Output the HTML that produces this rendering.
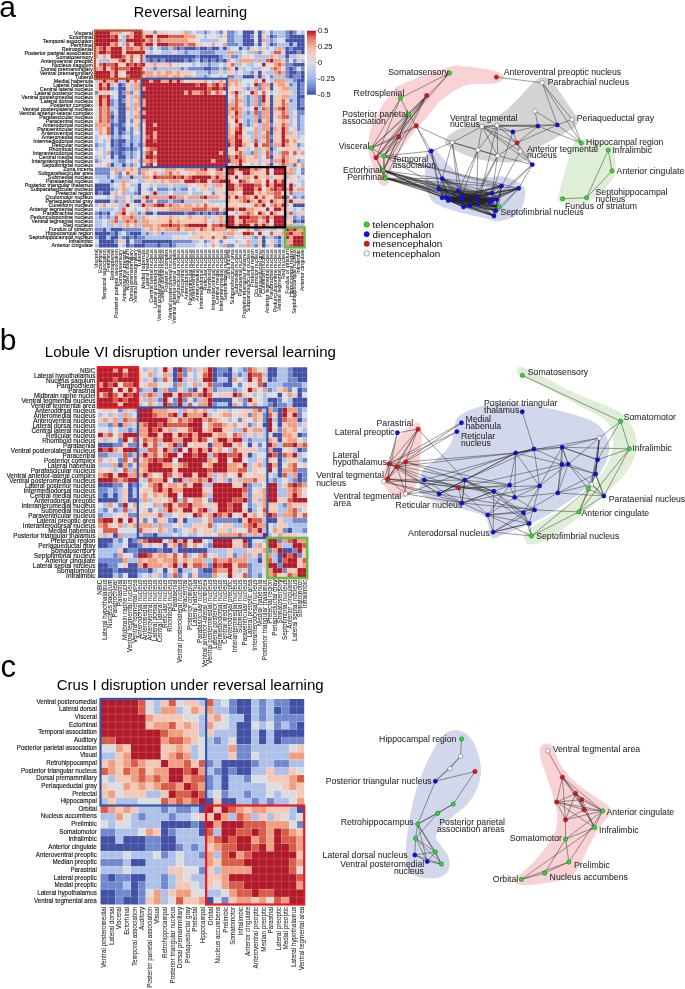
<!DOCTYPE html>
<html><head><meta charset="utf-8"><style>
html,body{margin:0;padding:0;background:#fff;}
body{width:685px;height:989px;overflow:hidden;}
svg{display:block;filter:blur(0.35px);font-family:"Liberation Sans",sans-serif;fill:#000;}
.lb{fill:#111;stroke:#111;stroke-width:0.14px;}
.cl{fill:#1a1a1a;stroke:#1a1a1a;stroke-width:0.05px;}
.nl{fill:#2a2a2a;stroke:#2a2a2a;stroke-width:0.06px;}
</style></head><body>
<svg width="685" height="989" viewBox="0 0 685 989">
<text x="-0.7" y="16.6" font-size="30">a</text>
<text x="-0.3" y="350" font-size="30">b</text>
<text x="0.6" y="677" font-size="31">c</text>
<text x="190.4" y="16.7" font-size="14.55" text-anchor="middle">Reversal learning</text>
<text x="190.35" y="357.1" font-size="15.05" text-anchor="middle">Lobule VI disruption under reversal learning</text>
<text x="190.2" y="689.6" font-size="15.0" text-anchor="middle">Crus I disruption under reversal learning</text>
<g transform="translate(94.8 30.5) scale(3.8852 4.0185)">
<path fill="#4250a5" d="M38 0h3v1h-3zM42 0h1v1h-1zM50 0h1v1h-1zM38 1h2v1h-2zM42 1h1v1h-1zM45 1h1v1h-1zM50 1h4v1h-4zM38 2h3v1h-3zM42 2h1v1h-1zM49 2h5v1h-5zM38 3h3v1h-3zM42 3h1v1h-1zM45 3h1v1h-1zM50 3h1v1h-1zM52 3h2v1h-2zM21 4h1v1h-1zM23 4h3v1h-3zM27 4h2v1h-2zM30 4h2v1h-2zM33 4h1v1h-1zM37 4h1v1h-1zM49 4h1v1h-1zM51 4h3v1h-3zM49 5h3v1h-3zM53 5h1v1h-1zM13 6h13v1h-13zM27 6h5v1h-5zM49 6h1v1h-1zM14 7h1v1h-1zM16 7h1v1h-1zM18 7h5v1h-5zM24 7h1v1h-1zM27 7h1v1h-1zM29 7h1v1h-1zM31 7h1v1h-1zM33 7h1v1h-1zM51 8h3v1h-3zM28 9h2v1h-2zM36 9h1v1h-1zM50 9h1v1h-1zM42 10h1v1h-1zM50 10h2v1h-2zM53 10h1v1h-1zM38 11h3v1h-3zM42 11h1v1h-1zM50 11h1v1h-1zM53 11h1v1h-1zM52 12h2v1h-2zM6 13h1v1h-1zM45 13h1v1h-1zM52 13h1v1h-1zM6 14h2v1h-2zM45 14h1v1h-1zM52 14h1v1h-1zM6 15h1v1h-1zM52 15h1v1h-1zM6 16h2v1h-2zM45 16h1v1h-1zM52 16h2v1h-2zM6 17h1v1h-1zM45 17h1v1h-1zM52 17h1v1h-1zM6 18h2v1h-2zM45 18h1v1h-1zM52 18h1v1h-1zM6 19h2v1h-2zM45 19h1v1h-1zM52 19h2v1h-2zM6 20h2v1h-2zM45 20h1v1h-1zM4 21h1v1h-1zM6 21h2v1h-2zM45 21h1v1h-1zM6 22h2v1h-2zM42 22h1v1h-1zM45 22h1v1h-1zM4 23h1v1h-1zM6 23h1v1h-1zM4 24h1v1h-1zM6 24h2v1h-2zM45 24h1v1h-1zM4 25h1v1h-1zM6 25h1v1h-1zM45 25h1v1h-1zM4 27h1v1h-1zM6 27h2v1h-2zM45 27h1v1h-1zM4 28h1v1h-1zM6 28h1v1h-1zM9 28h1v1h-1zM6 29h2v1h-2zM9 29h1v1h-1zM45 29h1v1h-1zM4 30h1v1h-1zM6 30h1v1h-1zM4 31h1v1h-1zM6 31h2v1h-2zM45 31h1v1h-1zM4 33h1v1h-1zM7 33h1v1h-1zM45 33h1v1h-1zM9 36h1v1h-1zM4 37h1v1h-1zM0 38h4v1h-4zM11 38h1v1h-1zM0 39h4v1h-4zM11 39h1v1h-1zM0 40h1v1h-1zM2 40h2v1h-2zM11 40h1v1h-1zM0 42h4v1h-4zM10 42h2v1h-2zM22 42h1v1h-1zM51 43h3v1h-3zM1 45h1v1h-1zM3 45h1v1h-1zM13 45h2v1h-2zM16 45h7v1h-7zM24 45h2v1h-2zM27 45h1v1h-1zM29 45h1v1h-1zM31 45h1v1h-1zM33 45h1v1h-1zM51 47h1v1h-1zM53 47h1v1h-1zM2 49h1v1h-1zM4 49h3v1h-3zM0 50h4v1h-4zM5 50h1v1h-1zM9 50h3v1h-3zM1 51h2v1h-2zM4 51h2v1h-2zM8 51h1v1h-1zM10 51h1v1h-1zM43 51h1v1h-1zM47 51h1v1h-1zM1 52h4v1h-4zM8 52h1v1h-1zM12 52h8v1h-8zM43 52h1v1h-1zM1 53h5v1h-5zM8 53h1v1h-1zM10 53h3v1h-3zM16 53h1v1h-1zM19 53h1v1h-1zM43 53h1v1h-1zM47 53h1v1h-1z"/>
<path fill="#b21a2b" d="M0 0h4v1h-4zM10 0h2v1h-2zM0 1h4v1h-4zM5 1h1v1h-1zM10 1h2v1h-2zM13 1h2v1h-2zM16 1h3v1h-3zM0 2h6v1h-6zM8 2h5v1h-5zM0 3h4v1h-4zM10 3h2v1h-2zM13 3h2v1h-2zM16 3h3v1h-3zM2 4h1v1h-1zM4 4h3v1h-3zM1 5h2v1h-2zM4 5h3v1h-3zM8 5h5v1h-5zM4 6h3v1h-3zM7 7h1v1h-1zM45 7h1v1h-1zM2 8h1v1h-1zM5 8h1v1h-1zM8 8h1v1h-1zM10 8h1v1h-1zM12 8h1v1h-1zM43 8h1v1h-1zM2 9h1v1h-1zM5 9h1v1h-1zM9 9h3v1h-3zM0 10h4v1h-4zM5 10h1v1h-1zM8 10h4v1h-4zM0 11h4v1h-4zM5 11h1v1h-1zM9 11h3v1h-3zM2 12h1v1h-1zM5 12h1v1h-1zM8 12h1v1h-1zM12 12h2v1h-2zM15 12h2v1h-2zM19 12h1v1h-1zM21 12h1v1h-1zM43 12h1v1h-1zM1 13h1v1h-1zM3 13h1v1h-1zM12 13h14v1h-14zM27 13h2v1h-2zM31 13h1v1h-1zM41 13h1v1h-1zM1 14h1v1h-1zM3 14h1v1h-1zM13 14h16v1h-16zM30 14h2v1h-2zM33 14h1v1h-1zM12 15h11v1h-11zM24 15h1v1h-1zM28 15h1v1h-1zM36 15h1v1h-1zM40 15h1v1h-1zM1 16h1v1h-1zM3 16h1v1h-1zM12 16h22v1h-22zM43 16h1v1h-1zM1 17h1v1h-1zM3 17h1v1h-1zM13 17h21v1h-21zM43 17h1v1h-1zM1 18h1v1h-1zM3 18h1v1h-1zM13 18h21v1h-21zM12 19h22v1h-22zM41 19h1v1h-1zM48 19h1v1h-1zM13 20h21v1h-21zM36 20h1v1h-1zM12 21h22v1h-22zM13 22h21v1h-21zM36 22h1v1h-1zM13 23h2v1h-2zM16 23h18v1h-18zM37 23h1v1h-1zM13 24h21v1h-21zM37 24h1v1h-1zM48 24h1v1h-1zM13 25h2v1h-2zM16 25h18v1h-18zM36 25h2v1h-2zM48 25h1v1h-1zM14 26h1v1h-1zM16 26h18v1h-18zM36 26h1v1h-1zM48 26h1v1h-1zM13 27h2v1h-2zM16 27h18v1h-18zM36 27h2v1h-2zM48 27h1v1h-1zM13 28h22v1h-22zM36 28h2v1h-2zM41 28h1v1h-1zM48 28h1v1h-1zM16 29h18v1h-18zM36 29h1v1h-1zM14 30h1v1h-1zM16 30h16v1h-16zM33 30h1v1h-1zM13 31h2v1h-2zM16 31h18v1h-18zM36 31h1v1h-1zM16 32h14v1h-14zM31 32h4v1h-4zM37 32h1v1h-1zM48 32h1v1h-1zM14 33h1v1h-1zM16 33h18v1h-18zM37 33h1v1h-1zM28 34h1v1h-1zM32 34h1v1h-1zM34 34h2v1h-2zM37 34h3v1h-3zM44 34h1v1h-1zM46 34h3v1h-3zM34 35h2v1h-2zM38 35h2v1h-2zM44 35h1v1h-1zM46 35h3v1h-3zM15 36h1v1h-1zM20 36h1v1h-1zM22 36h1v1h-1zM25 36h5v1h-5zM31 36h1v1h-1zM36 36h1v1h-1zM41 36h1v1h-1zM23 37h3v1h-3zM27 37h2v1h-2zM32 37h3v1h-3zM37 37h1v1h-1zM44 37h1v1h-1zM46 37h1v1h-1zM48 37h1v1h-1zM34 38h2v1h-2zM38 38h3v1h-3zM44 38h1v1h-1zM46 38h3v1h-3zM50 38h1v1h-1zM34 39h2v1h-2zM38 39h3v1h-3zM42 39h1v1h-1zM46 39h1v1h-1zM48 39h1v1h-1zM50 39h1v1h-1zM15 40h1v1h-1zM38 40h3v1h-3zM13 41h1v1h-1zM19 41h1v1h-1zM28 41h1v1h-1zM36 41h1v1h-1zM41 41h1v1h-1zM48 41h1v1h-1zM39 42h1v1h-1zM42 42h1v1h-1zM45 42h1v1h-1zM50 42h1v1h-1zM8 43h1v1h-1zM12 43h1v1h-1zM16 43h2v1h-2zM43 43h1v1h-1zM48 43h1v1h-1zM34 44h2v1h-2zM37 44h2v1h-2zM44 44h1v1h-1zM46 44h2v1h-2zM7 45h1v1h-1zM42 45h1v1h-1zM45 45h1v1h-1zM34 46h2v1h-2zM37 46h3v1h-3zM44 46h1v1h-1zM46 46h3v1h-3zM34 47h2v1h-2zM38 47h1v1h-1zM44 47h1v1h-1zM46 47h3v1h-3zM19 48h1v1h-1zM24 48h5v1h-5zM32 48h1v1h-1zM34 48h2v1h-2zM37 48h3v1h-3zM41 48h1v1h-1zM43 48h1v1h-1zM46 48h3v1h-3zM49 49h1v1h-1zM51 49h1v1h-1zM38 50h2v1h-2zM42 50h1v1h-1zM50 50h1v1h-1zM49 51h1v1h-1zM51 51h3v1h-3zM51 52h3v1h-3zM51 53h3v1h-3z"/>
<path fill="#7088cd" d="M15 0h1v1h-1zM28 0h1v1h-1zM32 0h1v1h-1zM34 0h2v1h-2zM45 0h1v1h-1zM49 0h1v1h-1zM51 0h1v1h-1zM34 1h2v1h-2zM40 1h1v1h-1zM46 1h1v1h-1zM49 1h1v1h-1zM34 2h2v1h-2zM45 2h1v1h-1zM34 3h3v1h-3zM46 3h1v1h-1zM14 4h1v1h-1zM17 4h2v1h-2zM20 4h1v1h-1zM22 4h1v1h-1zM26 4h1v1h-1zM29 4h1v1h-1zM39 4h1v1h-1zM50 4h1v1h-1zM23 5h1v1h-1zM27 5h4v1h-4zM42 5h1v1h-1zM52 5h1v1h-1zM26 6h1v1h-1zM32 6h1v1h-1zM35 6h2v1h-2zM13 7h1v1h-1zM15 7h1v1h-1zM17 7h1v1h-1zM23 7h1v1h-1zM25 7h1v1h-1zM28 7h1v1h-1zM30 7h1v1h-1zM32 7h1v1h-1zM49 7h1v1h-1zM51 7h1v1h-1zM29 8h1v1h-1zM49 8h2v1h-2zM15 9h1v1h-1zM22 9h1v1h-1zM24 9h4v1h-4zM30 9h2v1h-2zM33 9h1v1h-1zM49 9h1v1h-1zM51 9h1v1h-1zM53 9h1v1h-1zM29 10h1v1h-1zM40 10h1v1h-1zM49 10h1v1h-1zM52 10h1v1h-1zM28 11h1v1h-1zM34 11h2v1h-2zM45 11h1v1h-1zM49 11h1v1h-1zM51 11h2v1h-2zM51 12h1v1h-1zM7 13h1v1h-1zM42 13h1v1h-1zM50 13h1v1h-1zM53 13h1v1h-1zM4 14h1v1h-1zM39 14h1v1h-1zM42 14h1v1h-1zM53 14h1v1h-1zM0 15h1v1h-1zM7 15h1v1h-1zM9 15h1v1h-1zM53 15h1v1h-1zM39 16h1v1h-1zM42 16h1v1h-1zM4 17h1v1h-1zM7 17h1v1h-1zM39 17h1v1h-1zM42 17h1v1h-1zM50 17h1v1h-1zM53 17h1v1h-1zM4 18h1v1h-1zM39 18h1v1h-1zM42 18h1v1h-1zM53 18h1v1h-1zM4 20h1v1h-1zM39 20h1v1h-1zM42 20h1v1h-1zM52 20h2v1h-2zM42 21h1v1h-1zM52 21h1v1h-1zM4 22h1v1h-1zM9 22h1v1h-1zM39 22h1v1h-1zM52 22h1v1h-1zM5 23h1v1h-1zM7 23h1v1h-1zM39 23h1v1h-1zM45 23h1v1h-1zM52 23h1v1h-1zM9 24h1v1h-1zM52 24h1v1h-1zM7 25h1v1h-1zM9 25h1v1h-1zM4 26h1v1h-1zM6 26h1v1h-1zM9 26h1v1h-1zM45 26h1v1h-1zM5 27h1v1h-1zM9 27h1v1h-1zM0 28h1v1h-1zM5 28h1v1h-1zM7 28h1v1h-1zM11 28h1v1h-1zM45 28h1v1h-1zM52 28h1v1h-1zM4 29h2v1h-2zM8 29h1v1h-1zM10 29h1v1h-1zM5 30h1v1h-1zM7 30h1v1h-1zM9 30h1v1h-1zM40 30h1v1h-1zM45 30h1v1h-1zM9 31h1v1h-1zM0 32h1v1h-1zM6 32h2v1h-2zM45 32h1v1h-1zM52 32h1v1h-1zM9 33h1v1h-1zM0 34h4v1h-4zM11 34h1v1h-1zM53 34h1v1h-1zM0 35h4v1h-4zM6 35h1v1h-1zM11 35h1v1h-1zM53 35h1v1h-1zM3 36h1v1h-1zM6 36h1v1h-1zM4 39h1v1h-1zM14 39h1v1h-1zM16 39h3v1h-3zM20 39h1v1h-1zM22 39h2v1h-2zM1 40h1v1h-1zM10 40h1v1h-1zM30 40h1v1h-1zM49 41h1v1h-1zM51 41h1v1h-1zM53 41h1v1h-1zM5 42h1v1h-1zM13 42h2v1h-2zM16 42h3v1h-3zM20 42h2v1h-2zM0 45h1v1h-1zM2 45h1v1h-1zM11 45h1v1h-1zM23 45h1v1h-1zM26 45h1v1h-1zM28 45h1v1h-1zM30 45h1v1h-1zM32 45h1v1h-1zM1 46h1v1h-1zM3 46h1v1h-1zM51 46h1v1h-1zM53 46h1v1h-1zM52 47h1v1h-1zM0 49h2v1h-2zM7 49h5v1h-5zM41 49h1v1h-1zM4 50h1v1h-1zM8 50h1v1h-1zM13 50h1v1h-1zM17 50h1v1h-1zM0 51h1v1h-1zM7 51h1v1h-1zM9 51h1v1h-1zM11 51h2v1h-2zM41 51h1v1h-1zM46 51h1v1h-1zM5 52h1v1h-1zM10 52h2v1h-2zM20 52h5v1h-5zM28 52h1v1h-1zM32 52h1v1h-1zM47 52h1v1h-1zM9 53h1v1h-1zM13 53h3v1h-3zM17 53h2v1h-2zM20 53h1v1h-1zM34 53h2v1h-2zM41 53h1v1h-1zM46 53h1v1h-1z"/>
<path fill="#d85c48" d="M4 1h1v1h-1zM8 1h1v1h-1zM19 1h4v1h-4zM14 2h1v1h-1zM16 2h1v1h-1zM5 3h1v1h-1zM8 3h1v1h-1zM19 3h4v1h-4zM24 3h2v1h-2zM1 4h1v1h-1zM8 4h2v1h-2zM3 5h1v1h-1zM46 5h2v1h-2zM7 6h1v1h-1zM9 6h1v1h-1zM6 7h1v1h-1zM9 7h1v1h-1zM44 7h1v1h-1zM1 8h1v1h-1zM3 8h2v1h-2zM9 8h1v1h-1zM11 8h1v1h-1zM35 8h1v1h-1zM47 8h1v1h-1zM4 9h1v1h-1zM6 9h3v1h-3zM46 9h1v1h-1zM12 10h1v1h-1zM47 10h1v1h-1zM8 11h1v1h-1zM10 12h1v1h-1zM26 13h1v1h-1zM30 13h1v1h-1zM33 13h1v1h-1zM2 14h1v1h-1zM29 14h1v1h-1zM32 14h1v1h-1zM27 15h1v1h-1zM29 15h1v1h-1zM31 15h1v1h-1zM43 15h1v1h-1zM2 16h1v1h-1zM36 16h1v1h-1zM36 17h1v1h-1zM48 17h1v1h-1zM36 18h1v1h-1zM48 18h1v1h-1zM1 19h1v1h-1zM3 19h1v1h-1zM35 19h2v1h-2zM43 19h1v1h-1zM47 19h1v1h-1zM1 20h1v1h-1zM3 20h1v1h-1zM41 20h1v1h-1zM48 20h1v1h-1zM1 21h1v1h-1zM3 21h1v1h-1zM36 21h1v1h-1zM48 21h2v1h-2zM1 22h1v1h-1zM3 22h1v1h-1zM48 23h1v1h-1zM3 24h1v1h-1zM36 24h1v1h-1zM3 25h1v1h-1zM44 25h1v1h-1zM13 26h1v1h-1zM37 26h1v1h-1zM44 26h1v1h-1zM15 27h1v1h-1zM34 27h1v1h-1zM41 27h1v1h-1zM44 27h1v1h-1zM49 27h1v1h-1zM43 28h2v1h-2zM14 29h2v1h-2zM13 30h1v1h-1zM37 30h1v1h-1zM44 30h1v1h-1zM48 30h2v1h-2zM51 30h1v1h-1zM15 31h1v1h-1zM34 31h1v1h-1zM37 31h1v1h-1zM44 31h1v1h-1zM48 31h1v1h-1zM14 32h1v1h-1zM13 33h1v1h-1zM48 33h1v1h-1zM51 33h1v1h-1zM27 34h1v1h-1zM31 34h1v1h-1zM41 34h1v1h-1zM8 35h1v1h-1zM19 35h1v1h-1zM16 36h4v1h-4zM21 36h1v1h-1zM24 36h1v1h-1zM26 37h1v1h-1zM30 37h2v1h-2zM38 37h1v1h-1zM37 38h1v1h-1zM41 38h2v1h-2zM45 39h1v1h-1zM47 39h1v1h-1zM46 40h2v1h-2zM50 40h1v1h-1zM20 41h1v1h-1zM27 41h1v1h-1zM34 41h1v1h-1zM38 41h1v1h-1zM43 41h1v1h-1zM46 41h2v1h-2zM38 42h1v1h-1zM15 43h1v1h-1zM19 43h1v1h-1zM28 43h1v1h-1zM41 43h1v1h-1zM46 43h1v1h-1zM7 44h1v1h-1zM25 44h4v1h-4zM30 44h2v1h-2zM39 45h1v1h-1zM50 45h1v1h-1zM5 46h1v1h-1zM9 46h1v1h-1zM40 46h2v1h-2zM43 46h1v1h-1zM5 47h1v1h-1zM8 47h1v1h-1zM10 47h1v1h-1zM19 47h1v1h-1zM39 47h3v1h-3zM17 48h2v1h-2zM20 48h2v1h-2zM23 48h1v1h-1zM30 48h2v1h-2zM33 48h1v1h-1zM21 49h1v1h-1zM27 49h1v1h-1zM30 49h1v1h-1zM50 49h1v1h-1zM40 50h1v1h-1zM45 50h1v1h-1zM49 50h1v1h-1zM53 50h1v1h-1zM30 51h1v1h-1zM33 51h1v1h-1zM50 53h1v1h-1z"/>
<path fill="#aec1e9" d="M12 0h1v1h-1zM24 0h1v1h-1zM26 0h2v1h-2zM29 0h1v1h-1zM31 0h1v1h-1zM36 0h1v1h-1zM43 0h1v1h-1zM46 0h3v1h-3zM53 0h1v1h-1zM7 1h1v1h-1zM28 1h1v1h-1zM32 1h1v1h-1zM36 1h2v1h-2zM44 1h1v1h-1zM47 1h2v1h-2zM7 2h1v1h-1zM27 2h5v1h-5zM36 2h2v1h-2zM44 2h1v1h-1zM46 2h1v1h-1zM7 3h1v1h-1zM37 3h1v1h-1zM41 3h1v1h-1zM44 3h1v1h-1zM47 3h3v1h-3zM51 3h1v1h-1zM13 4h1v1h-1zM16 4h1v1h-1zM19 4h1v1h-1zM32 4h1v1h-1zM34 4h1v1h-1zM38 4h1v1h-1zM42 4h1v1h-1zM44 4h1v1h-1zM46 4h1v1h-1zM48 4h1v1h-1zM14 5h1v1h-1zM17 5h3v1h-3zM21 5h2v1h-2zM24 5h3v1h-3zM31 5h3v1h-3zM36 5h2v1h-2zM39 5h2v1h-2zM45 5h1v1h-1zM12 6h1v1h-1zM33 6h2v1h-2zM37 6h1v1h-1zM41 6h4v1h-4zM47 6h2v1h-2zM50 6h2v1h-2zM1 7h3v1h-3zM12 7h1v1h-1zM26 7h1v1h-1zM36 7h1v1h-1zM41 7h1v1h-1zM43 7h1v1h-1zM53 7h1v1h-1zM25 8h1v1h-1zM27 8h2v1h-2zM30 8h2v1h-2zM33 8h1v1h-1zM36 8h2v1h-2zM39 8h2v1h-2zM13 9h2v1h-2zM16 9h6v1h-6zM23 9h1v1h-1zM32 9h1v1h-1zM38 9h1v1h-1zM40 9h3v1h-3zM26 10h3v1h-3zM30 10h2v1h-2zM33 10h1v1h-1zM36 10h1v1h-1zM38 10h2v1h-2zM44 10h2v1h-2zM15 11h1v1h-1zM24 11h1v1h-1zM26 11h2v1h-2zM29 11h1v1h-1zM32 11h1v1h-1zM36 11h2v1h-2zM41 11h1v1h-1zM43 11h1v1h-1zM46 11h3v1h-3zM0 12h1v1h-1zM6 12h2v1h-2zM30 12h1v1h-1zM37 12h1v1h-1zM45 12h1v1h-1zM49 12h2v1h-2zM4 13h1v1h-1zM9 13h1v1h-1zM39 13h1v1h-1zM51 13h1v1h-1zM5 14h1v1h-1zM9 14h1v1h-1zM38 14h1v1h-1zM40 14h1v1h-1zM50 14h2v1h-2zM11 15h1v1h-1zM37 15h1v1h-1zM45 15h1v1h-1zM51 15h1v1h-1zM4 16h1v1h-1zM9 16h1v1h-1zM38 16h1v1h-1zM40 16h1v1h-1zM50 16h2v1h-2zM5 17h1v1h-1zM9 17h1v1h-1zM35 17h1v1h-1zM38 17h1v1h-1zM40 17h1v1h-1zM51 17h1v1h-1zM5 18h1v1h-1zM9 18h1v1h-1zM38 18h1v1h-1zM40 18h1v1h-1zM50 18h2v1h-2zM4 19h2v1h-2zM9 19h1v1h-1zM39 19h1v1h-1zM42 19h1v1h-1zM50 19h2v1h-2zM9 20h1v1h-1zM38 20h1v1h-1zM40 20h1v1h-1zM50 20h1v1h-1zM5 21h1v1h-1zM9 21h1v1h-1zM38 21h3v1h-3zM50 21h1v1h-1zM53 21h1v1h-1zM5 22h1v1h-1zM38 22h1v1h-1zM40 22h1v1h-1zM50 22h1v1h-1zM53 22h1v1h-1zM9 23h1v1h-1zM38 23h1v1h-1zM40 23h1v1h-1zM42 23h1v1h-1zM50 23h1v1h-1zM53 23h1v1h-1zM0 24h1v1h-1zM5 24h1v1h-1zM11 24h1v1h-1zM42 24h1v1h-1zM53 24h1v1h-1zM5 25h1v1h-1zM8 25h1v1h-1zM39 25h2v1h-2zM42 25h1v1h-1zM50 25h1v1h-1zM52 25h2v1h-2zM0 26h1v1h-1zM5 26h1v1h-1zM7 26h1v1h-1zM10 26h2v1h-2zM40 26h1v1h-1zM42 26h1v1h-1zM52 26h1v1h-1zM0 27h1v1h-1zM2 27h1v1h-1zM8 27h1v1h-1zM10 27h2v1h-2zM40 27h1v1h-1zM42 27h1v1h-1zM1 28h2v1h-2zM8 28h1v1h-1zM10 28h1v1h-1zM53 28h1v1h-1zM0 29h1v1h-1zM2 29h1v1h-1zM11 29h1v1h-1zM39 29h1v1h-1zM42 29h1v1h-1zM46 29h1v1h-1zM52 29h1v1h-1zM2 30h1v1h-1zM8 30h1v1h-1zM10 30h1v1h-1zM12 30h1v1h-1zM38 30h2v1h-2zM42 30h1v1h-1zM47 30h1v1h-1zM0 31h1v1h-1zM2 31h1v1h-1zM5 31h1v1h-1zM8 31h1v1h-1zM10 31h1v1h-1zM42 31h1v1h-1zM1 32h1v1h-1zM4 32h2v1h-2zM9 32h1v1h-1zM11 32h1v1h-1zM42 32h1v1h-1zM53 32h1v1h-1zM5 33h2v1h-2zM8 33h1v1h-1zM10 33h1v1h-1zM35 33h1v1h-1zM40 33h1v1h-1zM42 33h1v1h-1zM47 33h1v1h-1zM50 33h1v1h-1zM4 34h1v1h-1zM6 34h1v1h-1zM51 34h1v1h-1zM17 35h1v1h-1zM33 35h1v1h-1zM51 35h1v1h-1zM0 36h3v1h-3zM5 36h1v1h-1zM7 36h2v1h-2zM10 36h2v1h-2zM45 36h1v1h-1zM49 36h1v1h-1zM52 36h1v1h-1zM1 37h3v1h-3zM5 37h2v1h-2zM8 37h1v1h-1zM11 37h2v1h-2zM15 37h1v1h-1zM53 37h1v1h-1zM4 38h1v1h-1zM9 38h2v1h-2zM14 38h1v1h-1zM16 38h3v1h-3zM20 38h4v1h-4zM30 38h1v1h-1zM51 38h1v1h-1zM53 38h1v1h-1zM5 39h1v1h-1zM8 39h1v1h-1zM10 39h1v1h-1zM13 39h1v1h-1zM19 39h1v1h-1zM21 39h1v1h-1zM25 39h1v1h-1zM29 39h2v1h-2zM5 40h1v1h-1zM8 40h2v1h-2zM14 40h1v1h-1zM16 40h3v1h-3zM20 40h4v1h-4zM25 40h3v1h-3zM33 40h1v1h-1zM51 40h3v1h-3zM3 41h1v1h-1zM6 41h2v1h-2zM9 41h1v1h-1zM11 41h1v1h-1zM52 41h1v1h-1zM4 42h1v1h-1zM6 42h1v1h-1zM9 42h1v1h-1zM19 42h1v1h-1zM23 42h5v1h-5zM29 42h5v1h-5zM0 43h1v1h-1zM6 43h2v1h-2zM11 43h1v1h-1zM49 43h1v1h-1zM1 44h4v1h-4zM6 44h1v1h-1zM10 44h1v1h-1zM51 44h1v1h-1zM53 44h1v1h-1zM5 45h1v1h-1zM10 45h1v1h-1zM12 45h1v1h-1zM15 45h1v1h-1zM36 45h1v1h-1zM49 45h1v1h-1zM51 45h1v1h-1zM0 46h1v1h-1zM2 46h1v1h-1zM4 46h1v1h-1zM11 46h1v1h-1zM29 46h1v1h-1zM49 46h1v1h-1zM52 46h1v1h-1zM0 47h2v1h-2zM3 47h1v1h-1zM6 47h1v1h-1zM11 47h1v1h-1zM30 47h1v1h-1zM33 47h1v1h-1zM0 48h2v1h-2zM3 48h2v1h-2zM6 48h1v1h-1zM11 48h1v1h-1zM49 48h1v1h-1zM51 48h3v1h-3zM3 49h1v1h-1zM12 49h1v1h-1zM36 49h1v1h-1zM43 49h1v1h-1zM45 49h2v1h-2zM48 49h1v1h-1zM6 50h1v1h-1zM12 50h1v1h-1zM14 50h1v1h-1zM16 50h1v1h-1zM18 50h6v1h-6zM25 50h1v1h-1zM33 50h1v1h-1zM3 51h1v1h-1zM6 51h1v1h-1zM13 51h7v1h-7zM34 51h2v1h-2zM38 51h1v1h-1zM40 51h1v1h-1zM44 51h2v1h-2zM48 51h1v1h-1zM25 52h2v1h-2zM29 52h1v1h-1zM36 52h1v1h-1zM40 52h2v1h-2zM46 52h1v1h-1zM48 52h1v1h-1zM0 53h1v1h-1zM7 53h1v1h-1zM21 53h5v1h-5zM28 53h1v1h-1zM32 53h1v1h-1zM37 53h2v1h-2zM40 53h1v1h-1zM44 53h1v1h-1zM48 53h1v1h-1z"/>
<path fill="#f3c8b6" d="M13 0h2v1h-2zM16 0h3v1h-3zM22 0h1v1h-1zM15 1h1v1h-1zM31 1h1v1h-1zM33 1h1v1h-1zM43 1h1v1h-1zM15 2h1v1h-1zM24 2h2v1h-2zM9 3h1v1h-1zM15 3h1v1h-1zM26 3h2v1h-2zM7 4h1v1h-1zM40 4h1v1h-1zM43 4h1v1h-1zM7 5h1v1h-1zM13 5h1v1h-1zM20 5h1v1h-1zM43 5h1v1h-1zM48 5h1v1h-1zM8 6h1v1h-1zM10 6h2v1h-2zM38 6h2v1h-2zM46 6h1v1h-1zM52 6h1v1h-1zM4 7h2v1h-2zM8 7h1v1h-1zM48 7h1v1h-1zM52 7h1v1h-1zM6 8h2v1h-2zM13 8h2v1h-2zM16 8h3v1h-3zM21 8h1v1h-1zM34 8h1v1h-1zM3 9h1v1h-1zM12 9h1v1h-1zM35 9h1v1h-1zM37 9h1v1h-1zM6 10h1v1h-1zM15 10h1v1h-1zM17 10h1v1h-1zM20 10h1v1h-1zM22 10h3v1h-3zM32 10h1v1h-1zM34 10h2v1h-2zM41 10h1v1h-1zM43 10h1v1h-1zM6 11h1v1h-1zM12 11h1v1h-1zM19 11h1v1h-1zM22 11h1v1h-1zM25 11h1v1h-1zM9 12h1v1h-1zM11 12h1v1h-1zM24 12h4v1h-4zM31 12h1v1h-1zM42 12h1v1h-1zM0 13h1v1h-1zM5 13h1v1h-1zM8 13h1v1h-1zM35 13h1v1h-1zM37 13h1v1h-1zM46 13h1v1h-1zM49 13h1v1h-1zM0 14h1v1h-1zM8 14h1v1h-1zM34 14h1v1h-1zM36 14h2v1h-2zM44 14h1v1h-1zM47 14h1v1h-1zM1 15h3v1h-3zM10 15h1v1h-1zM30 15h1v1h-1zM34 15h1v1h-1zM38 15h1v1h-1zM47 15h4v1h-4zM0 16h1v1h-1zM8 16h1v1h-1zM35 16h1v1h-1zM37 16h1v1h-1zM44 16h1v1h-1zM46 16h2v1h-2zM0 17h1v1h-1zM8 17h1v1h-1zM10 17h1v1h-1zM34 17h1v1h-1zM44 17h1v1h-1zM46 17h2v1h-2zM49 17h1v1h-1zM0 18h1v1h-1zM8 18h1v1h-1zM37 18h1v1h-1zM44 18h1v1h-1zM46 18h2v1h-2zM11 19h1v1h-1zM38 19h1v1h-1zM5 20h1v1h-1zM10 20h1v1h-1zM35 20h1v1h-1zM46 20h2v1h-2zM8 21h1v1h-1zM34 21h1v1h-1zM46 21h1v1h-1zM51 21h1v1h-1zM0 22h1v1h-1zM10 22h2v1h-2zM34 22h1v1h-1zM37 22h1v1h-1zM43 22h1v1h-1zM47 22h1v1h-1zM49 22h1v1h-1zM10 23h1v1h-1zM41 23h1v1h-1zM46 23h2v1h-2zM2 24h1v1h-1zM10 24h1v1h-1zM12 24h1v1h-1zM35 24h1v1h-1zM38 24h1v1h-1zM47 24h1v1h-1zM51 24h1v1h-1zM2 25h1v1h-1zM11 25h2v1h-2zM35 25h1v1h-1zM43 25h1v1h-1zM46 25h2v1h-2zM51 25h1v1h-1zM3 26h1v1h-1zM12 26h1v1h-1zM38 26h1v1h-1zM46 26h2v1h-2zM49 26h3v1h-3zM3 27h1v1h-1zM12 27h1v1h-1zM38 27h2v1h-2zM43 27h1v1h-1zM46 27h2v1h-2zM50 27h1v1h-1zM39 28h1v1h-1zM42 28h1v1h-1zM50 28h2v1h-2zM34 29h2v1h-2zM37 29h2v1h-2zM43 29h1v1h-1zM48 29h4v1h-4zM15 30h1v1h-1zM34 30h1v1h-1zM43 30h1v1h-1zM46 30h1v1h-1zM52 30h1v1h-1zM1 31h1v1h-1zM12 31h1v1h-1zM39 31h2v1h-2zM46 31h2v1h-2zM50 31h2v1h-2zM10 32h1v1h-1zM39 32h3v1h-3zM43 32h2v1h-2zM50 32h2v1h-2zM1 33h1v1h-1zM34 33h1v1h-1zM41 33h1v1h-1zM46 33h1v1h-1zM8 34h1v1h-1zM10 34h1v1h-1zM14 34h2v1h-2zM17 34h1v1h-1zM21 34h2v1h-2zM29 34h2v1h-2zM33 34h1v1h-1zM43 34h1v1h-1zM49 34h1v1h-1zM9 35h2v1h-2zM13 35h1v1h-1zM16 35h1v1h-1zM20 35h1v1h-1zM24 35h2v1h-2zM29 35h1v1h-1zM36 35h2v1h-2zM41 35h3v1h-3zM14 36h1v1h-1zM35 36h1v1h-1zM40 36h1v1h-1zM42 36h2v1h-2zM46 36h2v1h-2zM50 36h1v1h-1zM9 37h1v1h-1zM13 37h2v1h-2zM16 37h1v1h-1zM18 37h1v1h-1zM22 37h1v1h-1zM29 37h1v1h-1zM35 37h1v1h-1zM45 37h1v1h-1zM50 37h1v1h-1zM52 37h1v1h-1zM6 38h1v1h-1zM15 38h1v1h-1zM19 38h1v1h-1zM24 38h1v1h-1zM26 38h2v1h-2zM29 38h1v1h-1zM43 38h1v1h-1zM6 39h1v1h-1zM27 39h2v1h-2zM31 39h2v1h-2zM51 39h1v1h-1zM4 40h1v1h-1zM31 40h2v1h-2zM36 40h1v1h-1zM41 40h1v1h-1zM43 40h1v1h-1zM48 40h1v1h-1zM10 41h1v1h-1zM23 41h1v1h-1zM32 41h2v1h-2zM35 41h1v1h-1zM40 41h1v1h-1zM42 41h1v1h-1zM44 41h1v1h-1zM12 42h1v1h-1zM28 42h1v1h-1zM35 42h2v1h-2zM41 42h1v1h-1zM44 42h1v1h-1zM47 42h1v1h-1zM51 42h3v1h-3zM1 43h1v1h-1zM4 43h2v1h-2zM10 43h1v1h-1zM22 43h1v1h-1zM25 43h1v1h-1zM27 43h1v1h-1zM29 43h2v1h-2zM32 43h1v1h-1zM34 43h3v1h-3zM38 43h1v1h-1zM40 43h1v1h-1zM14 44h1v1h-1zM16 44h3v1h-3zM32 44h1v1h-1zM41 44h2v1h-2zM49 44h1v1h-1zM37 45h1v1h-1zM48 45h1v1h-1zM52 45h2v1h-2zM6 46h1v1h-1zM13 46h1v1h-1zM16 46h3v1h-3zM20 46h2v1h-2zM23 46h1v1h-1zM25 46h3v1h-3zM30 46h2v1h-2zM33 46h1v1h-1zM36 46h1v1h-1zM50 46h1v1h-1zM14 47h5v1h-5zM20 47h1v1h-1zM22 47h6v1h-6zM31 47h1v1h-1zM36 47h1v1h-1zM42 47h1v1h-1zM50 47h1v1h-1zM5 48h1v1h-1zM7 48h1v1h-1zM15 48h1v1h-1zM29 48h1v1h-1zM40 48h1v1h-1zM45 48h1v1h-1zM13 49h1v1h-1zM15 49h1v1h-1zM17 49h1v1h-1zM22 49h1v1h-1zM26 49h1v1h-1zM29 49h1v1h-1zM34 49h1v1h-1zM44 49h1v1h-1zM15 50h1v1h-1zM26 50h4v1h-4zM31 50h2v1h-2zM36 50h2v1h-2zM46 50h2v1h-2zM21 51h1v1h-1zM24 51h3v1h-3zM28 51h2v1h-2zM31 51h2v1h-2zM39 51h1v1h-1zM42 51h1v1h-1zM6 52h2v1h-2zM30 52h1v1h-1zM37 52h1v1h-1zM42 52h1v1h-1zM45 52h1v1h-1zM42 53h1v1h-1zM45 53h1v1h-1z"/>
<path fill="#f09e82" d="M4 0h3v1h-3zM9 0h1v1h-1zM23 0h1v1h-1zM9 1h1v1h-1zM12 1h1v1h-1zM23 1h3v1h-3zM6 2h1v1h-1zM13 2h1v1h-1zM17 2h7v1h-7zM43 2h1v1h-1zM4 3h1v1h-1zM12 3h1v1h-1zM23 3h1v1h-1zM30 3h1v1h-1zM33 3h1v1h-1zM0 4h1v1h-1zM3 4h1v1h-1zM10 4h3v1h-3zM47 4h1v1h-1zM0 5h1v1h-1zM34 5h2v1h-2zM41 5h1v1h-1zM0 6h1v1h-1zM2 6h1v1h-1zM45 6h1v1h-1zM34 7h1v1h-1zM37 7h4v1h-4zM42 7h1v1h-1zM46 7h2v1h-2zM15 8h1v1h-1zM19 8h1v1h-1zM46 8h1v1h-1zM48 8h1v1h-1zM0 9h2v1h-2zM34 9h1v1h-1zM45 9h1v1h-1zM47 9h1v1h-1zM4 10h1v1h-1zM13 10h2v1h-2zM16 10h1v1h-1zM18 10h2v1h-2zM21 10h1v1h-1zM46 10h1v1h-1zM48 10h1v1h-1zM4 11h1v1h-1zM13 11h2v1h-2zM16 11h3v1h-3zM20 11h2v1h-2zM23 11h1v1h-1zM1 12h1v1h-1zM3 12h2v1h-2zM14 12h1v1h-1zM17 12h2v1h-2zM20 12h1v1h-1zM22 12h1v1h-1zM28 12h1v1h-1zM32 12h1v1h-1zM34 12h3v1h-3zM41 12h1v1h-1zM46 12h3v1h-3zM2 13h1v1h-1zM10 13h2v1h-2zM29 13h1v1h-1zM32 13h1v1h-1zM34 13h1v1h-1zM36 13h1v1h-1zM43 13h2v1h-2zM47 13h2v1h-2zM10 14h3v1h-3zM41 14h1v1h-1zM43 14h1v1h-1zM48 14h2v1h-2zM8 15h1v1h-1zM23 15h1v1h-1zM25 15h2v1h-2zM32 15h1v1h-1zM35 15h1v1h-1zM41 15h1v1h-1zM10 16h2v1h-2zM41 16h1v1h-1zM48 16h2v1h-2zM2 17h1v1h-1zM11 17h2v1h-2zM37 17h1v1h-1zM41 17h1v1h-1zM2 18h1v1h-1zM10 18h3v1h-3zM34 18h2v1h-2zM41 18h1v1h-1zM43 18h1v1h-1zM49 18h1v1h-1zM2 19h1v1h-1zM8 19h1v1h-1zM10 19h1v1h-1zM34 19h1v1h-1zM37 19h1v1h-1zM44 19h1v1h-1zM46 19h1v1h-1zM49 19h1v1h-1zM2 20h1v1h-1zM11 20h2v1h-2zM34 20h1v1h-1zM37 20h1v1h-1zM43 20h2v1h-2zM49 20h1v1h-1zM2 21h1v1h-1zM10 21h2v1h-2zM35 21h1v1h-1zM37 21h1v1h-1zM41 21h1v1h-1zM43 21h2v1h-2zM47 21h1v1h-1zM2 22h1v1h-1zM12 22h1v1h-1zM41 22h1v1h-1zM44 22h1v1h-1zM48 22h1v1h-1zM0 23h4v1h-4zM11 23h1v1h-1zM15 23h1v1h-1zM34 23h1v1h-1zM36 23h1v1h-1zM43 23h2v1h-2zM49 23h1v1h-1zM1 24h1v1h-1zM34 24h1v1h-1zM41 24h1v1h-1zM43 24h2v1h-2zM46 24h1v1h-1zM49 24h1v1h-1zM1 25h1v1h-1zM15 25h1v1h-1zM34 25h1v1h-1zM41 25h1v1h-1zM49 25h1v1h-1zM15 26h1v1h-1zM34 26h2v1h-2zM41 26h1v1h-1zM43 26h1v1h-1zM35 27h1v1h-1zM51 27h1v1h-1zM12 28h1v1h-1zM35 28h1v1h-1zM38 28h1v1h-1zM46 28h2v1h-2zM49 28h1v1h-1zM13 29h1v1h-1zM41 29h1v1h-1zM44 29h1v1h-1zM3 30h1v1h-1zM32 30h1v1h-1zM36 30h1v1h-1zM41 30h1v1h-1zM53 30h1v1h-1zM35 31h1v1h-1zM38 31h1v1h-1zM41 31h1v1h-1zM49 31h1v1h-1zM12 32h2v1h-2zM15 32h1v1h-1zM30 32h1v1h-1zM35 32h2v1h-2zM38 32h1v1h-1zM46 32h2v1h-2zM49 32h1v1h-1zM3 33h1v1h-1zM36 33h1v1h-1zM44 33h1v1h-1zM49 33h1v1h-1zM53 33h1v1h-1zM5 34h1v1h-1zM7 34h1v1h-1zM9 34h1v1h-1zM12 34h2v1h-2zM18 34h3v1h-3zM23 34h4v1h-4zM36 34h1v1h-1zM40 34h1v1h-1zM42 34h1v1h-1zM50 34h1v1h-1zM5 35h1v1h-1zM12 35h1v1h-1zM15 35h1v1h-1zM18 35h1v1h-1zM21 35h1v1h-1zM26 35h3v1h-3zM31 35h2v1h-2zM40 35h1v1h-1zM49 35h2v1h-2zM12 36h2v1h-2zM23 36h1v1h-1zM30 36h1v1h-1zM32 36h3v1h-3zM38 36h2v1h-2zM44 36h1v1h-1zM48 36h1v1h-1zM7 37h1v1h-1zM17 37h1v1h-1zM19 37h3v1h-3zM39 37h1v1h-1zM41 37h2v1h-2zM47 37h1v1h-1zM7 38h1v1h-1zM28 38h1v1h-1zM31 38h2v1h-2zM36 38h1v1h-1zM45 38h1v1h-1zM7 39h1v1h-1zM36 39h2v1h-2zM41 39h1v1h-1zM44 39h1v1h-1zM49 39h1v1h-1zM52 39h2v1h-2zM7 40h1v1h-1zM34 40h2v1h-2zM42 40h1v1h-1zM44 40h2v1h-2zM5 41h1v1h-1zM12 41h1v1h-1zM14 41h5v1h-5zM21 41h2v1h-2zM24 41h3v1h-3zM29 41h3v1h-3zM37 41h1v1h-1zM39 41h1v1h-1zM7 42h1v1h-1zM34 42h1v1h-1zM37 42h1v1h-1zM40 42h1v1h-1zM43 42h1v1h-1zM46 42h1v1h-1zM48 42h2v1h-2zM2 43h1v1h-1zM13 43h2v1h-2zM18 43h1v1h-1zM20 43h2v1h-2zM23 43h2v1h-2zM26 43h1v1h-1zM42 43h1v1h-1zM45 43h1v1h-1zM47 43h1v1h-1zM13 44h1v1h-1zM19 44h6v1h-6zM29 44h1v1h-1zM33 44h1v1h-1zM36 44h1v1h-1zM39 44h2v1h-2zM48 44h1v1h-1zM6 45h1v1h-1zM9 45h1v1h-1zM38 45h1v1h-1zM40 45h1v1h-1zM43 45h1v1h-1zM46 45h1v1h-1zM7 46h2v1h-2zM10 46h1v1h-1zM12 46h1v1h-1zM19 46h1v1h-1zM24 46h1v1h-1zM28 46h1v1h-1zM32 46h1v1h-1zM42 46h1v1h-1zM45 46h1v1h-1zM4 47h1v1h-1zM7 47h1v1h-1zM9 47h1v1h-1zM12 47h2v1h-2zM21 47h1v1h-1zM28 47h1v1h-1zM32 47h1v1h-1zM37 47h1v1h-1zM43 47h1v1h-1zM8 48h1v1h-1zM10 48h1v1h-1zM12 48h3v1h-3zM16 48h1v1h-1zM22 48h1v1h-1zM36 48h1v1h-1zM42 48h1v1h-1zM44 48h1v1h-1zM50 48h1v1h-1zM14 49h1v1h-1zM16 49h1v1h-1zM18 49h3v1h-3zM23 49h3v1h-3zM28 49h1v1h-1zM31 49h3v1h-3zM35 49h1v1h-1zM39 49h1v1h-1zM42 49h1v1h-1zM52 49h2v1h-2zM34 50h2v1h-2zM48 50h1v1h-1zM51 50h2v1h-2zM27 51h1v1h-1zM50 51h1v1h-1zM39 52h1v1h-1zM49 52h2v1h-2zM30 53h1v1h-1zM33 53h1v1h-1zM39 53h1v1h-1zM49 53h1v1h-1z"/>
<path fill="#dcdde1" d="M7 0h2v1h-2zM19 0h3v1h-3zM25 0h1v1h-1zM30 0h1v1h-1zM33 0h1v1h-1zM37 0h1v1h-1zM41 0h1v1h-1zM44 0h1v1h-1zM52 0h1v1h-1zM6 1h1v1h-1zM26 1h2v1h-2zM29 1h2v1h-2zM41 1h1v1h-1zM26 2h1v1h-1zM32 2h2v1h-2zM41 2h1v1h-1zM47 2h2v1h-2zM6 3h1v1h-1zM28 3h2v1h-2zM31 3h2v1h-2zM43 3h1v1h-1zM15 4h1v1h-1zM35 4h2v1h-2zM41 4h1v1h-1zM45 4h1v1h-1zM15 5h2v1h-2zM38 5h1v1h-1zM44 5h1v1h-1zM1 6h1v1h-1zM3 6h1v1h-1zM40 6h1v1h-1zM53 6h1v1h-1zM0 7h1v1h-1zM10 7h2v1h-2zM35 7h1v1h-1zM50 7h1v1h-1zM0 8h1v1h-1zM20 8h1v1h-1zM22 8h3v1h-3zM26 8h1v1h-1zM32 8h1v1h-1zM38 8h1v1h-1zM41 8h2v1h-2zM44 8h2v1h-2zM39 9h1v1h-1zM43 9h2v1h-2zM48 9h1v1h-1zM52 9h1v1h-1zM7 10h1v1h-1zM25 10h1v1h-1zM37 10h1v1h-1zM7 11h1v1h-1zM30 11h2v1h-2zM33 11h1v1h-1zM44 11h1v1h-1zM23 12h1v1h-1zM29 12h1v1h-1zM33 12h1v1h-1zM38 12h3v1h-3zM44 12h1v1h-1zM38 13h1v1h-1zM40 13h1v1h-1zM35 14h1v1h-1zM46 14h1v1h-1zM4 15h2v1h-2zM33 15h1v1h-1zM39 15h1v1h-1zM42 15h1v1h-1zM44 15h1v1h-1zM46 15h1v1h-1zM5 16h1v1h-1zM34 16h1v1h-1zM0 19h1v1h-1zM40 19h1v1h-1zM0 20h1v1h-1zM8 20h1v1h-1zM51 20h1v1h-1zM0 21h1v1h-1zM8 22h1v1h-1zM35 22h1v1h-1zM46 22h1v1h-1zM51 22h1v1h-1zM8 23h1v1h-1zM12 23h1v1h-1zM35 23h1v1h-1zM51 23h1v1h-1zM8 24h1v1h-1zM39 24h2v1h-2zM50 24h1v1h-1zM0 25h1v1h-1zM10 25h1v1h-1zM38 25h1v1h-1zM1 26h2v1h-2zM8 26h1v1h-1zM39 26h1v1h-1zM53 26h1v1h-1zM1 27h1v1h-1zM52 27h2v1h-2zM3 28h1v1h-1zM40 28h1v1h-1zM1 29h1v1h-1zM3 29h1v1h-1zM12 29h1v1h-1zM40 29h1v1h-1zM47 29h1v1h-1zM53 29h1v1h-1zM0 30h2v1h-2zM11 30h1v1h-1zM35 30h1v1h-1zM50 30h1v1h-1zM3 31h1v1h-1zM11 31h1v1h-1zM43 31h1v1h-1zM52 31h2v1h-2zM2 32h2v1h-2zM8 32h1v1h-1zM0 33h1v1h-1zM2 33h1v1h-1zM11 33h2v1h-2zM15 33h1v1h-1zM38 33h2v1h-2zM43 33h1v1h-1zM52 33h1v1h-1zM16 34h1v1h-1zM45 34h1v1h-1zM52 34h1v1h-1zM4 35h1v1h-1zM7 35h1v1h-1zM14 35h1v1h-1zM22 35h2v1h-2zM30 35h1v1h-1zM45 35h1v1h-1zM52 35h1v1h-1zM4 36h1v1h-1zM37 36h1v1h-1zM51 36h1v1h-1zM53 36h1v1h-1zM0 37h1v1h-1zM10 37h1v1h-1zM36 37h1v1h-1zM40 37h1v1h-1zM43 37h1v1h-1zM49 37h1v1h-1zM51 37h1v1h-1zM5 38h1v1h-1zM8 38h1v1h-1zM12 38h2v1h-2zM25 38h1v1h-1zM33 38h1v1h-1zM49 38h1v1h-1zM52 38h1v1h-1zM9 39h1v1h-1zM12 39h1v1h-1zM15 39h1v1h-1zM24 39h1v1h-1zM26 39h1v1h-1zM33 39h1v1h-1zM43 39h1v1h-1zM6 40h1v1h-1zM12 40h2v1h-2zM19 40h1v1h-1zM24 40h1v1h-1zM28 40h2v1h-2zM37 40h1v1h-1zM49 40h1v1h-1zM0 41h3v1h-3zM4 41h1v1h-1zM8 41h1v1h-1zM45 41h1v1h-1zM50 41h1v1h-1zM8 42h1v1h-1zM15 42h1v1h-1zM3 43h1v1h-1zM9 43h1v1h-1zM31 43h1v1h-1zM33 43h1v1h-1zM37 43h1v1h-1zM39 43h1v1h-1zM44 43h1v1h-1zM50 43h1v1h-1zM0 44h1v1h-1zM5 44h1v1h-1zM8 44h2v1h-2zM11 44h2v1h-2zM15 44h1v1h-1zM43 44h1v1h-1zM45 44h1v1h-1zM50 44h1v1h-1zM52 44h1v1h-1zM4 45h1v1h-1zM8 45h1v1h-1zM34 45h2v1h-2zM41 45h1v1h-1zM44 45h1v1h-1zM47 45h1v1h-1zM14 46h2v1h-2zM22 46h1v1h-1zM2 47h1v1h-1zM29 47h1v1h-1zM45 47h1v1h-1zM49 47h1v1h-1zM2 48h1v1h-1zM9 48h1v1h-1zM37 49h2v1h-2zM40 49h1v1h-1zM47 49h1v1h-1zM7 50h1v1h-1zM24 50h1v1h-1zM30 50h1v1h-1zM41 50h1v1h-1zM43 50h2v1h-2zM20 51h1v1h-1zM22 51h2v1h-2zM36 51h2v1h-2zM0 52h1v1h-1zM9 52h1v1h-1zM27 52h1v1h-1zM31 52h1v1h-1zM33 52h3v1h-3zM38 52h1v1h-1zM44 52h1v1h-1zM6 53h1v1h-1zM26 53h2v1h-2zM29 53h1v1h-1zM31 53h1v1h-1zM36 53h1v1h-1z"/>
<path d="M1 0V54M0 1H54M2 0V54M0 2H54M3 0V54M0 3H54M4 0V54M0 4H54M5 0V54M0 5H54M6 0V54M0 6H54M7 0V54M0 7H54M8 0V54M0 8H54M9 0V54M0 9H54M10 0V54M0 10H54M11 0V54M0 11H54M12 0V54M0 12H54M13 0V54M0 13H54M14 0V54M0 14H54M15 0V54M0 15H54M16 0V54M0 16H54M17 0V54M0 17H54M18 0V54M0 18H54M19 0V54M0 19H54M20 0V54M0 20H54M21 0V54M0 21H54M22 0V54M0 22H54M23 0V54M0 23H54M24 0V54M0 24H54M25 0V54M0 25H54M26 0V54M0 26H54M27 0V54M0 27H54M28 0V54M0 28H54M29 0V54M0 29H54M30 0V54M0 30H54M31 0V54M0 31H54M32 0V54M0 32H54M33 0V54M0 33H54M34 0V54M0 34H54M35 0V54M0 35H54M36 0V54M0 36H54M37 0V54M0 37H54M38 0V54M0 38H54M39 0V54M0 39H54M40 0V54M0 40H54M41 0V54M0 41H54M42 0V54M0 42H54M43 0V54M0 43H54M44 0V54M0 44H54M45 0V54M0 45H54M46 0V54M0 46H54M47 0V54M0 47H54M48 0V54M0 48H54M49 0V54M0 49H54M50 0V54M0 50H54M51 0V54M0 51H54M52 0V54M0 52H54M53 0V54M0 53H54" stroke="#fff" stroke-opacity="0.22" stroke-width="0.7" vector-effect="non-scaling-stroke" fill="none"/>
</g>
<text class="lb" transform="translate(93 34.51) scale(1.000 1)" text-anchor="end" font-size="5.35">Visceral</text>
<text class="lb" transform="translate(93 38.53) scale(1.000 1)" text-anchor="end" font-size="5.35">Ectorhinal</text>
<text class="lb" transform="translate(93 42.55) scale(1.000 1)" text-anchor="end" font-size="5.35">Temporal association</text>
<text class="lb" transform="translate(93 46.56) scale(1.000 1)" text-anchor="end" font-size="5.35">Perirhinal</text>
<text class="lb" transform="translate(93 50.58) scale(1.000 1)" text-anchor="end" font-size="5.35">Retrosplenial</text>
<text class="lb" transform="translate(93 54.6) scale(1.000 1)" text-anchor="end" font-size="5.35">Posterior parietal association</text>
<text class="lb" transform="translate(93 58.62) scale(1.000 1)" text-anchor="end" font-size="5.35">Somatosensory</text>
<text class="lb" transform="translate(93 62.64) scale(1.000 1)" text-anchor="end" font-size="5.35">Anteroventral preoptic</text>
<text class="lb" transform="translate(93 66.66) scale(1.000 1)" text-anchor="end" font-size="5.35">Nucleus sagulum</text>
<text class="lb" transform="translate(93 70.68) scale(1.000 1)" text-anchor="end" font-size="5.35">Dorsal premammillary</text>
<text class="lb" transform="translate(93 74.69) scale(1.000 1)" text-anchor="end" font-size="5.35">Ventral premammillary</text>
<text class="lb" transform="translate(93 78.71) scale(1.000 1)" text-anchor="end" font-size="5.35">Tuberal</text>
<text class="lb" transform="translate(93 82.73) scale(1.000 1)" text-anchor="end" font-size="5.35">Medial habenula</text>
<text class="lb" transform="translate(93 86.75) scale(1.000 1)" text-anchor="end" font-size="5.35">Lateral habenula</text>
<text class="lb" transform="translate(93 90.77) scale(1.000 1)" text-anchor="end" font-size="5.35">Central lateral nucleus</text>
<text class="lb" transform="translate(93 94.79) scale(1.000 1)" text-anchor="end" font-size="5.35">Lateral posterior nucleus</text>
<text class="lb" transform="translate(93 98.81) scale(1.000 1)" text-anchor="end" font-size="5.35">Ventral posteromedial nucleus</text>
<text class="lb" transform="translate(93 102.82) scale(1.000 1)" text-anchor="end" font-size="5.35">Lateral dorsal nucleus</text>
<text class="lb" transform="translate(93 106.84) scale(1.000 1)" text-anchor="end" font-size="5.35">Posterior complex</text>
<text class="lb" transform="translate(93 110.86) scale(1.000 1)" text-anchor="end" font-size="5.35">Ventral posterolateral nucleus</text>
<text class="lb" transform="translate(93 114.88) scale(1.000 1)" text-anchor="end" font-size="5.35">Ventral anterior-lateral complex</text>
<text class="lb" transform="translate(93 118.9) scale(1.000 1)" text-anchor="end" font-size="5.35">Parafascicular nucleus</text>
<text class="lb" transform="translate(93 122.92) scale(1.000 1)" text-anchor="end" font-size="5.35">Paracentral nucleus</text>
<text class="lb" transform="translate(93 126.94) scale(1.000 1)" text-anchor="end" font-size="5.35">Anterodorsal nucleus</text>
<text class="lb" transform="translate(93 130.95) scale(1.000 1)" text-anchor="end" font-size="5.35">Paraventricular nucleus</text>
<text class="lb" transform="translate(93 134.97) scale(1.000 1)" text-anchor="end" font-size="5.35">Anteroventral nucleus</text>
<text class="lb" transform="translate(93 138.99) scale(1.000 1)" text-anchor="end" font-size="5.35">Anteromedial nucleus</text>
<text class="lb" transform="translate(93 143.01) scale(1.000 1)" text-anchor="end" font-size="5.35">Intermediodorsal nucleus</text>
<text class="lb" transform="translate(93 147.03) scale(1.000 1)" text-anchor="end" font-size="5.35">Reticular nucleus</text>
<text class="lb" transform="translate(93 151.05) scale(1.000 1)" text-anchor="end" font-size="5.35">Rhomboid nucleus</text>
<text class="lb" transform="translate(93 155.06) scale(1.000 1)" text-anchor="end" font-size="5.35">Interanterodorsal nucleus</text>
<text class="lb" transform="translate(93 159.08) scale(1.000 1)" text-anchor="end" font-size="5.35">Central medial nucleus</text>
<text class="lb" transform="translate(93 163.1) scale(1.000 1)" text-anchor="end" font-size="5.35">Interanteromedial nucleus</text>
<text class="lb" transform="translate(93 167.12) scale(1.000 1)" text-anchor="end" font-size="5.35">Septofimbrial nucleus</text>
<text class="lb" transform="translate(93 171.14) scale(1.000 1)" text-anchor="end" font-size="5.35">Zona incerta</text>
<text class="lb" transform="translate(93 175.16) scale(1.000 1)" text-anchor="end" font-size="5.35">Subparafascicular area</text>
<text class="lb" transform="translate(93 179.18) scale(1.000 1)" text-anchor="end" font-size="5.35">Submedial nucleus</text>
<text class="lb" transform="translate(93 183.19) scale(1.000 1)" text-anchor="end" font-size="5.35">Parataenial nucleus</text>
<text class="lb" transform="translate(93 187.21) scale(1.000 1)" text-anchor="end" font-size="5.35">Posterior triangular thalamus</text>
<text class="lb" transform="translate(93 191.23) scale(1.000 1)" text-anchor="end" font-size="5.35">Subparafascicular nucleus</text>
<text class="lb" transform="translate(93 195.25) scale(1.000 1)" text-anchor="end" font-size="5.35">Pretectal region</text>
<text class="lb" transform="translate(93 199.27) scale(1.000 1)" text-anchor="end" font-size="5.35">Oculomotor nucleus</text>
<text class="lb" transform="translate(93 203.29) scale(1.000 1)" text-anchor="end" font-size="5.35">Periaqueductal gray</text>
<text class="lb" transform="translate(93 207.31) scale(1.000 1)" text-anchor="end" font-size="5.35">Cuneiform nucleus</text>
<text class="lb" transform="translate(93 211.32) scale(1.000 1)" text-anchor="end" font-size="5.35">Anterior tegmental nucleus</text>
<text class="lb" transform="translate(93 215.34) scale(1.000 1)" text-anchor="end" font-size="5.35">Parabrachial nucleus</text>
<text class="lb" transform="translate(93 219.36) scale(1.000 1)" text-anchor="end" font-size="5.35">Pedunculopontine nucleus</text>
<text class="lb" transform="translate(93 223.38) scale(1.000 1)" text-anchor="end" font-size="5.35">Ventral tegmental nucleus</text>
<text class="lb" transform="translate(93 227.4) scale(1.000 1)" text-anchor="end" font-size="5.35">Red nucleus</text>
<text class="lb" transform="translate(93 231.42) scale(1.000 1)" text-anchor="end" font-size="5.35">Fundus of striatum</text>
<text class="lb" transform="translate(93 235.44) scale(1.000 1)" text-anchor="end" font-size="5.35">Hippocampal region</text>
<text class="lb" transform="translate(93 239.45) scale(1.000 1)" text-anchor="end" font-size="5.35">Septohippocampal nucleus</text>
<text class="lb" transform="translate(93 243.47) scale(1.000 1)" text-anchor="end" font-size="5.35">Infralimbic</text>
<text class="lb" transform="translate(93 247.49) scale(1.000 1)" text-anchor="end" font-size="5.35">Anterior cingulate</text>
<text class="cl" transform="translate(98.34 249.2) rotate(-90) scale(0.918 1)" text-anchor="end" font-size="5.88">Visceral</text>
<text class="cl" transform="translate(102.23 249.2) rotate(-90) scale(0.918 1)" text-anchor="end" font-size="5.88">Ectorhinal</text>
<text class="cl" transform="translate(106.11 249.2) rotate(-90) scale(0.918 1)" text-anchor="end" font-size="5.88">Temporal association</text>
<text class="cl" transform="translate(110 249.2) rotate(-90) scale(0.918 1)" text-anchor="end" font-size="5.88">Perirhinal</text>
<text class="cl" transform="translate(113.88 249.2) rotate(-90) scale(0.918 1)" text-anchor="end" font-size="5.88">Retrosplenial</text>
<text class="cl" transform="translate(117.77 249.2) rotate(-90) scale(0.918 1)" text-anchor="end" font-size="5.88">Posterior parietal association</text>
<text class="cl" transform="translate(121.65 249.2) rotate(-90) scale(0.918 1)" text-anchor="end" font-size="5.88">Somatosensory</text>
<text class="cl" transform="translate(125.54 249.2) rotate(-90) scale(0.918 1)" text-anchor="end" font-size="5.88">Anteroventral preoptic</text>
<text class="cl" transform="translate(129.42 249.2) rotate(-90) scale(0.918 1)" text-anchor="end" font-size="5.88">Nucleus sagulum</text>
<text class="cl" transform="translate(133.31 249.2) rotate(-90) scale(0.918 1)" text-anchor="end" font-size="5.88">Dorsal premammillary</text>
<text class="cl" transform="translate(137.19 249.2) rotate(-90) scale(0.918 1)" text-anchor="end" font-size="5.88">Ventral premammillary</text>
<text class="cl" transform="translate(141.08 249.2) rotate(-90) scale(0.918 1)" text-anchor="end" font-size="5.88">Tuberal</text>
<text class="cl" transform="translate(144.96 249.2) rotate(-90) scale(0.918 1)" text-anchor="end" font-size="5.88">Medial habenula</text>
<text class="cl" transform="translate(148.85 249.2) rotate(-90) scale(0.918 1)" text-anchor="end" font-size="5.88">Lateral habenula</text>
<text class="cl" transform="translate(152.74 249.2) rotate(-90) scale(0.918 1)" text-anchor="end" font-size="5.88">Central lateral nucleus</text>
<text class="cl" transform="translate(156.62 249.2) rotate(-90) scale(0.918 1)" text-anchor="end" font-size="5.88">Lateral posterior nucleus</text>
<text class="cl" transform="translate(160.51 249.2) rotate(-90) scale(0.918 1)" text-anchor="end" font-size="5.88">Ventral posteromedial nucleus</text>
<text class="cl" transform="translate(164.39 249.2) rotate(-90) scale(0.918 1)" text-anchor="end" font-size="5.88">Lateral dorsal nucleus</text>
<text class="cl" transform="translate(168.28 249.2) rotate(-90) scale(0.918 1)" text-anchor="end" font-size="5.88">Posterior complex</text>
<text class="cl" transform="translate(172.16 249.2) rotate(-90) scale(0.918 1)" text-anchor="end" font-size="5.88">Ventral posterolateral nucleus</text>
<text class="cl" transform="translate(176.05 249.2) rotate(-90) scale(0.918 1)" text-anchor="end" font-size="5.88">Ventral anterior-lateral complex</text>
<text class="cl" transform="translate(179.93 249.2) rotate(-90) scale(0.918 1)" text-anchor="end" font-size="5.88">Parafascicular nucleus</text>
<text class="cl" transform="translate(183.82 249.2) rotate(-90) scale(0.918 1)" text-anchor="end" font-size="5.88">Paracentral nucleus</text>
<text class="cl" transform="translate(187.7 249.2) rotate(-90) scale(0.918 1)" text-anchor="end" font-size="5.88">Anterodorsal nucleus</text>
<text class="cl" transform="translate(191.59 249.2) rotate(-90) scale(0.918 1)" text-anchor="end" font-size="5.88">Paraventricular nucleus</text>
<text class="cl" transform="translate(195.47 249.2) rotate(-90) scale(0.918 1)" text-anchor="end" font-size="5.88">Anteroventral nucleus</text>
<text class="cl" transform="translate(199.36 249.2) rotate(-90) scale(0.918 1)" text-anchor="end" font-size="5.88">Anteromedial nucleus</text>
<text class="cl" transform="translate(203.24 249.2) rotate(-90) scale(0.918 1)" text-anchor="end" font-size="5.88">Intermediodorsal nucleus</text>
<text class="cl" transform="translate(207.13 249.2) rotate(-90) scale(0.918 1)" text-anchor="end" font-size="5.88">Reticular nucleus</text>
<text class="cl" transform="translate(211.01 249.2) rotate(-90) scale(0.918 1)" text-anchor="end" font-size="5.88">Rhomboid nucleus</text>
<text class="cl" transform="translate(214.9 249.2) rotate(-90) scale(0.918 1)" text-anchor="end" font-size="5.88">Interanterodorsal nucleus</text>
<text class="cl" transform="translate(218.78 249.2) rotate(-90) scale(0.918 1)" text-anchor="end" font-size="5.88">Central medial nucleus</text>
<text class="cl" transform="translate(222.67 249.2) rotate(-90) scale(0.918 1)" text-anchor="end" font-size="5.88">Interanteromedial nucleus</text>
<text class="cl" transform="translate(226.55 249.2) rotate(-90) scale(0.918 1)" text-anchor="end" font-size="5.88">Septofimbrial nucleus</text>
<text class="cl" transform="translate(230.44 249.2) rotate(-90) scale(0.918 1)" text-anchor="end" font-size="5.88">Zona incerta</text>
<text class="cl" transform="translate(234.32 249.2) rotate(-90) scale(0.918 1)" text-anchor="end" font-size="5.88">Subparafascicular area</text>
<text class="cl" transform="translate(238.21 249.2) rotate(-90) scale(0.918 1)" text-anchor="end" font-size="5.88">Submedial nucleus</text>
<text class="cl" transform="translate(242.09 249.2) rotate(-90) scale(0.918 1)" text-anchor="end" font-size="5.88">Parataenial nucleus</text>
<text class="cl" transform="translate(245.98 249.2) rotate(-90) scale(0.918 1)" text-anchor="end" font-size="5.88">Posterior triangular thalamus</text>
<text class="cl" transform="translate(249.86 249.2) rotate(-90) scale(0.918 1)" text-anchor="end" font-size="5.88">Subparafascicular nucleus</text>
<text class="cl" transform="translate(253.75 249.2) rotate(-90) scale(0.918 1)" text-anchor="end" font-size="5.88">Pretectal region</text>
<text class="cl" transform="translate(257.64 249.2) rotate(-90) scale(0.918 1)" text-anchor="end" font-size="5.88">Oculomotor nucleus</text>
<text class="cl" transform="translate(261.52 249.2) rotate(-90) scale(0.918 1)" text-anchor="end" font-size="5.88">Periaqueductal gray</text>
<text class="cl" transform="translate(265.41 249.2) rotate(-90) scale(0.918 1)" text-anchor="end" font-size="5.88">Cuneiform nucleus</text>
<text class="cl" transform="translate(269.29 249.2) rotate(-90) scale(0.918 1)" text-anchor="end" font-size="5.88">Anterior tegmental nucleus</text>
<text class="cl" transform="translate(273.18 249.2) rotate(-90) scale(0.918 1)" text-anchor="end" font-size="5.88">Parabrachial nucleus</text>
<text class="cl" transform="translate(277.06 249.2) rotate(-90) scale(0.918 1)" text-anchor="end" font-size="5.88">Pedunculopontine nucleus</text>
<text class="cl" transform="translate(280.95 249.2) rotate(-90) scale(0.918 1)" text-anchor="end" font-size="5.88">Ventral tegmental nucleus</text>
<text class="cl" transform="translate(284.83 249.2) rotate(-90) scale(0.918 1)" text-anchor="end" font-size="5.88">Red nucleus</text>
<text class="cl" transform="translate(288.72 249.2) rotate(-90) scale(0.918 1)" text-anchor="end" font-size="5.88">Fundus of striatum</text>
<text class="cl" transform="translate(292.6 249.2) rotate(-90) scale(0.918 1)" text-anchor="end" font-size="5.88">Hippocampal region</text>
<text class="cl" transform="translate(296.49 249.2) rotate(-90) scale(0.918 1)" text-anchor="end" font-size="5.88">Septohippocampal nucleus</text>
<text class="cl" transform="translate(300.37 249.2) rotate(-90) scale(0.918 1)" text-anchor="end" font-size="5.88">Infralimbic</text>
<text class="cl" transform="translate(304.26 249.2) rotate(-90) scale(0.918 1)" text-anchor="end" font-size="5.88">Anterior cingulate</text>
<g transform="translate(98 367.3) scale(4.9810 5.0190)">
<path fill="#4250a5" d="M15 0h1v1h-1zM23 0h1v1h-1zM26 0h1v1h-1zM34 0h2v1h-2zM39 0h3v1h-3zM15 1h1v1h-1zM23 1h1v1h-1zM25 1h2v1h-2zM34 1h2v1h-2zM39 1h3v1h-3zM15 2h1v1h-1zM23 2h1v1h-1zM26 2h1v1h-1zM34 2h1v1h-1zM40 2h2v1h-2zM25 3h2v1h-2zM33 3h1v1h-1zM11 4h1v1h-1zM19 4h1v1h-1zM40 4h1v1h-1zM36 5h1v1h-1zM40 5h1v1h-1zM23 6h4v1h-4zM34 6h2v1h-2zM39 6h3v1h-3zM26 7h1v1h-1zM35 7h1v1h-1zM39 7h3v1h-3zM36 8h1v1h-1zM36 9h1v1h-1zM36 10h1v1h-1zM40 10h1v1h-1zM4 11h1v1h-1zM33 11h1v1h-1zM36 11h1v1h-1zM35 13h2v1h-2zM40 13h1v1h-1zM36 14h1v1h-1zM0 15h3v1h-3zM22 15h1v1h-1zM30 15h1v1h-1zM35 16h2v1h-2zM40 16h1v1h-1zM30 17h1v1h-1zM36 17h1v1h-1zM36 18h1v1h-1zM4 19h1v1h-1zM36 19h1v1h-1zM36 20h1v1h-1zM36 21h1v1h-1zM40 21h1v1h-1zM15 22h1v1h-1zM40 22h1v1h-1zM0 23h3v1h-3zM6 23h1v1h-1zM6 24h1v1h-1zM1 25h1v1h-1zM3 25h1v1h-1zM6 25h1v1h-1zM0 26h4v1h-4zM6 26h2v1h-2zM30 28h1v1h-1zM15 30h1v1h-1zM17 30h1v1h-1zM28 30h1v1h-1zM34 30h2v1h-2zM38 32h1v1h-1zM3 33h1v1h-1zM11 33h1v1h-1zM0 34h3v1h-3zM6 34h1v1h-1zM30 34h1v1h-1zM0 35h2v1h-2zM6 35h2v1h-2zM13 35h1v1h-1zM16 35h1v1h-1zM30 35h1v1h-1zM5 36h1v1h-1zM8 36h4v1h-4zM13 36h2v1h-2zM16 36h6v1h-6zM37 36h2v1h-2zM36 37h1v1h-1zM32 38h1v1h-1zM36 38h1v1h-1zM0 39h2v1h-2zM6 39h2v1h-2zM0 40h3v1h-3zM4 40h4v1h-4zM10 40h1v1h-1zM13 40h1v1h-1zM16 40h1v1h-1zM21 40h2v1h-2zM0 41h3v1h-3zM6 41h2v1h-2z"/>
<path fill="#b21a2b" d="M0 0h3v1h-3zM4 0h1v1h-1zM6 0h2v1h-2zM13 0h1v1h-1zM16 0h1v1h-1zM22 0h1v1h-1zM0 1h5v1h-5zM6 1h2v1h-2zM22 1h1v1h-1zM30 1h1v1h-1zM0 2h3v1h-3zM4 2h4v1h-4zM16 2h1v1h-1zM21 2h2v1h-2zM30 2h1v1h-1zM1 3h1v1h-1zM3 3h1v1h-1zM7 3h1v1h-1zM0 4h3v1h-3zM4 4h1v1h-1zM6 4h1v1h-1zM21 4h1v1h-1zM30 4h1v1h-1zM2 5h1v1h-1zM5 5h1v1h-1zM7 5h1v1h-1zM13 5h2v1h-2zM16 5h1v1h-1zM21 5h1v1h-1zM27 5h1v1h-1zM0 6h3v1h-3zM4 6h1v1h-1zM6 6h2v1h-2zM13 6h1v1h-1zM16 6h1v1h-1zM22 6h1v1h-1zM30 6h1v1h-1zM0 7h4v1h-4zM5 7h3v1h-3zM13 7h1v1h-1zM16 7h1v1h-1zM22 7h1v1h-1zM8 8h3v1h-3zM37 8h1v1h-1zM8 9h3v1h-3zM15 9h1v1h-1zM17 9h1v1h-1zM21 9h1v1h-1zM37 9h1v1h-1zM39 9h1v1h-1zM8 10h6v1h-6zM19 10h2v1h-2zM34 10h1v1h-1zM10 11h2v1h-2zM13 11h1v1h-1zM18 11h3v1h-3zM34 11h1v1h-1zM10 12h1v1h-1zM12 12h1v1h-1zM19 12h2v1h-2zM23 12h2v1h-2zM34 12h1v1h-1zM0 13h1v1h-1zM5 13h3v1h-3zM10 13h2v1h-2zM13 13h2v1h-2zM16 13h1v1h-1zM18 13h1v1h-1zM20 13h3v1h-3zM5 14h1v1h-1zM13 14h2v1h-2zM17 14h2v1h-2zM20 14h1v1h-1zM24 14h2v1h-2zM27 14h2v1h-2zM9 15h1v1h-1zM15 15h1v1h-1zM17 15h1v1h-1zM25 15h2v1h-2zM34 15h1v1h-1zM39 15h1v1h-1zM0 16h1v1h-1zM2 16h1v1h-1zM5 16h3v1h-3zM13 16h1v1h-1zM16 16h1v1h-1zM18 16h1v1h-1zM20 16h1v1h-1zM22 16h1v1h-1zM9 17h1v1h-1zM14 17h2v1h-2zM17 17h2v1h-2zM20 17h2v1h-2zM24 17h2v1h-2zM28 17h1v1h-1zM34 17h1v1h-1zM39 17h1v1h-1zM11 18h1v1h-1zM13 18h2v1h-2zM16 18h6v1h-6zM24 18h2v1h-2zM27 18h2v1h-2zM10 19h3v1h-3zM18 19h3v1h-3zM23 19h3v1h-3zM29 19h1v1h-1zM34 19h1v1h-1zM10 20h5v1h-5zM16 20h6v1h-6zM23 20h3v1h-3zM34 20h1v1h-1zM2 21h1v1h-1zM4 21h2v1h-2zM9 21h1v1h-1zM13 21h1v1h-1zM17 21h2v1h-2zM20 21h2v1h-2zM28 21h1v1h-1zM0 22h3v1h-3zM6 22h2v1h-2zM13 22h1v1h-1zM16 22h1v1h-1zM22 22h1v1h-1zM12 23h1v1h-1zM19 23h2v1h-2zM23 23h4v1h-4zM29 23h1v1h-1zM34 23h2v1h-2zM39 23h1v1h-1zM12 24h1v1h-1zM14 24h1v1h-1zM17 24h4v1h-4zM23 24h6v1h-6zM34 24h2v1h-2zM14 25h2v1h-2zM17 25h4v1h-4zM23 25h6v1h-6zM34 25h2v1h-2zM39 25h1v1h-1zM15 26h1v1h-1zM23 26h4v1h-4zM29 26h1v1h-1zM34 26h2v1h-2zM39 26h3v1h-3zM5 27h1v1h-1zM14 27h1v1h-1zM18 27h1v1h-1zM24 27h2v1h-2zM27 27h2v1h-2zM14 28h1v1h-1zM17 28h2v1h-2zM21 28h1v1h-1zM24 28h2v1h-2zM27 28h2v1h-2zM19 29h1v1h-1zM23 29h1v1h-1zM26 29h1v1h-1zM29 29h1v1h-1zM34 29h1v1h-1zM1 30h2v1h-2zM4 30h1v1h-1zM6 30h1v1h-1zM30 30h1v1h-1zM31 31h1v1h-1zM32 32h1v1h-1zM33 33h1v1h-1zM10 34h3v1h-3zM15 34h1v1h-1zM17 34h1v1h-1zM19 34h2v1h-2zM23 34h4v1h-4zM29 34h1v1h-1zM34 34h2v1h-2zM39 34h1v1h-1zM23 35h4v1h-4zM34 35h2v1h-2zM39 35h2v1h-2zM36 36h1v1h-1zM40 36h1v1h-1zM8 37h2v1h-2zM37 37h1v1h-1zM39 37h1v1h-1zM38 38h2v1h-2zM9 39h1v1h-1zM15 39h1v1h-1zM17 39h1v1h-1zM23 39h1v1h-1zM25 39h2v1h-2zM34 39h2v1h-2zM37 39h3v1h-3zM26 40h1v1h-1zM35 40h2v1h-2zM40 40h2v1h-2zM26 41h1v1h-1zM40 41h2v1h-2z"/>
<path fill="#7088cd" d="M17 0h1v1h-1zM24 0h2v1h-2zM29 0h1v1h-1zM38 0h1v1h-1zM17 1h1v1h-1zM24 1h1v1h-1zM28 1h1v1h-1zM38 1h1v1h-1zM11 2h1v1h-1zM35 2h1v1h-1zM38 2h2v1h-2zM15 3h1v1h-1zM23 3h2v1h-2zM28 3h1v1h-1zM37 3h4v1h-4zM8 4h1v1h-1zM14 4h2v1h-2zM18 4h1v1h-1zM23 4h1v1h-1zM27 4h1v1h-1zM34 4h1v1h-1zM38 4h1v1h-1zM41 4h1v1h-1zM12 6h1v1h-1zM15 6h1v1h-1zM17 6h1v1h-1zM19 6h1v1h-1zM29 6h1v1h-1zM36 6h1v1h-1zM15 7h1v1h-1zM23 7h1v1h-1zM29 7h1v1h-1zM34 7h1v1h-1zM36 7h2v1h-2zM4 8h1v1h-1zM35 8h1v1h-1zM40 8h1v1h-1zM30 9h1v1h-1zM33 9h1v1h-1zM40 9h1v1h-1zM28 10h1v1h-1zM33 10h1v1h-1zM2 11h1v1h-1zM30 11h1v1h-1zM6 12h1v1h-1zM36 12h1v1h-1zM41 13h1v1h-1zM4 14h1v1h-1zM30 14h1v1h-1zM3 15h2v1h-2zM6 15h2v1h-2zM16 15h1v1h-1zM32 15h1v1h-1zM15 16h1v1h-1zM41 16h1v1h-1zM0 17h2v1h-2zM6 17h1v1h-1zM4 18h1v1h-1zM41 18h1v1h-1zM6 19h1v1h-1zM40 20h2v1h-2zM41 21h1v1h-1zM26 22h1v1h-1zM35 22h1v1h-1zM39 22h1v1h-1zM41 22h1v1h-1zM3 23h2v1h-2zM7 23h1v1h-1zM30 23h1v1h-1zM0 24h2v1h-2zM3 24h1v1h-1zM30 24h1v1h-1zM0 25h1v1h-1zM30 25h1v1h-1zM22 26h1v1h-1zM30 26h1v1h-1zM4 27h1v1h-1zM30 27h1v1h-1zM37 27h1v1h-1zM1 28h1v1h-1zM3 28h1v1h-1zM10 28h1v1h-1zM0 29h1v1h-1zM6 29h2v1h-2zM9 30h1v1h-1zM11 30h1v1h-1zM14 30h1v1h-1zM23 30h5v1h-5zM39 30h3v1h-3zM15 32h1v1h-1zM37 32h1v1h-1zM41 32h1v1h-1zM9 33h2v1h-2zM4 34h1v1h-1zM7 34h1v1h-1zM36 34h1v1h-1zM2 35h1v1h-1zM8 35h1v1h-1zM22 35h1v1h-1zM6 36h2v1h-2zM12 36h1v1h-1zM34 36h1v1h-1zM39 36h1v1h-1zM3 37h1v1h-1zM7 37h1v1h-1zM27 37h1v1h-1zM32 37h1v1h-1zM40 37h1v1h-1zM0 38h5v1h-5zM2 39h2v1h-2zM22 39h1v1h-1zM30 39h1v1h-1zM36 39h1v1h-1zM3 40h1v1h-1zM8 40h2v1h-2zM20 40h1v1h-1zM30 40h1v1h-1zM37 40h1v1h-1zM4 41h1v1h-1zM13 41h1v1h-1zM16 41h1v1h-1zM18 41h1v1h-1zM20 41h3v1h-3zM30 41h1v1h-1zM32 41h1v1h-1z"/>
<path fill="#d85c48" d="M30 0h1v1h-1zM5 1h1v1h-1zM16 1h1v1h-1zM21 1h1v1h-1zM31 1h2v1h-2zM3 2h1v1h-1zM13 2h1v1h-1zM32 2h1v1h-1zM2 3h1v1h-1zM5 3h2v1h-2zM22 3h1v1h-1zM32 3h1v1h-1zM1 5h1v1h-1zM3 5h1v1h-1zM6 5h1v1h-1zM10 5h1v1h-1zM17 5h2v1h-2zM20 5h1v1h-1zM22 5h1v1h-1zM28 5h1v1h-1zM3 6h1v1h-1zM5 6h1v1h-1zM14 7h1v1h-1zM18 7h1v1h-1zM32 8h1v1h-1zM11 9h1v1h-1zM14 9h1v1h-1zM34 9h1v1h-1zM5 10h1v1h-1zM16 10h1v1h-1zM18 10h1v1h-1zM22 10h1v1h-1zM37 10h1v1h-1zM9 11h1v1h-1zM12 11h1v1h-1zM14 11h4v1h-4zM23 11h2v1h-2zM11 12h1v1h-1zM18 12h1v1h-1zM29 12h1v1h-1zM2 13h1v1h-1zM17 13h1v1h-1zM27 13h1v1h-1zM7 14h1v1h-1zM9 14h1v1h-1zM11 14h1v1h-1zM21 14h1v1h-1zM11 15h1v1h-1zM37 15h2v1h-2zM41 15h1v1h-1zM1 16h1v1h-1zM10 16h2v1h-2zM27 16h1v1h-1zM5 17h1v1h-1zM11 17h1v1h-1zM13 17h1v1h-1zM19 17h1v1h-1zM23 17h1v1h-1zM26 17h2v1h-2zM35 17h1v1h-1zM37 17h1v1h-1zM5 18h1v1h-1zM7 18h1v1h-1zM10 18h1v1h-1zM12 18h1v1h-1zM17 19h1v1h-1zM39 19h1v1h-1zM5 20h1v1h-1zM22 20h1v1h-1zM28 20h2v1h-2zM39 20h1v1h-1zM1 21h1v1h-1zM14 21h1v1h-1zM37 21h1v1h-1zM3 22h1v1h-1zM5 22h1v1h-1zM10 22h1v1h-1zM20 22h1v1h-1zM31 22h1v1h-1zM11 23h1v1h-1zM17 23h1v1h-1zM38 23h1v1h-1zM40 23h1v1h-1zM11 24h1v1h-1zM29 24h1v1h-1zM39 24h1v1h-1zM17 26h1v1h-1zM27 26h2v1h-2zM38 26h1v1h-1zM13 27h1v1h-1zM16 27h2v1h-2zM26 27h1v1h-1zM5 28h1v1h-1zM20 28h1v1h-1zM26 28h1v1h-1zM33 28h1v1h-1zM39 28h1v1h-1zM12 29h1v1h-1zM20 29h1v1h-1zM24 29h1v1h-1zM35 29h1v1h-1zM39 29h1v1h-1zM41 29h1v1h-1zM0 30h1v1h-1zM31 30h2v1h-2zM1 31h1v1h-1zM22 31h1v1h-1zM30 31h1v1h-1zM1 32h3v1h-3zM8 32h1v1h-1zM30 32h1v1h-1zM28 33h1v1h-1zM9 34h1v1h-1zM38 34h1v1h-1zM17 35h1v1h-1zM29 35h1v1h-1zM41 35h1v1h-1zM10 37h1v1h-1zM15 37h1v1h-1zM17 37h1v1h-1zM21 37h1v1h-1zM38 37h1v1h-1zM15 38h1v1h-1zM23 38h1v1h-1zM26 38h1v1h-1zM34 38h1v1h-1zM37 38h1v1h-1zM41 38h1v1h-1zM19 39h2v1h-2zM24 39h1v1h-1zM28 39h2v1h-2zM23 40h1v1h-1zM15 41h1v1h-1zM29 41h1v1h-1zM35 41h1v1h-1zM38 41h1v1h-1z"/>
<path fill="#aec1e9" d="M9 0h1v1h-1zM11 0h1v1h-1zM19 0h1v1h-1zM28 0h1v1h-1zM36 0h2v1h-2zM11 1h1v1h-1zM14 1h1v1h-1zM19 1h1v1h-1zM27 1h1v1h-1zM29 1h1v1h-1zM33 1h1v1h-1zM36 1h2v1h-2zM9 2h1v1h-1zM12 2h1v1h-1zM17 2h1v1h-1zM19 2h1v1h-1zM24 2h2v1h-2zM29 2h1v1h-1zM36 2h2v1h-2zM17 3h1v1h-1zM20 3h1v1h-1zM34 3h3v1h-3zM41 3h1v1h-1zM9 4h2v1h-2zM12 4h1v1h-1zM17 4h1v1h-1zM24 4h3v1h-3zM28 4h1v1h-1zM35 4h1v1h-1zM8 5h1v1h-1zM12 5h1v1h-1zM31 5h1v1h-1zM33 5h1v1h-1zM9 6h1v1h-1zM11 6h1v1h-1zM20 6h1v1h-1zM28 6h1v1h-1zM33 6h1v1h-1zM38 6h1v1h-1zM8 7h1v1h-1zM12 7h1v1h-1zM17 7h1v1h-1zM24 7h2v1h-2zM33 7h1v1h-1zM38 7h1v1h-1zM5 8h1v1h-1zM7 8h1v1h-1zM16 8h1v1h-1zM23 8h1v1h-1zM26 8h1v1h-1zM33 8h1v1h-1zM41 8h1v1h-1zM0 9h1v1h-1zM2 9h1v1h-1zM4 9h1v1h-1zM6 9h1v1h-1zM16 9h1v1h-1zM22 9h1v1h-1zM4 10h1v1h-1zM26 10h1v1h-1zM35 10h1v1h-1zM41 10h1v1h-1zM0 11h2v1h-2zM6 11h1v1h-1zM31 11h1v1h-1zM40 11h1v1h-1zM2 12h1v1h-1zM4 12h2v1h-2zM7 12h1v1h-1zM15 12h1v1h-1zM27 12h2v1h-2zM33 12h1v1h-1zM41 12h1v1h-1zM29 13h1v1h-1zM31 13h1v1h-1zM33 13h1v1h-1zM1 14h1v1h-1zM29 14h1v1h-1zM31 14h3v1h-3zM41 14h1v1h-1zM12 15h1v1h-1zM36 15h1v1h-1zM8 16h2v1h-2zM26 16h1v1h-1zM32 16h2v1h-2zM39 16h1v1h-1zM2 17h3v1h-3zM7 17h1v1h-1zM22 17h1v1h-1zM31 17h1v1h-1zM40 17h1v1h-1zM30 18h2v1h-2zM33 18h1v1h-1zM37 18h1v1h-1zM40 18h1v1h-1zM0 19h3v1h-3zM30 19h1v1h-1zM33 19h1v1h-1zM3 20h1v1h-1zM6 20h1v1h-1zM30 20h1v1h-1zM23 21h1v1h-1zM35 21h1v1h-1zM38 21h1v1h-1zM9 22h1v1h-1zM17 22h1v1h-1zM23 22h1v1h-1zM25 22h1v1h-1zM28 22h1v1h-1zM34 22h1v1h-1zM36 22h1v1h-1zM38 22h1v1h-1zM8 23h1v1h-1zM21 23h2v1h-2zM31 23h2v1h-2zM36 23h1v1h-1zM2 24h1v1h-1zM4 24h1v1h-1zM7 24h1v1h-1zM36 24h2v1h-2zM2 25h1v1h-1zM4 25h1v1h-1zM7 25h1v1h-1zM22 25h1v1h-1zM36 25h2v1h-2zM4 26h1v1h-1zM8 26h1v1h-1zM10 26h1v1h-1zM16 26h1v1h-1zM32 26h1v1h-1zM1 27h1v1h-1zM12 27h1v1h-1zM31 27h1v1h-1zM36 27h1v1h-1zM0 28h1v1h-1zM4 28h1v1h-1zM6 28h1v1h-1zM12 28h1v1h-1zM22 28h1v1h-1zM31 28h1v1h-1zM36 28h2v1h-2zM40 28h1v1h-1zM1 29h2v1h-2zM13 29h2v1h-2zM36 29h1v1h-1zM18 30h3v1h-3zM33 30h1v1h-1zM37 30h2v1h-2zM5 31h1v1h-1zM11 31h1v1h-1zM13 31h2v1h-2zM17 31h2v1h-2zM23 31h1v1h-1zM27 31h2v1h-2zM35 31h1v1h-1zM38 31h4v1h-4zM14 32h1v1h-1zM16 32h1v1h-1zM23 32h1v1h-1zM26 32h1v1h-1zM33 32h1v1h-1zM39 32h2v1h-2zM1 33h1v1h-1zM5 33h4v1h-4zM12 33h3v1h-3zM16 33h1v1h-1zM18 33h2v1h-2zM30 33h1v1h-1zM32 33h1v1h-1zM34 33h1v1h-1zM3 34h1v1h-1zM22 34h1v1h-1zM33 34h1v1h-1zM3 35h2v1h-2zM10 35h1v1h-1zM21 35h1v1h-1zM31 35h1v1h-1zM37 35h2v1h-2zM0 36h4v1h-4zM15 36h1v1h-1zM22 36h4v1h-4zM27 36h3v1h-3zM0 37h3v1h-3zM18 37h1v1h-1zM24 37h2v1h-2zM28 37h1v1h-1zM30 37h1v1h-1zM35 37h1v1h-1zM6 38h2v1h-2zM21 38h2v1h-2zM30 38h2v1h-2zM35 38h1v1h-1zM16 39h1v1h-1zM31 39h2v1h-2zM11 40h1v1h-1zM17 40h2v1h-2zM28 40h1v1h-1zM31 40h2v1h-2zM3 41h1v1h-1zM8 41h1v1h-1zM10 41h1v1h-1zM12 41h1v1h-1zM14 41h1v1h-1zM31 41h1v1h-1z"/>
<path fill="#f3c8b6" d="M5 0h1v1h-1zM10 0h1v1h-1zM14 0h1v1h-1zM20 0h1v1h-1zM33 0h1v1h-1zM8 1h1v1h-1zM8 2h1v1h-1zM10 2h1v1h-1zM14 2h1v1h-1zM18 2h1v1h-1zM20 2h1v1h-1zM31 2h1v1h-1zM33 2h1v1h-1zM9 3h1v1h-1zM21 3h1v1h-1zM30 3h1v1h-1zM5 4h1v1h-1zM7 4h1v1h-1zM16 4h1v1h-1zM36 4h1v1h-1zM0 5h1v1h-1zM4 5h1v1h-1zM15 5h1v1h-1zM24 5h3v1h-3zM29 5h1v1h-1zM39 5h1v1h-1zM8 6h1v1h-1zM31 6h1v1h-1zM4 7h1v1h-1zM11 7h1v1h-1zM28 7h1v1h-1zM30 7h1v1h-1zM1 8h2v1h-2zM6 8h1v1h-1zM14 8h2v1h-2zM18 8h1v1h-1zM20 8h1v1h-1zM22 8h1v1h-1zM25 8h1v1h-1zM29 8h2v1h-2zM3 9h1v1h-1zM24 9h1v1h-1zM28 9h2v1h-2zM32 9h1v1h-1zM35 9h1v1h-1zM38 9h1v1h-1zM0 10h1v1h-1zM2 10h1v1h-1zM15 10h1v1h-1zM24 10h1v1h-1zM29 10h1v1h-1zM32 10h1v1h-1zM7 11h1v1h-1zM26 11h1v1h-1zM29 11h1v1h-1zM37 11h1v1h-1zM41 11h1v1h-1zM13 12h1v1h-1zM16 12h2v1h-2zM21 12h1v1h-1zM25 12h2v1h-2zM30 12h1v1h-1zM35 12h1v1h-1zM38 12h1v1h-1zM12 13h1v1h-1zM15 13h1v1h-1zM23 13h1v1h-1zM30 13h1v1h-1zM32 13h1v1h-1zM39 13h1v1h-1zM0 14h1v1h-1zM2 14h1v1h-1zM8 14h1v1h-1zM35 14h1v1h-1zM37 14h1v1h-1zM5 15h1v1h-1zM8 15h1v1h-1zM10 15h1v1h-1zM13 15h1v1h-1zM19 15h3v1h-3zM27 15h1v1h-1zM4 16h1v1h-1zM12 16h1v1h-1zM23 16h1v1h-1zM28 16h4v1h-4zM38 16h1v1h-1zM12 17h1v1h-1zM29 17h1v1h-1zM2 18h1v1h-1zM8 18h1v1h-1zM23 18h1v1h-1zM32 18h1v1h-1zM34 18h1v1h-1zM38 18h2v1h-2zM15 19h1v1h-1zM21 19h1v1h-1zM28 19h1v1h-1zM31 19h1v1h-1zM41 19h1v1h-1zM0 20h1v1h-1zM2 20h1v1h-1zM8 20h1v1h-1zM15 20h1v1h-1zM31 20h1v1h-1zM3 21h1v1h-1zM12 21h1v1h-1zM15 21h1v1h-1zM19 21h1v1h-1zM24 21h1v1h-1zM27 21h1v1h-1zM29 21h1v1h-1zM31 21h3v1h-3zM8 22h1v1h-1zM24 22h1v1h-1zM27 22h1v1h-1zM32 22h2v1h-2zM13 23h1v1h-1zM16 23h1v1h-1zM18 23h1v1h-1zM27 23h2v1h-2zM37 23h1v1h-1zM5 24h1v1h-1zM9 24h2v1h-2zM21 24h2v1h-2zM32 24h1v1h-1zM5 25h1v1h-1zM8 25h1v1h-1zM12 25h1v1h-1zM31 25h2v1h-2zM5 26h1v1h-1zM11 26h2v1h-2zM31 26h1v1h-1zM36 26h2v1h-2zM15 27h1v1h-1zM21 27h3v1h-3zM32 27h1v1h-1zM34 27h2v1h-2zM39 27h3v1h-3zM7 28h1v1h-1zM9 28h1v1h-1zM16 28h1v1h-1zM19 28h1v1h-1zM23 28h1v1h-1zM29 28h1v1h-1zM34 28h2v1h-2zM5 29h1v1h-1zM8 29h4v1h-4zM16 29h2v1h-2zM21 29h1v1h-1zM28 29h1v1h-1zM30 29h1v1h-1zM40 29h1v1h-1zM3 30h1v1h-1zM7 30h2v1h-2zM12 30h2v1h-2zM16 30h1v1h-1zM29 30h1v1h-1zM36 30h1v1h-1zM2 31h1v1h-1zM6 31h1v1h-1zM16 31h1v1h-1zM19 31h3v1h-3zM25 31h2v1h-2zM36 31h2v1h-2zM9 32h2v1h-2zM13 32h1v1h-1zM18 32h1v1h-1zM21 32h2v1h-2zM24 32h2v1h-2zM27 32h1v1h-1zM36 32h1v1h-1zM0 33h1v1h-1zM2 33h1v1h-1zM21 33h2v1h-2zM37 33h3v1h-3zM18 34h1v1h-1zM27 34h2v1h-2zM9 35h1v1h-1zM12 35h1v1h-1zM14 35h1v1h-1zM27 35h2v1h-2zM4 36h1v1h-1zM26 36h1v1h-1zM30 36h3v1h-3zM41 36h1v1h-1zM11 37h1v1h-1zM14 37h1v1h-1zM23 37h1v1h-1zM26 37h1v1h-1zM31 37h1v1h-1zM33 37h1v1h-1zM41 37h1v1h-1zM9 38h1v1h-1zM12 38h1v1h-1zM16 38h1v1h-1zM18 38h1v1h-1zM33 38h1v1h-1zM40 38h1v1h-1zM5 39h1v1h-1zM13 39h1v1h-1zM18 39h1v1h-1zM27 39h1v1h-1zM33 39h1v1h-1zM40 39h1v1h-1zM27 40h1v1h-1zM29 40h1v1h-1zM38 40h2v1h-2zM11 41h1v1h-1zM19 41h1v1h-1zM27 41h1v1h-1zM36 41h2v1h-2z"/>
<path fill="#f09e82" d="M3 0h1v1h-1zM18 0h1v1h-1zM21 0h1v1h-1zM31 0h1v1h-1zM10 1h1v1h-1zM13 1h1v1h-1zM27 2h1v1h-1zM0 3h1v1h-1zM10 3h2v1h-2zM16 3h1v1h-1zM19 3h1v1h-1zM13 4h1v1h-1zM22 4h1v1h-1zM31 4h1v1h-1zM33 4h1v1h-1zM37 4h1v1h-1zM9 5h1v1h-1zM11 5h1v1h-1zM19 5h1v1h-1zM38 5h1v1h-1zM10 6h1v1h-1zM21 6h1v1h-1zM10 7h1v1h-1zM20 7h2v1h-2zM27 7h1v1h-1zM31 7h1v1h-1zM11 8h3v1h-3zM17 8h1v1h-1zM19 8h1v1h-1zM21 8h1v1h-1zM31 8h1v1h-1zM34 8h1v1h-1zM38 8h2v1h-2zM5 9h1v1h-1zM12 9h2v1h-2zM18 9h3v1h-3zM25 9h2v1h-2zM31 9h1v1h-1zM1 10h1v1h-1zM3 10h1v1h-1zM6 10h2v1h-2zM14 10h1v1h-1zM17 10h1v1h-1zM21 10h1v1h-1zM23 10h1v1h-1zM31 10h1v1h-1zM38 10h2v1h-2zM3 11h1v1h-1zM5 11h1v1h-1zM8 11h1v1h-1zM22 11h1v1h-1zM25 11h1v1h-1zM27 11h1v1h-1zM38 11h2v1h-2zM8 12h2v1h-2zM14 12h1v1h-1zM22 12h1v1h-1zM31 12h2v1h-2zM37 12h1v1h-1zM39 12h1v1h-1zM1 13h1v1h-1zM4 13h1v1h-1zM8 13h2v1h-2zM19 13h1v1h-1zM24 13h2v1h-2zM28 13h1v1h-1zM37 13h2v1h-2zM10 14h1v1h-1zM12 14h1v1h-1zM15 14h2v1h-2zM19 14h1v1h-1zM23 14h1v1h-1zM26 14h1v1h-1zM34 14h1v1h-1zM38 14h2v1h-2zM14 15h1v1h-1zM23 15h2v1h-2zM28 15h1v1h-1zM35 15h1v1h-1zM40 15h1v1h-1zM3 16h1v1h-1zM14 16h1v1h-1zM19 16h1v1h-1zM21 16h1v1h-1zM24 16h1v1h-1zM34 16h1v1h-1zM8 17h1v1h-1zM10 17h1v1h-1zM38 17h1v1h-1zM0 18h1v1h-1zM9 18h1v1h-1zM22 18h1v1h-1zM3 19h1v1h-1zM5 19h1v1h-1zM8 19h2v1h-2zM13 19h2v1h-2zM16 19h1v1h-1zM22 19h1v1h-1zM26 19h2v1h-2zM32 19h1v1h-1zM35 19h1v1h-1zM38 19h1v1h-1zM7 20h1v1h-1zM9 20h1v1h-1zM26 20h2v1h-2zM37 20h2v1h-2zM0 21h1v1h-1zM6 21h3v1h-3zM10 21h1v1h-1zM16 21h1v1h-1zM22 21h1v1h-1zM25 21h1v1h-1zM39 21h1v1h-1zM4 22h1v1h-1zM11 22h2v1h-2zM18 22h2v1h-2zM21 22h1v1h-1zM29 22h2v1h-2zM10 23h1v1h-1zM14 23h2v1h-2zM41 23h1v1h-1zM13 24h1v1h-1zM15 24h2v1h-2zM33 24h1v1h-1zM38 24h1v1h-1zM40 24h1v1h-1zM9 25h1v1h-1zM11 25h1v1h-1zM13 25h1v1h-1zM21 25h1v1h-1zM29 25h1v1h-1zM33 25h1v1h-1zM38 25h1v1h-1zM40 25h1v1h-1zM9 26h1v1h-1zM14 26h1v1h-1zM19 26h2v1h-2zM33 26h1v1h-1zM2 27h1v1h-1zM7 27h1v1h-1zM11 27h1v1h-1zM19 27h2v1h-2zM33 27h1v1h-1zM38 27h1v1h-1zM13 28h1v1h-1zM15 28h1v1h-1zM38 28h1v1h-1zM22 29h1v1h-1zM25 29h1v1h-1zM31 29h1v1h-1zM33 29h1v1h-1zM37 29h2v1h-2zM22 30h1v1h-1zM0 31h1v1h-1zM4 31h1v1h-1zM7 31h4v1h-4zM12 31h1v1h-1zM29 31h1v1h-1zM32 31h2v1h-2zM12 32h1v1h-1zM19 32h1v1h-1zM31 32h1v1h-1zM35 32h1v1h-1zM4 33h1v1h-1zM24 33h4v1h-4zM29 33h1v1h-1zM31 33h1v1h-1zM36 33h1v1h-1zM8 34h1v1h-1zM14 34h1v1h-1zM16 34h1v1h-1zM37 34h1v1h-1zM40 34h2v1h-2zM15 35h1v1h-1zM19 35h1v1h-1zM32 35h1v1h-1zM36 35h1v1h-1zM33 36h1v1h-1zM35 36h1v1h-1zM4 37h1v1h-1zM12 37h2v1h-2zM20 37h1v1h-1zM29 37h1v1h-1zM34 37h1v1h-1zM5 38h1v1h-1zM8 38h1v1h-1zM10 38h2v1h-2zM13 38h2v1h-2zM17 38h1v1h-1zM19 38h2v1h-2zM24 38h2v1h-2zM27 38h3v1h-3zM8 39h1v1h-1zM10 39h3v1h-3zM14 39h1v1h-1zM21 39h1v1h-1zM41 39h1v1h-1zM15 40h1v1h-1zM24 40h2v1h-2zM34 40h1v1h-1zM23 41h1v1h-1zM34 41h1v1h-1zM39 41h1v1h-1z"/>
<path fill="#dcdde1" d="M8 0h1v1h-1zM12 0h1v1h-1zM27 0h1v1h-1zM32 0h1v1h-1zM9 1h1v1h-1zM12 1h1v1h-1zM18 1h1v1h-1zM20 1h1v1h-1zM28 2h1v1h-1zM4 3h1v1h-1zM8 3h1v1h-1zM12 3h3v1h-3zM18 3h1v1h-1zM27 3h1v1h-1zM29 3h1v1h-1zM31 3h1v1h-1zM3 4h1v1h-1zM20 4h1v1h-1zM29 4h1v1h-1zM32 4h1v1h-1zM39 4h1v1h-1zM23 5h1v1h-1zM30 5h1v1h-1zM32 5h1v1h-1zM34 5h2v1h-2zM37 5h1v1h-1zM41 5h1v1h-1zM14 6h1v1h-1zM18 6h1v1h-1zM27 6h1v1h-1zM32 6h1v1h-1zM37 6h1v1h-1zM9 7h1v1h-1zM19 7h1v1h-1zM32 7h1v1h-1zM0 8h1v1h-1zM3 8h1v1h-1zM24 8h1v1h-1zM27 8h2v1h-2zM1 9h1v1h-1zM7 9h1v1h-1zM23 9h1v1h-1zM27 9h1v1h-1zM41 9h1v1h-1zM25 10h1v1h-1zM27 10h1v1h-1zM30 10h1v1h-1zM21 11h1v1h-1zM28 11h1v1h-1zM32 11h1v1h-1zM35 11h1v1h-1zM0 12h2v1h-2zM3 12h1v1h-1zM40 12h1v1h-1zM3 13h1v1h-1zM26 13h1v1h-1zM34 13h1v1h-1zM3 14h1v1h-1zM6 14h1v1h-1zM22 14h1v1h-1zM40 14h1v1h-1zM18 15h1v1h-1zM29 15h1v1h-1zM31 15h1v1h-1zM33 15h1v1h-1zM17 16h1v1h-1zM25 16h1v1h-1zM37 16h1v1h-1zM16 17h1v1h-1zM32 17h2v1h-2zM41 17h1v1h-1zM1 18h1v1h-1zM3 18h1v1h-1zM6 18h1v1h-1zM15 18h1v1h-1zM26 18h1v1h-1zM29 18h1v1h-1zM35 18h1v1h-1zM7 19h1v1h-1zM37 19h1v1h-1zM40 19h1v1h-1zM1 20h1v1h-1zM4 20h1v1h-1zM32 20h2v1h-2zM35 20h1v1h-1zM11 21h1v1h-1zM26 21h1v1h-1zM30 21h1v1h-1zM34 21h1v1h-1zM14 22h1v1h-1zM37 22h1v1h-1zM5 23h1v1h-1zM9 23h1v1h-1zM33 23h1v1h-1zM8 24h1v1h-1zM31 24h1v1h-1zM41 24h1v1h-1zM10 25h1v1h-1zM16 25h1v1h-1zM41 25h1v1h-1zM13 26h1v1h-1zM18 26h1v1h-1zM21 26h1v1h-1zM0 27h1v1h-1zM3 27h1v1h-1zM6 27h1v1h-1zM8 27h3v1h-3zM29 27h1v1h-1zM2 28h1v1h-1zM8 28h1v1h-1zM11 28h1v1h-1zM32 28h1v1h-1zM41 28h1v1h-1zM3 29h2v1h-2zM15 29h1v1h-1zM18 29h1v1h-1zM27 29h1v1h-1zM32 29h1v1h-1zM5 30h1v1h-1zM10 30h1v1h-1zM21 30h1v1h-1zM3 31h1v1h-1zM15 31h1v1h-1zM24 31h1v1h-1zM34 31h1v1h-1zM0 32h1v1h-1zM4 32h4v1h-4zM11 32h1v1h-1zM17 32h1v1h-1zM20 32h1v1h-1zM28 32h2v1h-2zM34 32h1v1h-1zM15 33h1v1h-1zM17 33h1v1h-1zM20 33h1v1h-1zM23 33h1v1h-1zM35 33h1v1h-1zM40 33h2v1h-2zM5 34h1v1h-1zM13 34h1v1h-1zM21 34h1v1h-1zM31 34h2v1h-2zM5 35h1v1h-1zM11 35h1v1h-1zM18 35h1v1h-1zM20 35h1v1h-1zM33 35h1v1h-1zM5 37h2v1h-2zM16 37h1v1h-1zM19 37h1v1h-1zM22 37h1v1h-1zM4 39h1v1h-1zM12 40h1v1h-1zM14 40h1v1h-1zM19 40h1v1h-1zM33 40h1v1h-1zM5 41h1v1h-1zM9 41h1v1h-1zM17 41h1v1h-1zM24 41h2v1h-2zM28 41h1v1h-1zM33 41h1v1h-1z"/>
<path d="M1 0V42M0 1H42M2 0V42M0 2H42M3 0V42M0 3H42M4 0V42M0 4H42M5 0V42M0 5H42M6 0V42M0 6H42M7 0V42M0 7H42M8 0V42M0 8H42M9 0V42M0 9H42M10 0V42M0 10H42M11 0V42M0 11H42M12 0V42M0 12H42M13 0V42M0 13H42M14 0V42M0 14H42M15 0V42M0 15H42M16 0V42M0 16H42M17 0V42M0 17H42M18 0V42M0 18H42M19 0V42M0 19H42M20 0V42M0 20H42M21 0V42M0 21H42M22 0V42M0 22H42M23 0V42M0 23H42M24 0V42M0 24H42M25 0V42M0 25H42M26 0V42M0 26H42M27 0V42M0 27H42M28 0V42M0 28H42M29 0V42M0 29H42M30 0V42M0 30H42M31 0V42M0 31H42M32 0V42M0 32H42M33 0V42M0 33H42M34 0V42M0 34H42M35 0V42M0 35H42M36 0V42M0 36H42M37 0V42M0 37H42M38 0V42M0 38H42M39 0V42M0 39H42M40 0V42M0 40H42M41 0V42M0 41H42" stroke="#fff" stroke-opacity="0.22" stroke-width="0.7" vector-effect="non-scaling-stroke" fill="none"/>
</g>
<text class="lb" transform="translate(95.4 372.61) scale(0.844 1)" text-anchor="end" font-size="7.62">NBIC</text>
<text class="lb" transform="translate(95.4 377.63) scale(0.844 1)" text-anchor="end" font-size="7.62">Lateral hypothalamus</text>
<text class="lb" transform="translate(95.4 382.65) scale(0.844 1)" text-anchor="end" font-size="7.62">Nucleus sagulum</text>
<text class="lb" transform="translate(95.4 387.67) scale(0.844 1)" text-anchor="end" font-size="7.62">Paratrochlear</text>
<text class="lb" transform="translate(95.4 392.69) scale(0.844 1)" text-anchor="end" font-size="7.62">Parastrial</text>
<text class="lb" transform="translate(95.4 397.7) scale(0.844 1)" text-anchor="end" font-size="7.62">Midbrain raphe nuclei</text>
<text class="lb" transform="translate(95.4 402.72) scale(0.844 1)" text-anchor="end" font-size="7.62">Ventral tegmental nucleus</text>
<text class="lb" transform="translate(95.4 407.74) scale(0.844 1)" text-anchor="end" font-size="7.62">Ventral tegmental area</text>
<text class="lb" transform="translate(95.4 412.76) scale(0.844 1)" text-anchor="end" font-size="7.62">Anterodorsal nucleus</text>
<text class="lb" transform="translate(95.4 417.78) scale(0.844 1)" text-anchor="end" font-size="7.62">Anteromedial nucleus</text>
<text class="lb" transform="translate(95.4 422.8) scale(0.844 1)" text-anchor="end" font-size="7.62">Anteroventral nucleus</text>
<text class="lb" transform="translate(95.4 427.82) scale(0.844 1)" text-anchor="end" font-size="7.62">Lateral dorsal nucleus</text>
<text class="lb" transform="translate(95.4 432.84) scale(0.844 1)" text-anchor="end" font-size="7.62">Central lateral nucleus</text>
<text class="lb" transform="translate(95.4 437.86) scale(0.844 1)" text-anchor="end" font-size="7.62">Reticular nucleus</text>
<text class="lb" transform="translate(95.4 442.88) scale(0.844 1)" text-anchor="end" font-size="7.62">Rhomboid nucleus</text>
<text class="lb" transform="translate(95.4 447.9) scale(0.844 1)" text-anchor="end" font-size="7.62">Parataenial</text>
<text class="lb" transform="translate(95.4 452.91) scale(0.844 1)" text-anchor="end" font-size="7.62">Ventral posterolateral nucleus</text>
<text class="lb" transform="translate(95.4 457.93) scale(0.844 1)" text-anchor="end" font-size="7.62">Paracentral</text>
<text class="lb" transform="translate(95.4 462.95) scale(0.844 1)" text-anchor="end" font-size="7.62">Posterior complex</text>
<text class="lb" transform="translate(95.4 467.97) scale(0.844 1)" text-anchor="end" font-size="7.62">Lateral habenula</text>
<text class="lb" transform="translate(95.4 472.99) scale(0.844 1)" text-anchor="end" font-size="7.62">Parafascicular nucleus</text>
<text class="lb" transform="translate(95.4 478.01) scale(0.844 1)" text-anchor="end" font-size="7.62">Ventral anterior-lateral complex</text>
<text class="lb" transform="translate(95.4 483.03) scale(0.844 1)" text-anchor="end" font-size="7.62">Ventral posteromedial nucleus</text>
<text class="lb" transform="translate(95.4 488.05) scale(0.844 1)" text-anchor="end" font-size="7.62">Lateral posterior nucleus</text>
<text class="lb" transform="translate(95.4 493.07) scale(0.844 1)" text-anchor="end" font-size="7.62">Intermediodorsal nucleus</text>
<text class="lb" transform="translate(95.4 498.09) scale(0.844 1)" text-anchor="end" font-size="7.62">Central medial nucleus</text>
<text class="lb" transform="translate(95.4 503.1) scale(0.844 1)" text-anchor="end" font-size="7.62">Anterodorsal preoptic</text>
<text class="lb" transform="translate(95.4 508.12) scale(0.844 1)" text-anchor="end" font-size="7.62">Interanteromedial nucleus</text>
<text class="lb" transform="translate(95.4 513.14) scale(0.844 1)" text-anchor="end" font-size="7.62">Submedial nucleus</text>
<text class="lb" transform="translate(95.4 518.16) scale(0.844 1)" text-anchor="end" font-size="7.62">Paraventricular nucleus</text>
<text class="lb" transform="translate(95.4 523.18) scale(0.844 1)" text-anchor="end" font-size="7.62">Lateral preoptic area</text>
<text class="lb" transform="translate(95.4 528.2) scale(0.844 1)" text-anchor="end" font-size="7.62">Interanterodorsal nucleus</text>
<text class="lb" transform="translate(95.4 533.22) scale(0.844 1)" text-anchor="end" font-size="7.62">Medial habenula</text>
<text class="lb" transform="translate(95.4 538.24) scale(0.844 1)" text-anchor="end" font-size="7.62">Posterior triangular thalamus</text>
<text class="lb" transform="translate(95.4 543.26) scale(0.844 1)" text-anchor="end" font-size="7.62">Pretectal region</text>
<text class="lb" transform="translate(95.4 548.28) scale(0.844 1)" text-anchor="end" font-size="7.62">Periaqueductal gray</text>
<text class="lb" transform="translate(95.4 553.3) scale(0.844 1)" text-anchor="end" font-size="7.62">Somatosensory</text>
<text class="lb" transform="translate(95.4 558.31) scale(0.844 1)" text-anchor="end" font-size="7.62">Septofimbrial nucleus</text>
<text class="lb" transform="translate(95.4 563.33) scale(0.844 1)" text-anchor="end" font-size="7.62">Anterior cingulate</text>
<text class="lb" transform="translate(95.4 568.35) scale(0.844 1)" text-anchor="end" font-size="7.62">Lateral septal nucleus</text>
<text class="lb" transform="translate(95.4 573.37) scale(0.844 1)" text-anchor="end" font-size="7.62">Somatomotor</text>
<text class="lb" transform="translate(95.4 578.39) scale(0.844 1)" text-anchor="end" font-size="7.62">Infralimbic</text>
<text class="cl" transform="translate(102.49 579.6) rotate(-90) scale(0.918 1)" text-anchor="end" font-size="6.88">NBIC</text>
<text class="cl" transform="translate(107.47 579.6) rotate(-90) scale(0.918 1)" text-anchor="end" font-size="6.88">Lateral hypothalamus</text>
<text class="cl" transform="translate(112.45 579.6) rotate(-90) scale(0.918 1)" text-anchor="end" font-size="6.88">Nucleus sagulum</text>
<text class="cl" transform="translate(117.43 579.6) rotate(-90) scale(0.918 1)" text-anchor="end" font-size="6.88">Paratrochlear</text>
<text class="cl" transform="translate(122.41 579.6) rotate(-90) scale(0.918 1)" text-anchor="end" font-size="6.88">Parastrial</text>
<text class="cl" transform="translate(127.4 579.6) rotate(-90) scale(0.918 1)" text-anchor="end" font-size="6.88">Midbrain raphe nuclei</text>
<text class="cl" transform="translate(132.38 579.6) rotate(-90) scale(0.918 1)" text-anchor="end" font-size="6.88">Ventral tegmental nucleus</text>
<text class="cl" transform="translate(137.36 579.6) rotate(-90) scale(0.918 1)" text-anchor="end" font-size="6.88">Ventral tegmental area</text>
<text class="cl" transform="translate(142.34 579.6) rotate(-90) scale(0.918 1)" text-anchor="end" font-size="6.88">Anterodorsal nucleus</text>
<text class="cl" transform="translate(147.32 579.6) rotate(-90) scale(0.918 1)" text-anchor="end" font-size="6.88">Anteromedial nucleus</text>
<text class="cl" transform="translate(152.3 579.6) rotate(-90) scale(0.918 1)" text-anchor="end" font-size="6.88">Anteroventral nucleus</text>
<text class="cl" transform="translate(157.28 579.6) rotate(-90) scale(0.918 1)" text-anchor="end" font-size="6.88">Lateral dorsal nucleus</text>
<text class="cl" transform="translate(162.26 579.6) rotate(-90) scale(0.918 1)" text-anchor="end" font-size="6.88">Central lateral nucleus</text>
<text class="cl" transform="translate(167.24 579.6) rotate(-90) scale(0.918 1)" text-anchor="end" font-size="6.88">Reticular nucleus</text>
<text class="cl" transform="translate(172.22 579.6) rotate(-90) scale(0.918 1)" text-anchor="end" font-size="6.88">Rhomboid nucleus</text>
<text class="cl" transform="translate(177.2 579.6) rotate(-90) scale(0.918 1)" text-anchor="end" font-size="6.88">Parataenial</text>
<text class="cl" transform="translate(182.19 579.6) rotate(-90) scale(0.918 1)" text-anchor="end" font-size="6.88">Ventral posterolateral nucleus</text>
<text class="cl" transform="translate(187.17 579.6) rotate(-90) scale(0.918 1)" text-anchor="end" font-size="6.88">Paracentral</text>
<text class="cl" transform="translate(192.15 579.6) rotate(-90) scale(0.918 1)" text-anchor="end" font-size="6.88">Posterior complex</text>
<text class="cl" transform="translate(197.13 579.6) rotate(-90) scale(0.918 1)" text-anchor="end" font-size="6.88">Lateral habenula</text>
<text class="cl" transform="translate(202.11 579.6) rotate(-90) scale(0.918 1)" text-anchor="end" font-size="6.88">Parafascicular nucleus</text>
<text class="cl" transform="translate(207.09 579.6) rotate(-90) scale(0.918 1)" text-anchor="end" font-size="6.88">Ventral anterior-lateral complex</text>
<text class="cl" transform="translate(212.07 579.6) rotate(-90) scale(0.918 1)" text-anchor="end" font-size="6.88">Ventral posteromedial nucleus</text>
<text class="cl" transform="translate(217.05 579.6) rotate(-90) scale(0.918 1)" text-anchor="end" font-size="6.88">Lateral posterior nucleus</text>
<text class="cl" transform="translate(222.03 579.6) rotate(-90) scale(0.918 1)" text-anchor="end" font-size="6.88">Intermediodorsal nucleus</text>
<text class="cl" transform="translate(227.01 579.6) rotate(-90) scale(0.918 1)" text-anchor="end" font-size="6.88">Central medial nucleus</text>
<text class="cl" transform="translate(232 579.6) rotate(-90) scale(0.918 1)" text-anchor="end" font-size="6.88">Anterodorsal preoptic</text>
<text class="cl" transform="translate(236.98 579.6) rotate(-90) scale(0.918 1)" text-anchor="end" font-size="6.88">Interanteromedial nucleus</text>
<text class="cl" transform="translate(241.96 579.6) rotate(-90) scale(0.918 1)" text-anchor="end" font-size="6.88">Submedial nucleus</text>
<text class="cl" transform="translate(246.94 579.6) rotate(-90) scale(0.918 1)" text-anchor="end" font-size="6.88">Paraventricular nucleus</text>
<text class="cl" transform="translate(251.92 579.6) rotate(-90) scale(0.918 1)" text-anchor="end" font-size="6.88">Lateral preoptic area</text>
<text class="cl" transform="translate(256.9 579.6) rotate(-90) scale(0.918 1)" text-anchor="end" font-size="6.88">Interanterodorsal nucleus</text>
<text class="cl" transform="translate(261.88 579.6) rotate(-90) scale(0.918 1)" text-anchor="end" font-size="6.88">Medial habenula</text>
<text class="cl" transform="translate(266.86 579.6) rotate(-90) scale(0.918 1)" text-anchor="end" font-size="6.88">Posterior triangular thalamus</text>
<text class="cl" transform="translate(271.84 579.6) rotate(-90) scale(0.918 1)" text-anchor="end" font-size="6.88">Pretectal region</text>
<text class="cl" transform="translate(276.82 579.6) rotate(-90) scale(0.918 1)" text-anchor="end" font-size="6.88">Periaqueductal gray</text>
<text class="cl" transform="translate(281.8 579.6) rotate(-90) scale(0.918 1)" text-anchor="end" font-size="6.88">Somatosensory</text>
<text class="cl" transform="translate(286.79 579.6) rotate(-90) scale(0.918 1)" text-anchor="end" font-size="6.88">Septofimbrial nucleus</text>
<text class="cl" transform="translate(291.77 579.6) rotate(-90) scale(0.918 1)" text-anchor="end" font-size="6.88">Anterior cingulate</text>
<text class="cl" transform="translate(296.75 579.6) rotate(-90) scale(0.918 1)" text-anchor="end" font-size="6.88">Lateral septal nucleus</text>
<text class="cl" transform="translate(301.73 579.6) rotate(-90) scale(0.918 1)" text-anchor="end" font-size="6.88">Somatomotor</text>
<text class="cl" transform="translate(306.71 579.6) rotate(-90) scale(0.918 1)" text-anchor="end" font-size="6.88">Infralimbic</text>
<g transform="translate(100.5 698.9) scale(7.5444 7.6148)">
<path fill="#4250a5" d="M18 0h2v1h-2zM25 0h2v1h-2zM18 1h2v1h-2zM23 1h1v1h-1zM25 1h2v1h-2zM19 2h1v1h-1zM18 3h2v1h-2zM26 3h1v1h-1zM18 4h2v1h-2zM21 4h1v1h-1zM23 4h4v1h-4zM18 5h2v1h-2zM21 5h1v1h-1zM23 5h1v1h-1zM16 8h4v1h-4zM16 9h1v1h-1zM18 9h2v1h-2zM16 10h1v1h-1zM16 11h1v1h-1zM14 13h1v1h-1zM16 13h2v1h-2zM13 14h1v1h-1zM26 14h1v1h-1zM8 16h4v1h-4zM13 16h1v1h-1zM8 17h1v1h-1zM13 17h1v1h-1zM0 18h2v1h-2zM3 18h3v1h-3zM8 18h2v1h-2zM0 19h6v1h-6zM8 19h2v1h-2zM4 21h2v1h-2zM1 23h1v1h-1zM4 23h2v1h-2zM4 24h1v1h-1zM0 25h2v1h-2zM4 25h1v1h-1zM0 26h2v1h-2zM3 26h2v1h-2zM14 26h1v1h-1z"/>
<path fill="#b21a2b" d="M0 0h5v1h-5zM0 1h5v1h-5zM0 2h6v1h-6zM0 3h6v1h-6zM0 4h8v1h-8zM2 5h6v1h-6zM4 6h4v1h-4zM4 7h4v1h-4zM8 8h1v1h-1zM9 9h2v1h-2zM12 9h1v1h-1zM9 10h2v1h-2zM11 11h1v1h-1zM9 12h1v1h-1zM12 12h1v1h-1zM13 13h1v1h-1zM14 14h1v1h-1zM16 14h1v1h-1zM15 15h1v1h-1zM14 16h1v1h-1zM16 16h3v1h-3zM16 17h2v1h-2zM20 17h1v1h-1zM23 17h1v1h-1zM16 18h1v1h-1zM18 18h2v1h-2zM23 18h1v1h-1zM18 19h2v1h-2zM21 19h1v1h-1zM23 19h2v1h-2zM17 20h1v1h-1zM20 20h6v1h-6zM19 21h6v1h-6zM20 22h5v1h-5zM17 23h9v1h-9zM19 24h7v1h-7zM20 25h1v1h-1zM23 25h4v1h-4zM25 26h2v1h-2z"/>
<path fill="#7088cd" d="M17 0h1v1h-1zM21 0h1v1h-1zM23 0h2v1h-2zM17 1h1v1h-1zM21 1h1v1h-1zM24 1h1v1h-1zM21 2h1v1h-1zM23 2h4v1h-4zM23 3h1v1h-1zM25 3h1v1h-1zM15 5h1v1h-1zM24 5h3v1h-3zM18 6h2v1h-2zM18 7h2v1h-2zM14 8h1v1h-1zM20 8h1v1h-1zM23 8h2v1h-2zM15 9h1v1h-1zM17 9h1v1h-1zM14 10h1v1h-1zM19 10h1v1h-1zM14 11h1v1h-1zM16 12h1v1h-1zM19 12h1v1h-1zM20 13h1v1h-1zM22 13h1v1h-1zM8 14h1v1h-1zM10 14h2v1h-2zM5 15h1v1h-1zM9 15h1v1h-1zM12 16h1v1h-1zM26 16h1v1h-1zM0 17h2v1h-2zM9 17h1v1h-1zM6 18h2v1h-2zM6 19h2v1h-2zM10 19h1v1h-1zM12 19h1v1h-1zM8 20h1v1h-1zM13 20h1v1h-1zM0 21h3v1h-3zM13 22h1v1h-1zM0 23h1v1h-1zM2 23h2v1h-2zM8 23h1v1h-1zM0 24h3v1h-3zM5 24h1v1h-1zM8 24h1v1h-1zM2 25h2v1h-2zM5 25h1v1h-1zM2 26h1v1h-1zM5 26h1v1h-1zM16 26h1v1h-1z"/>
<path fill="#d85c48" d="M5 0h1v1h-1zM9 0h1v1h-1zM14 0h1v1h-1zM5 1h1v1h-1zM9 3h1v1h-1zM8 4h1v1h-1zM0 5h2v1h-2zM9 5h2v1h-2zM10 7h1v1h-1zM4 8h1v1h-1zM11 8h1v1h-1zM13 8h1v1h-1zM0 9h1v1h-1zM3 9h1v1h-1zM5 9h1v1h-1zM11 9h1v1h-1zM5 10h1v1h-1zM7 10h1v1h-1zM12 10h2v1h-2zM26 10h1v1h-1zM8 11h2v1h-2zM12 11h1v1h-1zM10 12h2v1h-2zM13 12h1v1h-1zM8 13h1v1h-1zM10 13h1v1h-1zM12 13h1v1h-1zM0 14h1v1h-1zM17 14h1v1h-1zM18 15h1v1h-1zM19 16h3v1h-3zM14 17h1v1h-1zM18 17h2v1h-2zM21 17h1v1h-1zM24 17h1v1h-1zM15 18h1v1h-1zM17 18h1v1h-1zM21 18h1v1h-1zM24 18h2v1h-2zM16 19h2v1h-2zM20 19h1v1h-1zM25 19h1v1h-1zM16 20h1v1h-1zM19 20h1v1h-1zM16 21h3v1h-3zM25 21h1v1h-1zM25 22h1v1h-1zM26 23h1v1h-1zM17 24h2v1h-2zM18 25h2v1h-2zM21 25h2v1h-2zM10 26h1v1h-1zM23 26h1v1h-1z"/>
<path fill="#aec1e9" d="M7 0h1v1h-1zM13 0h1v1h-1zM15 0h1v1h-1zM20 0h1v1h-1zM22 0h1v1h-1zM7 1h1v1h-1zM10 1h1v1h-1zM15 1h2v1h-2zM20 1h1v1h-1zM22 1h1v1h-1zM13 2h1v1h-1zM17 2h2v1h-2zM20 2h1v1h-1zM22 2h1v1h-1zM13 3h1v1h-1zM17 3h1v1h-1zM21 3h1v1h-1zM24 3h1v1h-1zM13 4h1v1h-1zM15 4h3v1h-3zM20 4h1v1h-1zM22 4h1v1h-1zM14 5h1v1h-1zM16 5h1v1h-1zM20 5h1v1h-1zM22 5h1v1h-1zM12 6h1v1h-1zM14 6h3v1h-3zM20 6h5v1h-5zM0 7h2v1h-2zM12 7h1v1h-1zM14 7h3v1h-3zM21 7h4v1h-4zM15 8h1v1h-1zM21 8h2v1h-2zM25 8h2v1h-2zM14 9h1v1h-1zM20 9h2v1h-2zM23 9h2v1h-2zM1 10h1v1h-1zM15 10h1v1h-1zM17 10h2v1h-2zM15 11h1v1h-1zM17 11h5v1h-5zM6 12h2v1h-2zM14 12h1v1h-1zM17 12h2v1h-2zM20 12h2v1h-2zM23 12h1v1h-1zM0 13h1v1h-1zM2 13h3v1h-3zM18 13h2v1h-2zM21 13h1v1h-1zM23 13h2v1h-2zM5 14h3v1h-3zM9 14h1v1h-1zM12 14h1v1h-1zM25 14h1v1h-1zM0 15h2v1h-2zM4 15h1v1h-1zM6 15h3v1h-3zM10 15h2v1h-2zM17 15h1v1h-1zM20 15h1v1h-1zM22 15h1v1h-1zM25 15h1v1h-1zM1 16h1v1h-1zM4 16h4v1h-4zM2 17h3v1h-3zM10 17h3v1h-3zM15 17h1v1h-1zM2 18h1v1h-1zM10 18h4v1h-4zM11 19h1v1h-1zM13 19h1v1h-1zM0 20h3v1h-3zM4 20h3v1h-3zM9 20h1v1h-1zM11 20h2v1h-2zM15 20h1v1h-1zM3 21h1v1h-1zM6 21h4v1h-4zM11 21h3v1h-3zM0 22h3v1h-3zM4 22h5v1h-5zM15 22h1v1h-1zM6 23h2v1h-2zM9 23h1v1h-1zM12 23h2v1h-2zM3 24h1v1h-1zM6 24h2v1h-2zM9 24h1v1h-1zM13 24h1v1h-1zM8 25h1v1h-1zM14 25h2v1h-2zM8 26h1v1h-1z"/>
<path fill="#f3c8b6" d="M8 0h1v1h-1zM11 0h2v1h-2zM13 1h1v1h-1zM7 2h4v1h-4zM14 2h1v1h-1zM6 3h1v1h-1zM10 3h1v1h-1zM12 3h1v1h-1zM11 4h2v1h-2zM14 4h1v1h-1zM12 5h1v1h-1zM3 6h1v1h-1zM8 6h2v1h-2zM11 6h1v1h-1zM26 6h1v1h-1zM2 7h1v1h-1zM8 7h1v1h-1zM17 7h1v1h-1zM0 8h1v1h-1zM2 8h1v1h-1zM6 8h2v1h-2zM12 8h1v1h-1zM2 9h1v1h-1zM6 9h1v1h-1zM22 9h1v1h-1zM25 9h1v1h-1zM2 10h2v1h-2zM22 10h3v1h-3zM0 11h1v1h-1zM4 11h1v1h-1zM6 11h1v1h-1zM24 11h1v1h-1zM26 11h1v1h-1zM0 12h1v1h-1zM3 12h3v1h-3zM8 12h1v1h-1zM26 12h1v1h-1zM1 13h1v1h-1zM15 13h1v1h-1zM2 14h1v1h-1zM4 14h1v1h-1zM15 14h1v1h-1zM19 14h1v1h-1zM22 14h3v1h-3zM13 15h2v1h-2zM21 15h1v1h-1zM23 15h1v1h-1zM7 17h1v1h-1zM26 17h1v1h-1zM14 19h1v1h-1zM26 20h1v1h-1zM15 21h1v1h-1zM9 22h2v1h-2zM14 22h1v1h-1zM10 23h1v1h-1zM14 23h2v1h-2zM10 24h2v1h-2zM14 24h1v1h-1zM9 25h1v1h-1zM6 26h1v1h-1zM11 26h2v1h-2zM17 26h1v1h-1zM20 26h1v1h-1z"/>
<path fill="#f09e82" d="M8 1h2v1h-2zM12 1h1v1h-1zM14 1h1v1h-1zM6 2h1v1h-1zM15 2h1v1h-1zM7 3h2v1h-2zM11 3h1v1h-1zM14 3h1v1h-1zM9 4h2v1h-2zM8 5h1v1h-1zM11 5h1v1h-1zM2 6h1v1h-1zM10 6h1v1h-1zM17 6h1v1h-1zM3 7h1v1h-1zM9 7h1v1h-1zM11 7h1v1h-1zM25 7h2v1h-2zM1 8h1v1h-1zM3 8h1v1h-1zM5 8h1v1h-1zM9 8h2v1h-2zM1 9h1v1h-1zM4 9h1v1h-1zM7 9h2v1h-2zM13 9h1v1h-1zM4 10h1v1h-1zM6 10h1v1h-1zM8 10h1v1h-1zM11 10h1v1h-1zM25 10h1v1h-1zM3 11h1v1h-1zM5 11h1v1h-1zM7 11h1v1h-1zM10 11h1v1h-1zM13 11h1v1h-1zM25 11h1v1h-1zM1 12h1v1h-1zM9 13h1v1h-1zM11 13h1v1h-1zM26 13h1v1h-1zM1 14h1v1h-1zM3 14h1v1h-1zM18 14h1v1h-1zM20 14h2v1h-2zM2 15h1v1h-1zM16 15h1v1h-1zM19 15h1v1h-1zM15 16h1v1h-1zM22 16h3v1h-3zM6 17h1v1h-1zM22 17h1v1h-1zM25 17h1v1h-1zM14 18h1v1h-1zM20 18h1v1h-1zM22 18h1v1h-1zM26 18h1v1h-1zM15 19h1v1h-1zM22 19h1v1h-1zM26 19h1v1h-1zM14 20h1v1h-1zM18 20h1v1h-1zM14 21h1v1h-1zM26 21h1v1h-1zM16 22h4v1h-4zM16 23h1v1h-1zM16 24h1v1h-1zM26 24h1v1h-1zM7 25h1v1h-1zM10 25h2v1h-2zM17 25h1v1h-1zM7 26h1v1h-1zM13 26h1v1h-1zM18 26h2v1h-2zM21 26h1v1h-1zM24 26h1v1h-1z"/>
<path fill="#dcdde1" d="M6 0h1v1h-1zM10 0h1v1h-1zM16 0h1v1h-1zM6 1h1v1h-1zM11 1h1v1h-1zM11 2h2v1h-2zM16 2h1v1h-1zM15 3h2v1h-2zM20 3h1v1h-1zM22 3h1v1h-1zM13 5h1v1h-1zM17 5h1v1h-1zM0 6h2v1h-2zM13 6h1v1h-1zM25 6h1v1h-1zM13 7h1v1h-1zM20 7h1v1h-1zM26 9h1v1h-1zM0 10h1v1h-1zM20 10h2v1h-2zM1 11h2v1h-2zM22 11h2v1h-2zM2 12h1v1h-1zM15 12h1v1h-1zM22 12h1v1h-1zM24 12h2v1h-2zM5 13h3v1h-3zM25 13h1v1h-1zM3 15h1v1h-1zM12 15h1v1h-1zM24 15h1v1h-1zM26 15h1v1h-1zM0 16h1v1h-1zM2 16h2v1h-2zM25 16h1v1h-1zM5 17h1v1h-1zM3 20h1v1h-1zM7 20h1v1h-1zM10 20h1v1h-1zM10 21h1v1h-1zM3 22h1v1h-1zM11 22h2v1h-2zM26 22h1v1h-1zM11 23h1v1h-1zM12 24h1v1h-1zM15 24h1v1h-1zM6 25h1v1h-1zM12 25h2v1h-2zM16 25h1v1h-1zM9 26h1v1h-1zM15 26h1v1h-1zM22 26h1v1h-1z"/>
<path d="M1 0V27M0 1H27M2 0V27M0 2H27M3 0V27M0 3H27M4 0V27M0 4H27M5 0V27M0 5H27M6 0V27M0 6H27M7 0V27M0 7H27M8 0V27M0 8H27M9 0V27M0 9H27M10 0V27M0 10H27M11 0V27M0 11H27M12 0V27M0 12H27M13 0V27M0 13H27M14 0V27M0 14H27M15 0V27M0 15H27M16 0V27M0 16H27M17 0V27M0 17H27M18 0V27M0 18H27M19 0V27M0 19H27M20 0V27M0 20H27M21 0V27M0 21H27M22 0V27M0 22H27M23 0V27M0 23H27M24 0V27M0 24H27M25 0V27M0 25H27M26 0V27M0 26H27" stroke="#fff" stroke-opacity="0.22" stroke-width="0.7" vector-effect="non-scaling-stroke" fill="none"/>
</g>
<text class="lb" transform="translate(96.8 703.81) scale(0.820 1)" text-anchor="end" font-size="7.62">Ventral posteromedial</text>
<text class="lb" transform="translate(96.8 711.45) scale(0.820 1)" text-anchor="end" font-size="7.62">Lateral dorsal</text>
<text class="lb" transform="translate(96.8 719.1) scale(0.820 1)" text-anchor="end" font-size="7.62">Visceral</text>
<text class="lb" transform="translate(96.8 726.74) scale(0.820 1)" text-anchor="end" font-size="7.62">Ectorhinal</text>
<text class="lb" transform="translate(96.8 734.39) scale(0.820 1)" text-anchor="end" font-size="7.62">Temporal association</text>
<text class="lb" transform="translate(96.8 742.03) scale(0.820 1)" text-anchor="end" font-size="7.62">Auditory</text>
<text class="lb" transform="translate(96.8 749.68) scale(0.820 1)" text-anchor="end" font-size="7.62">Posterior parietal association</text>
<text class="lb" transform="translate(96.8 757.32) scale(0.820 1)" text-anchor="end" font-size="7.62">Visual</text>
<text class="lb" transform="translate(96.8 764.97) scale(0.820 1)" text-anchor="end" font-size="7.62">Retrohippocampal</text>
<text class="lb" transform="translate(96.8 772.61) scale(0.820 1)" text-anchor="end" font-size="7.62">Posterior triangular nucleus</text>
<text class="lb" transform="translate(96.8 780.26) scale(0.820 1)" text-anchor="end" font-size="7.62">Dorsal premammillary</text>
<text class="lb" transform="translate(96.8 787.9) scale(0.820 1)" text-anchor="end" font-size="7.62">Periaqueductal gray</text>
<text class="lb" transform="translate(96.8 795.55) scale(0.820 1)" text-anchor="end" font-size="7.62">Pretectal</text>
<text class="lb" transform="translate(96.8 803.19) scale(0.820 1)" text-anchor="end" font-size="7.62">Hippocampal</text>
<text class="lb" transform="translate(96.8 810.83) scale(0.820 1)" text-anchor="end" font-size="7.62">Orbital</text>
<text class="lb" transform="translate(96.8 818.48) scale(0.820 1)" text-anchor="end" font-size="7.62">Nucleus accumbens</text>
<text class="lb" transform="translate(96.8 826.12) scale(0.820 1)" text-anchor="end" font-size="7.62">Prelimbic</text>
<text class="lb" transform="translate(96.8 833.77) scale(0.820 1)" text-anchor="end" font-size="7.62">Somatomotor</text>
<text class="lb" transform="translate(96.8 841.41) scale(0.820 1)" text-anchor="end" font-size="7.62">Infralimbic</text>
<text class="lb" transform="translate(96.8 849.06) scale(0.820 1)" text-anchor="end" font-size="7.62">Anterior cingulate</text>
<text class="lb" transform="translate(96.8 856.7) scale(0.820 1)" text-anchor="end" font-size="7.62">Anteroventral preoptic</text>
<text class="lb" transform="translate(96.8 864.35) scale(0.820 1)" text-anchor="end" font-size="7.62">Median preoptic</text>
<text class="lb" transform="translate(96.8 871.99) scale(0.820 1)" text-anchor="end" font-size="7.62">Parastrial</text>
<text class="lb" transform="translate(96.8 879.64) scale(0.820 1)" text-anchor="end" font-size="7.62">Lateral preoptic</text>
<text class="lb" transform="translate(96.8 887.28) scale(0.820 1)" text-anchor="end" font-size="7.62">Medial preoptic</text>
<text class="lb" transform="translate(96.8 894.93) scale(0.820 1)" text-anchor="end" font-size="7.62">Lateral hypothalamus</text>
<text class="lb" transform="translate(96.8 902.57) scale(0.820 1)" text-anchor="end" font-size="7.62">Ventral tegmental area</text>
<text class="cl" transform="translate(106.27 906.8) rotate(-90) scale(0.918 1)" text-anchor="end" font-size="6.88">Ventral posteromedial</text>
<text class="cl" transform="translate(113.86 906.8) rotate(-90) scale(0.918 1)" text-anchor="end" font-size="6.88">Lateral dorsal</text>
<text class="cl" transform="translate(121.45 906.8) rotate(-90) scale(0.918 1)" text-anchor="end" font-size="6.88">Visceral</text>
<text class="cl" transform="translate(129.04 906.8) rotate(-90) scale(0.918 1)" text-anchor="end" font-size="6.88">Ectorhinal</text>
<text class="cl" transform="translate(136.63 906.8) rotate(-90) scale(0.918 1)" text-anchor="end" font-size="6.88">Temporal association</text>
<text class="cl" transform="translate(144.22 906.8) rotate(-90) scale(0.918 1)" text-anchor="end" font-size="6.88">Auditory</text>
<text class="cl" transform="translate(151.81 906.8) rotate(-90) scale(0.918 1)" text-anchor="end" font-size="6.88">Posterior parietal association</text>
<text class="cl" transform="translate(159.4 906.8) rotate(-90) scale(0.918 1)" text-anchor="end" font-size="6.88">Visual</text>
<text class="cl" transform="translate(166.99 906.8) rotate(-90) scale(0.918 1)" text-anchor="end" font-size="6.88">Retrohippocampal</text>
<text class="cl" transform="translate(174.58 906.8) rotate(-90) scale(0.918 1)" text-anchor="end" font-size="6.88">Posterior triangular nucleus</text>
<text class="cl" transform="translate(182.17 906.8) rotate(-90) scale(0.918 1)" text-anchor="end" font-size="6.88">Dorsal premammillary</text>
<text class="cl" transform="translate(189.76 906.8) rotate(-90) scale(0.918 1)" text-anchor="end" font-size="6.88">Periaqueductal gray</text>
<text class="cl" transform="translate(197.35 906.8) rotate(-90) scale(0.918 1)" text-anchor="end" font-size="6.88">Pretectal</text>
<text class="cl" transform="translate(204.94 906.8) rotate(-90) scale(0.918 1)" text-anchor="end" font-size="6.88">Hippocampal</text>
<text class="cl" transform="translate(212.52 906.8) rotate(-90) scale(0.918 1)" text-anchor="end" font-size="6.88">Orbital</text>
<text class="cl" transform="translate(220.11 906.8) rotate(-90) scale(0.918 1)" text-anchor="end" font-size="6.88">Nucleus accumbens</text>
<text class="cl" transform="translate(227.7 906.8) rotate(-90) scale(0.918 1)" text-anchor="end" font-size="6.88">Prelimbic</text>
<text class="cl" transform="translate(235.29 906.8) rotate(-90) scale(0.918 1)" text-anchor="end" font-size="6.88">Somatomotor</text>
<text class="cl" transform="translate(242.88 906.8) rotate(-90) scale(0.918 1)" text-anchor="end" font-size="6.88">Infralimbic</text>
<text class="cl" transform="translate(250.47 906.8) rotate(-90) scale(0.918 1)" text-anchor="end" font-size="6.88">Anterior cingulate</text>
<text class="cl" transform="translate(258.06 906.8) rotate(-90) scale(0.918 1)" text-anchor="end" font-size="6.88">Anteroventral preoptic</text>
<text class="cl" transform="translate(265.65 906.8) rotate(-90) scale(0.918 1)" text-anchor="end" font-size="6.88">Median preoptic</text>
<text class="cl" transform="translate(273.24 906.8) rotate(-90) scale(0.918 1)" text-anchor="end" font-size="6.88">Parastrial</text>
<text class="cl" transform="translate(280.83 906.8) rotate(-90) scale(0.918 1)" text-anchor="end" font-size="6.88">Lateral preoptic</text>
<text class="cl" transform="translate(288.42 906.8) rotate(-90) scale(0.918 1)" text-anchor="end" font-size="6.88">Medial preoptic</text>
<text class="cl" transform="translate(296.01 906.8) rotate(-90) scale(0.918 1)" text-anchor="end" font-size="6.88">Lateral hypothalamus</text>
<text class="cl" transform="translate(303.6 906.8) rotate(-90) scale(0.918 1)" text-anchor="end" font-size="6.88">Ventral tegmental area</text>
<rect x="141.42" y="78.72" width="85.47" height="88.41" fill="none" stroke="#3457aa" stroke-width="2.1" />
<rect x="94.8" y="30.5" width="46.62" height="48.22" fill="none" stroke="#e81a22" stroke-width="2.0" />
<rect x="94.8" y="30.5" width="46.62" height="48.22" fill="none" stroke="#66bb48" stroke-width="2.0" stroke-dasharray="0.9 1.6"/>
<rect x="285.17" y="227.41" width="19.43" height="20.09" fill="none" stroke="#66bb48" stroke-width="2.4" />
<rect x="226.9" y="167.13" width="58.28" height="60.28" fill="none" stroke="#000" stroke-width="2.2" />
<rect x="137.85" y="407.45" width="129.5" height="130.5" fill="none" stroke="#3457aa" stroke-width="2.2" />
<rect x="98" y="367.3" width="39.85" height="40.15" fill="none" stroke="#e81a22" stroke-width="2.5" />
<rect x="267.35" y="537.95" width="39.85" height="40.15" fill="none" stroke="#66bb48" stroke-width="2.5" />
<rect x="100.5" y="698.9" width="105.62" height="106.61" fill="none" stroke="#3457aa" stroke-width="2.2" />
<rect x="206.12" y="805.51" width="98.08" height="98.99" fill="none" stroke="#e81a22" stroke-width="2.2" />
<defs><linearGradient id="cb" x1="0" y1="0" x2="0" y2="1"><stop offset="0.000" stop-color="#b4142a"/><stop offset="0.125" stop-color="#ea7a62"/><stop offset="0.250" stop-color="#f2b49c"/><stop offset="0.375" stop-color="#ead2c8"/><stop offset="0.500" stop-color="#dcdcde"/><stop offset="0.625" stop-color="#bccbe8"/><stop offset="0.750" stop-color="#9fb6e6"/><stop offset="0.875" stop-color="#6f8bd6"/><stop offset="1.000" stop-color="#4150aa"/></linearGradient></defs>
<rect x="306.9" y="30.7" width="9" height="64" fill="url(#cb)"/>
<path d="M315.9 30.7h1.6" stroke="#555" stroke-width="0.5"/>
<text x="318" y="33.3" font-size="7.4">0.5</text>
<path d="M315.9 46.7h1.6" stroke="#555" stroke-width="0.5"/>
<text x="318" y="49.3" font-size="7.4">0.25</text>
<path d="M315.9 62.7h1.6" stroke="#555" stroke-width="0.5"/>
<text x="318" y="65.3" font-size="7.4">0</text>
<path d="M315.9 78.7h1.6" stroke="#555" stroke-width="0.5"/>
<text x="318" y="81.3" font-size="7.4">-0.25</text>
<path d="M315.9 94.7h1.6" stroke="#555" stroke-width="0.5"/>
<text x="318" y="97.3" font-size="7.4">-0.5</text>
<path d="M403.4 83.6C412.92 79.38 438.75 69.85 449.3 67C459.85 64.15 459.25 65.87 466.7 66.5C474.15 67.13 487.7 68.98 494 70.8C500.3 72.62 504.5 75.27 504.5 77.4C504.5 79.53 500.3 82.33 494 83.6C487.7 84.87 475.4 82.32 466.7 85C458 87.68 448.42 94.37 441.8 99.7C435.18 105.03 431.97 111.22 427 117C422.03 122.78 416.77 128.18 412 134.4C407.23 140.62 401.7 148.5 398.4 154.3C395.1 160.1 393.65 164.65 392.2 169.2C390.75 173.75 390.93 178.83 389.7 181.6C388.47 184.37 386.65 185.73 384.8 185.8C382.95 185.87 380.73 185.6 378.6 182C376.47 178.4 373.68 169.65 372 164.2C370.32 158.75 368.75 155.08 368.5 149.3C368.25 143.52 368.62 136.12 370.5 129.5C372.38 122.88 376.18 115.8 379.8 109.6C383.42 103.4 388.27 96.63 392.2 92.3C396.13 87.97 393.88 87.82 403.4 83.6Z" fill="#f8d2d4"/>
<path d="M445.2 140.1C446.37 137.95 448.15 134.82 453.4 131.9C458.65 128.98 468.92 125.52 476.7 122.6C484.48 119.68 493.08 118.5 500.1 114.4C507.12 110.3 513.35 103.27 518.8 98C524.25 92.73 528.92 86.25 532.8 82.8C536.68 79.35 538.98 77.65 542.1 77.3C545.22 76.95 547.6 76.85 551.5 80.7C555.4 84.55 561.8 95.12 565.5 100.4C569.2 105.68 571.62 109.27 573.7 112.4C575.78 115.53 577.87 116.7 578 119.2C578.13 121.7 578.15 124.32 574.5 127.4C570.85 130.48 561.88 134.42 556.1 137.7C550.32 140.98 544.08 143.98 539.8 147.1C535.52 150.22 533.13 154.07 530.4 156.4C527.67 158.73 528.45 160.12 523.4 161.1C518.35 162.08 507.88 162.68 500.1 162.3C492.32 161.92 483.72 160.55 476.7 158.8C469.68 157.05 463.05 154.13 458 151.8C452.95 149.47 448.53 146.75 446.4 144.8C444.27 142.85 444.03 142.25 445.2 140.1Z" fill="#d4d4d4"/>
<path d="M433.8 149C436 149.92 437.93 152.57 440.7 155.5C443.47 158.43 446.93 163.35 450.4 166.6C453.87 169.85 456.4 173.15 461.5 175C466.6 176.85 474.07 177.47 481 177.7C487.93 177.93 496.63 175.47 503.1 176.4C509.57 177.33 516.1 180.77 519.8 183.3C523.5 185.83 524.83 187.9 525.3 191.6C525.77 195.3 524.45 201.33 522.6 205.5C520.75 209.67 518.37 213.98 514.2 216.6C510.03 219.22 502.22 220.88 497.6 221.2C492.98 221.52 492.52 219.9 486.5 218.5C480.48 217.1 469.37 214.97 461.5 212.8C453.63 210.63 444.62 208.1 439.3 205.5C433.98 202.9 431.9 200.9 429.6 197.2C427.3 193.5 426.27 188.4 425.5 183.3C424.73 178.2 424.67 172.15 425 166.6C425.33 161.05 426.03 152.93 427.5 150C428.97 147.07 431.6 148.08 433.8 149Z" fill="#d2d7ec"/>
<path d="M578.1 138.5C584.28 138.15 603.73 141.63 609.9 144.8C616.07 147.97 614.4 152.2 615.1 157.5C615.8 162.8 616.03 171.3 614.1 176.6C612.17 181.9 607.38 185.25 603.5 189.3C599.62 193.35 596.08 198.62 590.8 200.9C585.52 203.18 577.27 203 571.8 203C566.33 203 560.12 202.48 558 200.9C555.88 199.32 557.52 200.02 559.1 193.5C560.68 186.98 565.22 169.57 567.5 161.8C569.78 154.03 571.03 150.78 572.8 146.9C574.57 143.02 571.92 138.85 578.1 138.5Z" fill="#dfeed6"/>
<path d="M449.5 73.1L400.4 98.1M449.5 73.1L408.8 114.4M449.5 73.1L376 157.7M400.4 98.1L408.8 114.4M400.4 98.1L371.5 148M400.4 98.1L376 157.7M426.7 95.5L371.5 148M426.7 95.5L376 157.7M426.7 95.5L383.9 155.9M426.7 95.5L383.3 170.4M426.7 95.5L385.2 178.2M426.7 95.5L398.8 137M426.7 95.5L408.8 114.4M408.8 114.4L376 157.7M408.8 114.4L383.9 155.9M408.8 114.4L383.3 170.4M408.8 114.4L371.5 148M408.8 114.4L416.2 125.7M408.8 114.4L398.8 137M416.2 125.7L371.5 148M416.2 125.7L383.9 155.9M416.2 125.7L452.2 142.4M416.2 125.7L431.2 151.1M416.2 125.7L398.8 137M416.2 125.7L442.1 178.6M398.8 137L371.5 148M398.8 137L383.9 155.9M398.8 137L376 157.7M398.8 137L383.3 170.4M371.5 148L376 157.7M371.5 148L383.9 155.9M376 157.7L383.9 155.9M376 157.7L383.3 170.4M383.9 155.9L383.3 170.4M383.3 170.4L385.2 178.2M383.9 155.9L385.2 178.2M376 157.7L385.2 178.2M383.9 155.9L431.2 151.1M496.4 77.1L542.1 82.8M542.1 82.8L581.3 143.1M542.1 82.8L572 119.5M542.1 82.8L557.3 124.9M535.1 111.1L537.9 126.1M535.1 111.1L557.3 124.9M572 119.5L557.3 124.9M572 119.5L581.3 143.1M537.9 126.1L557.3 124.9M537.9 126.1L481.9 126.5M537.9 126.1L497 125.4M537.9 126.1L512.9 131.9M537.9 126.1L517.1 142.9M537.9 126.1L581.3 143.1M557.3 124.9L581.3 143.1M557.3 124.9L517.1 142.9M557.3 124.9L497 125.4M481.9 126.5L497 125.4M481.9 126.5L512.9 131.9M481.9 126.5L517.1 142.9M481.9 126.5L477.9 149.9M481.9 126.5L497.7 155.7M481.9 126.5L520.4 151.3M481.9 126.5L532.3 164.6M497 125.4L512.9 131.9M497 125.4L517.1 142.9M497 125.4L497.7 155.7M497 125.4L477.9 149.9M512.9 131.9L517.1 142.9M517.1 142.9L520.4 151.3M517.1 142.9L497.7 155.7M517.1 142.9L532.3 164.6M452.2 142.4L481.9 126.5M452.2 142.4L477.9 149.9M452.2 142.4L431.2 151.1M477.9 149.9L497.7 155.7M497.7 155.7L532.3 164.6M520.4 151.3L532.3 164.6M452.2 142.4L442.1 178.6M452.2 142.4L458.2 191M452.2 142.4L462.4 197.2M477.9 149.9L458.2 191M477.9 149.9L476.8 197.7M477.9 149.9L461 199.4M497.7 155.7L492 193.3M497.7 155.7L476.8 197.7M497.7 155.7L469.9 205.5M497 125.4L478.2 204.1M512.9 131.9L492 193.3M520.4 151.3L501.5 186M532.3 164.6L518.7 188.3M532.3 164.6L496.8 199.4M532.3 164.6L489.8 202.2M431.2 151.1L438.8 188.8M431.2 151.1L442.1 197.7M431.2 151.1L442.1 178.6M452.2 142.4L497.7 155.7M608.2 150.1L612 170.9M608.2 150.1L586.6 197.7M612 170.9L586.6 197.7M586.6 197.7L562.6 198.8M442.1 178.6L438.8 188.8M442.1 178.6L458.2 191M442.1 178.6L442.1 197.7M442.1 178.6L446.3 197.7M442.1 178.6L449.9 198.8M442.1 178.6L448.2 200.5M442.1 178.6L461 199.4M442.1 178.6L462.4 197.2M442.1 178.6L463.5 206.9M442.1 178.6L469.9 205.5M442.1 178.6L476.8 197.7M442.1 178.6L478.2 204.1M442.1 178.6L492 193.3M442.1 178.6L489.8 202.2M442.1 178.6L492 200.5M442.1 178.6L496.8 199.4M442.1 178.6L501.5 186M438.8 188.8L446.3 197.7M438.8 188.8L449.9 198.8M438.8 188.8L448.2 200.5M438.8 188.8L462.4 197.2M438.8 188.8L463.5 206.9M438.8 188.8L469.9 205.5M438.8 188.8L476.8 197.7M438.8 188.8L478.2 204.1M438.8 188.8L492 193.3M438.8 188.8L489.8 202.2M438.8 188.8L492 200.5M438.8 188.8L496.8 199.4M458.2 191L442.1 197.7M458.2 191L446.3 197.7M458.2 191L449.9 198.8M458.2 191L448.2 200.5M458.2 191L461 199.4M458.2 191L462.4 197.2M458.2 191L463.5 206.9M458.2 191L469.9 205.5M458.2 191L492 193.3M458.2 191L489.8 202.2M458.2 191L492 200.5M458.2 191L496.8 199.4M458.2 191L495.7 210.5M458.2 191L494 216M458.2 191L499 206.9M442.1 197.7L446.3 197.7M442.1 197.7L449.9 198.8M442.1 197.7L461 199.4M442.1 197.7L462.4 197.2M442.1 197.7L463.5 206.9M442.1 197.7L469.9 205.5M442.1 197.7L476.8 197.7M442.1 197.7L478.2 204.1M442.1 197.7L492 193.3M442.1 197.7L489.8 202.2M442.1 197.7L492 200.5M442.1 197.7L496.8 199.4M442.1 197.7L495.7 210.5M442.1 197.7L494 216M442.1 197.7L499 206.9M446.3 197.7L449.9 198.8M446.3 197.7L448.2 200.5M446.3 197.7L461 199.4M446.3 197.7L462.4 197.2M446.3 197.7L463.5 206.9M446.3 197.7L469.9 205.5M446.3 197.7L476.8 197.7M446.3 197.7L478.2 204.1M446.3 197.7L489.8 202.2M446.3 197.7L492 200.5M446.3 197.7L496.8 199.4M446.3 197.7L501.5 186M446.3 197.7L494 216M446.3 197.7L499 206.9M449.9 198.8L461 199.4M449.9 198.8L462.4 197.2M449.9 198.8L469.9 205.5M449.9 198.8L476.8 197.7M449.9 198.8L478.2 204.1M449.9 198.8L492 193.3M449.9 198.8L492 200.5M449.9 198.8L496.8 199.4M449.9 198.8L501.5 186M449.9 198.8L494 216M449.9 198.8L499 206.9M448.2 200.5L461 199.4M448.2 200.5L462.4 197.2M448.2 200.5L463.5 206.9M448.2 200.5L469.9 205.5M448.2 200.5L478.2 204.1M448.2 200.5L492 193.3M448.2 200.5L489.8 202.2M448.2 200.5L492 200.5M448.2 200.5L496.8 199.4M448.2 200.5L501.5 186M448.2 200.5L495.7 210.5M448.2 200.5L494 216M448.2 200.5L499 206.9M461 199.4L462.4 197.2M461 199.4L463.5 206.9M461 199.4L469.9 205.5M461 199.4L476.8 197.7M461 199.4L478.2 204.1M461 199.4L489.8 202.2M461 199.4L492 200.5M461 199.4L496.8 199.4M461 199.4L501.5 186M461 199.4L518.7 188.3M461 199.4L495.7 210.5M461 199.4L494 216M461 199.4L499 206.9M462.4 197.2L463.5 206.9M462.4 197.2L469.9 205.5M462.4 197.2L476.8 197.7M462.4 197.2L478.2 204.1M462.4 197.2L492 193.3M462.4 197.2L489.8 202.2M462.4 197.2L492 200.5M462.4 197.2L496.8 199.4M462.4 197.2L501.5 186M462.4 197.2L518.7 188.3M462.4 197.2L495.7 210.5M462.4 197.2L494 216M462.4 197.2L499 206.9M463.5 206.9L469.9 205.5M463.5 206.9L476.8 197.7M463.5 206.9L478.2 204.1M463.5 206.9L492 193.3M463.5 206.9L489.8 202.2M463.5 206.9L492 200.5M463.5 206.9L496.8 199.4M463.5 206.9L518.7 188.3M463.5 206.9L495.7 210.5M463.5 206.9L494 216M463.5 206.9L499 206.9M469.9 205.5L476.8 197.7M469.9 205.5L478.2 204.1M469.9 205.5L492 193.3M469.9 205.5L489.8 202.2M469.9 205.5L492 200.5M469.9 205.5L496.8 199.4M469.9 205.5L501.5 186M469.9 205.5L518.7 188.3M469.9 205.5L495.7 210.5M469.9 205.5L499 206.9M476.8 197.7L478.2 204.1M476.8 197.7L492 193.3M476.8 197.7L489.8 202.2M476.8 197.7L492 200.5M476.8 197.7L496.8 199.4M476.8 197.7L501.5 186M476.8 197.7L518.7 188.3M476.8 197.7L495.7 210.5M476.8 197.7L494 216M478.2 204.1L489.8 202.2M478.2 204.1L496.8 199.4M478.2 204.1L518.7 188.3M478.2 204.1L495.7 210.5M478.2 204.1L494 216M478.2 204.1L499 206.9M492 193.3L492 200.5M492 193.3L496.8 199.4M492 193.3L518.7 188.3M492 193.3L495.7 210.5M489.8 202.2L492 200.5M489.8 202.2L496.8 199.4M489.8 202.2L501.5 186M489.8 202.2L518.7 188.3M489.8 202.2L495.7 210.5M489.8 202.2L494 216M489.8 202.2L499 206.9M492 200.5L496.8 199.4M492 200.5L501.5 186M492 200.5L518.7 188.3M492 200.5L495.7 210.5M492 200.5L494 216M492 200.5L499 206.9M496.8 199.4L495.7 210.5M496.8 199.4L494 216M496.8 199.4L499 206.9M501.5 186L495.7 210.5M501.5 186L494 216M501.5 186L499 206.9M518.7 188.3L495.7 210.5M518.7 188.3L494 216M495.7 210.5L494 216M494 216L499 206.9M383.3 170.4L438.8 188.8M383.3 170.4L458.2 191M383.3 170.4L494 216M383.3 170.4L476.8 197.7M383.3 170.4L449.9 198.8M383.3 170.4L463.5 206.9M383.3 170.4L462.4 197.2M383.3 170.4L496.8 199.4M383.3 170.4L442.1 197.7M383.3 170.4L489.8 202.2M383.3 170.4L442.1 178.6M385.2 178.2L518.7 188.3M385.2 178.2L449.9 198.8M385.2 178.2L492 193.3M385.2 178.2L478.2 204.1M385.2 178.2L496.8 199.4M385.2 178.2L476.8 197.7M385.2 178.2L489.8 202.2M385.2 178.2L462.4 197.2M385.2 178.2L446.3 197.7M385.2 178.2L442.1 178.6M385.2 178.2L499 206.9M383.9 155.9L461 199.4M383.9 155.9L518.7 188.3M383.9 155.9L501.5 186" stroke="#222" stroke-width="0.45" fill="none"/>
<circle cx="449.5" cy="73.1" r="2.2" fill="#1ee61e" stroke="#333" stroke-width="0.4"/>
<circle cx="496.4" cy="77.1" r="2.2" fill="#f00a0a" stroke="#333" stroke-width="0.4"/>
<circle cx="400.4" cy="98.1" r="2.2" fill="#1ee61e" stroke="#333" stroke-width="0.4"/>
<circle cx="426.7" cy="95.5" r="2.2" fill="#f00a0a" stroke="#333" stroke-width="0.4"/>
<circle cx="408.8" cy="114.4" r="2.2" fill="#1ee61e" stroke="#333" stroke-width="0.4"/>
<circle cx="416.2" cy="125.7" r="2.2" fill="#f00a0a" stroke="#333" stroke-width="0.4"/>
<circle cx="398.8" cy="137" r="2.2" fill="#f00a0a" stroke="#333" stroke-width="0.4"/>
<circle cx="371.5" cy="148" r="2.2" fill="#1ee61e" stroke="#333" stroke-width="0.4"/>
<circle cx="376" cy="157.7" r="2.2" fill="#f00a0a" stroke="#333" stroke-width="0.4"/>
<circle cx="383.9" cy="155.9" r="2.2" fill="#1ee61e" stroke="#333" stroke-width="0.4"/>
<circle cx="383.3" cy="170.4" r="2.2" fill="#1ee61e" stroke="#333" stroke-width="0.4"/>
<circle cx="385.2" cy="178.2" r="2.2" fill="#1ee61e" stroke="#333" stroke-width="0.4"/>
<circle cx="542.1" cy="82.8" r="2.2" fill="#ffffff" stroke="#333" stroke-width="0.4"/>
<circle cx="535.1" cy="111.1" r="2.2" fill="#ffffff" stroke="#333" stroke-width="0.4"/>
<circle cx="572" cy="119.5" r="2.2" fill="#ffffff" stroke="#333" stroke-width="0.4"/>
<circle cx="537.9" cy="126.1" r="2.2" fill="#0a0af0" stroke="#333" stroke-width="0.4"/>
<circle cx="557.3" cy="124.9" r="2.2" fill="#0a0af0" stroke="#333" stroke-width="0.4"/>
<circle cx="512.9" cy="131.9" r="2.2" fill="#0a0af0" stroke="#333" stroke-width="0.4"/>
<circle cx="481.9" cy="126.5" r="2.2" fill="#ffffff" stroke="#333" stroke-width="0.4"/>
<circle cx="497" cy="125.4" r="2.2" fill="#ffffff" stroke="#333" stroke-width="0.4"/>
<circle cx="517.1" cy="142.9" r="2.2" fill="#f00a0a" stroke="#333" stroke-width="0.4"/>
<circle cx="520.4" cy="151.3" r="2.2" fill="#ffffff" stroke="#333" stroke-width="0.4"/>
<circle cx="452.2" cy="142.4" r="2.2" fill="#ffffff" stroke="#333" stroke-width="0.4"/>
<circle cx="477.9" cy="149.9" r="2.2" fill="#ffffff" stroke="#333" stroke-width="0.4"/>
<circle cx="497.7" cy="155.7" r="2.2" fill="#ffffff" stroke="#333" stroke-width="0.4"/>
<circle cx="532.3" cy="164.6" r="2.2" fill="#0a0af0" stroke="#333" stroke-width="0.4"/>
<circle cx="431.2" cy="151.1" r="2.2" fill="#0a0af0" stroke="#333" stroke-width="0.4"/>
<circle cx="442.1" cy="178.6" r="2.2" fill="#0a0af0" stroke="#333" stroke-width="0.4"/>
<circle cx="438.8" cy="188.8" r="2.2" fill="#0a0af0" stroke="#333" stroke-width="0.4"/>
<circle cx="458.2" cy="191" r="2.2" fill="#0a0af0" stroke="#333" stroke-width="0.4"/>
<circle cx="442.1" cy="197.7" r="2.2" fill="#0a0af0" stroke="#333" stroke-width="0.4"/>
<circle cx="446.3" cy="197.7" r="2.2" fill="#0a0af0" stroke="#333" stroke-width="0.4"/>
<circle cx="449.9" cy="198.8" r="2.2" fill="#0a0af0" stroke="#333" stroke-width="0.4"/>
<circle cx="448.2" cy="200.5" r="2.2" fill="#0a0af0" stroke="#333" stroke-width="0.4"/>
<circle cx="461" cy="199.4" r="2.2" fill="#0a0af0" stroke="#333" stroke-width="0.4"/>
<circle cx="462.4" cy="197.2" r="2.2" fill="#0a0af0" stroke="#333" stroke-width="0.4"/>
<circle cx="463.5" cy="206.9" r="2.2" fill="#0a0af0" stroke="#333" stroke-width="0.4"/>
<circle cx="469.9" cy="205.5" r="2.2" fill="#0a0af0" stroke="#333" stroke-width="0.4"/>
<circle cx="476.8" cy="197.7" r="2.2" fill="#0a0af0" stroke="#333" stroke-width="0.4"/>
<circle cx="478.2" cy="204.1" r="2.2" fill="#0a0af0" stroke="#333" stroke-width="0.4"/>
<circle cx="492" cy="193.3" r="2.2" fill="#0a0af0" stroke="#333" stroke-width="0.4"/>
<circle cx="489.8" cy="202.2" r="2.2" fill="#0a0af0" stroke="#333" stroke-width="0.4"/>
<circle cx="492" cy="200.5" r="2.2" fill="#0a0af0" stroke="#333" stroke-width="0.4"/>
<circle cx="496.8" cy="199.4" r="2.2" fill="#0a0af0" stroke="#333" stroke-width="0.4"/>
<circle cx="501.5" cy="186" r="2.2" fill="#0a0af0" stroke="#333" stroke-width="0.4"/>
<circle cx="518.7" cy="188.3" r="2.2" fill="#0a0af0" stroke="#333" stroke-width="0.4"/>
<circle cx="499" cy="206.9" r="2.2" fill="#1ee61e" stroke="#333" stroke-width="0.4"/>
<circle cx="495.7" cy="210.5" r="2.2" fill="#0a0af0" stroke="#333" stroke-width="0.4"/>
<circle cx="494" cy="216" r="2.2" fill="#0a0af0" stroke="#333" stroke-width="0.4"/>
<circle cx="581.3" cy="143.1" r="2.2" fill="#1ee61e" stroke="#333" stroke-width="0.4"/>
<circle cx="608.2" cy="150.1" r="2.2" fill="#1ee61e" stroke="#333" stroke-width="0.4"/>
<circle cx="612" cy="170.9" r="2.2" fill="#1ee61e" stroke="#333" stroke-width="0.4"/>
<circle cx="586.6" cy="197.7" r="2.2" fill="#1ee61e" stroke="#333" stroke-width="0.4"/>
<circle cx="562.6" cy="198.8" r="2.2" fill="#1ee61e" stroke="#333" stroke-width="0.4"/>
<text class="nl" transform="translate(388.3 74.7) scale(0.92 1)" font-size="9.46">Somatosensory</text>
<text class="nl" transform="translate(353.6 95.6) scale(0.92 1)" font-size="9.46">Retrosplenial</text>
<text class="nl" transform="translate(342.3 117.1) scale(0.92 1)" font-size="9.46">Posterior parietal</text>
<text class="nl" transform="translate(342.3 123.7) scale(0.92 1)" font-size="9.46">association</text>
<text class="nl" transform="translate(338.7 149.1) scale(0.92 1)" font-size="9.46">Visceral</text>
<text class="nl" transform="translate(392.5 161.8) scale(0.92 1)" font-size="9.46">Temporal</text>
<text class="nl" transform="translate(392.5 167.8) scale(0.92 1)" font-size="9.46">association</text>
<text class="nl" transform="translate(343.1 173.1) scale(0.92 1)" font-size="9.46">Ectorhinal</text>
<text class="nl" transform="translate(347.2 180.2) scale(0.92 1)" font-size="9.46">Perirhinal</text>
<text class="nl" transform="translate(503.7 75.4) scale(0.92 1)" font-size="9.46">Anteroventral preoptic nucleus</text>
<text class="nl" transform="translate(547.8 84.5) scale(0.92 1)" font-size="9.46">Parabrachial nucleus</text>
<text class="nl" transform="translate(449.9 120.8) scale(0.92 1)" font-size="9.46">Ventral tegmental</text>
<text class="nl" transform="translate(449.9 126.7) scale(0.92 1)" font-size="9.46">nucleus</text>
<text class="nl" transform="translate(576.8 120.9) scale(0.92 1)" font-size="9.46">Periaqueductal gray</text>
<text class="nl" transform="translate(586.1 145.4) scale(0.92 1)" font-size="9.46">Hippocampal region</text>
<text class="nl" transform="translate(612.4 152.8) scale(0.92 1)" font-size="9.46">Infralimbic</text>
<text class="nl" transform="translate(616.6 174.4) scale(0.92 1)" font-size="9.46">Anterior cingulate</text>
<text class="nl" transform="translate(527 152.4) scale(0.92 1)" font-size="9.46">Anterior tegmental</text>
<text class="nl" transform="translate(527 158.2) scale(0.92 1)" font-size="9.46">nucleus</text>
<text class="nl" transform="translate(595.5 195.2) scale(0.92 1)" font-size="9.46">Septohippocampal</text>
<text class="nl" transform="translate(595.5 201.5) scale(0.92 1)" font-size="9.46">nucleus</text>
<text class="nl" transform="translate(565 208.5) scale(0.92 1)" font-size="9.46">Fundus of striatum</text>
<text class="nl" transform="translate(500.4 215) scale(0.92 1)" font-size="9.46">Septofimbrial nucleus</text>
<path d="M419.2 423.2C421.3 424.53 421.8 428.73 421.9 434.8C422 440.87 420.62 451.73 419.8 459.6C418.98 467.47 418.33 476.52 417 482C415.67 487.48 413.92 489.93 411.8 492.5C409.68 495.07 407.2 496.82 404.3 497.4C401.4 497.98 397.3 497.23 394.4 496C391.5 494.77 388.87 492.75 386.9 490C384.93 487.25 382.88 483.32 382.6 479.5C382.32 475.68 383.72 471.65 385.2 467.1C386.68 462.55 389.2 457.17 391.5 452.2C393.8 447.23 396.03 441.53 399 437.3C401.97 433.07 405.93 429.15 409.3 426.8C412.67 424.45 417.1 421.87 419.2 423.2Z" fill="#f8d2d4"/>
<path d="M419.9 483.4C420.13 479.13 420.55 473.47 423.4 469.4C426.25 465.33 432.4 463.4 437 459C441.6 454.6 447.82 449.43 451 443C454.18 436.57 454.08 425.33 456.1 420.4C458.12 415.47 459.6 415.55 463.1 413.4C466.6 411.25 472.05 409.07 477.1 407.5C482.15 405.93 486.78 404.67 493.4 404C500.02 403.33 509 403.1 516.8 403.5C524.6 403.9 532.17 404.98 540.2 406.4C548.23 407.82 556.37 409.57 565 412C573.63 414.43 585.67 418 592 421C598.33 424 600.17 426.17 603 430C605.83 433.83 608.17 439.67 609 444C609.83 448.33 609 452 608 456C607 460 605.33 463.83 603 468C600.67 472.17 598.67 476.17 594 481C589.33 485.83 582.67 491.38 575 497C567.33 502.62 556 510 548 514.7C540 519.4 534.42 521.92 527 525.2C519.58 528.48 508.73 532.3 503.5 534.4C498.27 536.5 497.78 537.58 495.6 537.8C493.42 538.02 492.15 539.12 490.4 535.7C488.65 532.28 489.48 521.68 485.1 517.3C480.72 512.92 471.62 511.78 464.1 509.4C456.58 507.02 447.02 505.4 440 503C432.98 500.6 425.35 498.27 422 495C418.65 491.73 419.67 487.67 419.9 483.4Z" fill="#d2d7ec"/>
<path d="M517.1 370.7C517.98 369.37 515.45 364.28 525.1 368C534.75 371.72 559.45 385.78 575 393C590.55 400.22 608.73 405.47 618.4 411.3C628.07 417.13 629.98 421.72 633 428C636.02 434.28 637.33 442 636.5 449C635.67 456 632.58 463.08 628 470C623.42 476.92 617.72 482.2 609 490.5C600.28 498.8 586.57 511.37 575.7 519.8C564.83 528.23 551.78 537.1 543.8 541.1C535.82 545.1 530.92 545.12 527.8 543.8C524.68 542.48 522.43 537.2 525.1 533.2C527.77 529.2 535.98 524.7 543.8 519.8C551.62 514.9 563.3 510.27 572 503.8C580.7 497.33 589.83 488.13 596 481C602.17 473.87 606.17 467.83 609 461C611.83 454.17 613.5 446.67 613 440C612.5 433.33 611.5 426.67 606 421C600.5 415.33 592.15 412.62 580 406C567.85 399.38 543.13 386.3 533.1 381.3C523.07 376.3 522.47 377.77 519.8 376C517.13 374.23 516.22 372.03 517.1 370.7Z" fill="#dfeed6"/>
<path d="M418 429.2L397.4 432.8M418 429.2L388.9 463.9M418 429.2L396.9 466.6M418 429.2L405.6 462M418 429.2L387.7 479M397.4 432.8L388.9 463.9M397.4 432.8L387.7 479M388.9 463.9L396.9 466.6M388.9 463.9L405.6 462M388.9 463.9L387.7 479M388.9 463.9L383.7 481.5M396.9 466.6L405.6 462M396.9 466.6L387.7 479M396.9 466.6L405.6 493.9M405.6 462L405.6 493.9M387.7 479L383.7 481.5M387.7 479L405.6 493.9M383.7 481.5L396.9 466.6M405.6 462L387.7 479M418 429.2L464.8 480M388.9 463.9L461.4 422.8M388.9 463.9L456.9 431.6M396.9 466.6L461.4 422.8M405.6 462L456.9 431.6M522.2 411.8L533.9 448.9M522.4 375.4L620.6 421.2M620.6 421.2L629.3 448.8M620.6 421.2L599.3 438M620.6 421.2L597.6 459.7M629.3 448.8L603.9 496M629.3 448.8L578.9 511.9M629.3 448.8L562.1 447.3M629.3 448.8L597.6 459.7M599.3 438L597.6 459.7M599.3 438L595.6 474M599.3 438L591.5 484.3M599.3 438L562.1 447.3M599.3 438L515.7 453M588.2 489.1L578.9 511.9M588.2 489.1L531.5 536M578.9 511.9L531.5 536M578.9 511.9L603.9 496M591.5 484.3L588.2 489.1M531.5 536L529.2 523.5M531.5 536L493.1 532.1M531.5 536L487.7 514.9M531.5 536L523.4 512.8M493.1 532.1L487.7 514.9M493.1 532.1L529.2 523.5M578.9 511.9L534.6 509.9M578.9 511.9L591.5 484.3M515.7 453L533.9 448.9M533.9 448.9L562.1 447.3M515.7 453L464.8 480M533.9 448.9L464.8 480M562.1 447.3L597.6 459.7M562.1 447.3L561.9 464.5M562.1 447.3L568.2 464.1M603.9 496L591.5 484.3M603.9 496L595.6 474M439.1 493.9L462 503M464.8 480L493.8 491.2M464.8 480L462 503M515.7 453L533.9 448.9M515.7 453L562.1 447.3M515.7 453L561.9 464.5M515.7 453L509.7 485M515.7 453L514.7 497.4M515.7 453L539.6 485.9M533.9 448.9L568.2 464.1M533.9 448.9L539.6 485.9M562.1 447.3L568.2 464.1M562.1 447.3L597.6 459.7M562.1 447.3L539.6 485.9M562.1 447.3L557.8 492.9M561.9 464.5L568.2 464.1M561.9 464.5L595.6 474M561.9 464.5L557.8 492.9M568.2 464.1L595.6 474M568.2 464.1L539.6 485.9M568.2 464.1L557.8 492.9M568.2 464.1L599.3 438M568.2 464.1L591.5 484.3M568.2 464.1L588.2 489.1M597.6 459.7L595.6 474M597.6 459.7L591.5 484.3M597.6 459.7L588.2 489.1M595.6 474L557.8 492.9M595.6 474L599.3 438M595.6 474L591.5 484.3M595.6 474L603.9 496M493.8 491.2L514.7 497.4M493.8 491.2L523.4 512.8M493.8 491.2L529.2 523.5M493.8 491.2L462 503M493.8 491.2L493.1 532.1M509.7 485L514.7 497.4M509.7 485L487.7 514.9M514.7 497.4L539.6 485.9M514.7 497.4L557.8 492.9M514.7 497.4L487.7 514.9M514.7 497.4L534.6 509.9M539.6 485.9L523.4 512.8M539.6 485.9L529.2 523.5M557.8 492.9L523.4 512.8M557.8 492.9L591.5 484.3M557.8 492.9L603.9 496M487.7 514.9L523.4 512.8M487.7 514.9L534.6 509.9M487.7 514.9L529.2 523.5M487.7 514.9L458.5 487.7M487.7 514.9L462 503M523.4 512.8L529.2 523.5M523.4 512.8L493.1 532.1M534.6 509.9L493.1 532.1M529.2 523.5L493.1 532.1M458.5 487.7L462 503M591.5 484.3L588.2 489.1M591.5 484.3L603.9 496M588.2 489.1L603.9 496M388.9 463.9L439.1 493.9M388.9 463.9L464.8 480M388.9 463.9L458.5 487.7M396.9 466.6L424.3 480M396.9 466.6L515.7 453M396.9 466.6L439.1 493.9M405.6 462L515.7 453M405.6 462L509.7 485M405.6 462L493.8 491.2M387.7 479L493.8 491.2M387.7 479L458.5 487.7M387.7 479L424.3 480M383.7 481.5L462 503M383.7 481.5L464.8 480M383.7 481.5L439.1 493.9M405.6 493.9L509.7 485M405.6 493.9L462 503M405.6 493.9L515.7 453M424.3 480L493.8 491.2M424.3 480L533.9 448.9M424.3 480L514.7 497.4M424.3 480L462 503M439.1 493.9L464.8 480M439.1 493.9L534.6 509.9M439.1 493.9L515.7 453M464.8 480L509.7 485M464.8 480L529.2 523.5M464.8 480L439.1 493.9M464.8 480L523.4 512.8M458.5 487.7L561.9 464.5M458.5 487.7L439.1 493.9M458.5 487.7L464.8 480M458.5 487.7L539.6 485.9M462 503L539.6 485.9M462 503L464.8 480M462 503L568.2 464.1M462 503L534.6 509.9" stroke="#222" stroke-width="0.45" fill="none"/>
<circle cx="418" cy="429.2" r="2.2" fill="#f00a0a" stroke="#333" stroke-width="0.4"/>
<circle cx="397.4" cy="432.8" r="2.2" fill="#0a0af0" stroke="#333" stroke-width="0.4"/>
<circle cx="388.9" cy="463.9" r="2.2" fill="#f00a0a" stroke="#333" stroke-width="0.4"/>
<circle cx="396.9" cy="466.6" r="2.2" fill="#f00a0a" stroke="#333" stroke-width="0.4"/>
<circle cx="405.6" cy="462" r="2.2" fill="#f00a0a" stroke="#333" stroke-width="0.4"/>
<circle cx="387.7" cy="479" r="2.2" fill="#f00a0a" stroke="#333" stroke-width="0.4"/>
<circle cx="383.7" cy="481.5" r="2.2" fill="#ffffff" stroke="#333" stroke-width="0.4"/>
<circle cx="405.6" cy="493.9" r="2.2" fill="#ffffff" stroke="#333" stroke-width="0.4"/>
<circle cx="461.4" cy="422.8" r="2.2" fill="#0a0af0" stroke="#333" stroke-width="0.4"/>
<circle cx="456.9" cy="431.6" r="2.2" fill="#0a0af0" stroke="#333" stroke-width="0.4"/>
<circle cx="522.2" cy="411.8" r="2.2" fill="#0a0af0" stroke="#333" stroke-width="0.4"/>
<circle cx="424.3" cy="480" r="2.2" fill="#0a0af0" stroke="#333" stroke-width="0.4"/>
<circle cx="439.1" cy="493.9" r="2.2" fill="#0a0af0" stroke="#333" stroke-width="0.4"/>
<circle cx="458.5" cy="487.7" r="2.2" fill="#f00a0a" stroke="#333" stroke-width="0.4"/>
<circle cx="464.8" cy="480" r="2.2" fill="#0a0af0" stroke="#333" stroke-width="0.4"/>
<circle cx="462" cy="503" r="2.2" fill="#0a0af0" stroke="#333" stroke-width="0.4"/>
<circle cx="515.7" cy="453" r="2.2" fill="#0a0af0" stroke="#333" stroke-width="0.4"/>
<circle cx="533.9" cy="448.9" r="2.2" fill="#0a0af0" stroke="#333" stroke-width="0.4"/>
<circle cx="562.1" cy="447.3" r="2.2" fill="#0a0af0" stroke="#333" stroke-width="0.4"/>
<circle cx="561.9" cy="464.5" r="2.2" fill="#0a0af0" stroke="#333" stroke-width="0.4"/>
<circle cx="568.2" cy="464.1" r="2.2" fill="#0a0af0" stroke="#333" stroke-width="0.4"/>
<circle cx="597.6" cy="459.7" r="2.2" fill="#0a0af0" stroke="#333" stroke-width="0.4"/>
<circle cx="595.6" cy="474" r="2.2" fill="#0a0af0" stroke="#333" stroke-width="0.4"/>
<circle cx="493.8" cy="491.2" r="2.2" fill="#0a0af0" stroke="#333" stroke-width="0.4"/>
<circle cx="509.7" cy="485" r="2.2" fill="#0a0af0" stroke="#333" stroke-width="0.4"/>
<circle cx="514.7" cy="497.4" r="2.2" fill="#0a0af0" stroke="#333" stroke-width="0.4"/>
<circle cx="539.6" cy="485.9" r="2.2" fill="#0a0af0" stroke="#333" stroke-width="0.4"/>
<circle cx="557.8" cy="492.9" r="2.2" fill="#0a0af0" stroke="#333" stroke-width="0.4"/>
<circle cx="487.7" cy="514.9" r="2.2" fill="#0a0af0" stroke="#333" stroke-width="0.4"/>
<circle cx="523.4" cy="512.8" r="2.2" fill="#0a0af0" stroke="#333" stroke-width="0.4"/>
<circle cx="534.6" cy="509.9" r="2.2" fill="#0a0af0" stroke="#333" stroke-width="0.4"/>
<circle cx="529.2" cy="523.5" r="2.2" fill="#0a0af0" stroke="#333" stroke-width="0.4"/>
<circle cx="493.1" cy="532.1" r="2.2" fill="#0a0af0" stroke="#333" stroke-width="0.4"/>
<circle cx="603.9" cy="496" r="2.2" fill="#0a0af0" stroke="#333" stroke-width="0.4"/>
<circle cx="522.4" cy="375.4" r="2.2" fill="#1ee61e" stroke="#333" stroke-width="0.4"/>
<circle cx="620.6" cy="421.2" r="2.2" fill="#1ee61e" stroke="#333" stroke-width="0.4"/>
<circle cx="629.3" cy="448.8" r="2.2" fill="#1ee61e" stroke="#333" stroke-width="0.4"/>
<circle cx="599.3" cy="438" r="2.2" fill="#ffffff" stroke="#333" stroke-width="0.4"/>
<circle cx="591.5" cy="484.3" r="2.2" fill="#ffffff" stroke="#333" stroke-width="0.4"/>
<circle cx="588.2" cy="489.1" r="2.2" fill="#1ee61e" stroke="#333" stroke-width="0.4"/>
<circle cx="578.9" cy="511.9" r="2.2" fill="#1ee61e" stroke="#333" stroke-width="0.4"/>
<circle cx="531.5" cy="536" r="2.2" fill="#1ee61e" stroke="#333" stroke-width="0.4"/>
<text class="nl" transform="translate(527.8 374.6) scale(0.92 1)" font-size="9.46">Somatosensory</text>
<text class="nl" transform="translate(623.7 420) scale(0.92 1)" font-size="9.46">Somatomotor</text>
<text class="nl" transform="translate(632.3 451.3) scale(0.92 1)" font-size="9.46">Infralimbic</text>
<text class="nl" transform="translate(484 405.5) scale(0.92 1)" font-size="9.46">Posterior triangular</text>
<text class="nl" transform="translate(484 412.9) scale(0.92 1)" font-size="9.46">thalamus</text>
<text class="nl" transform="translate(465.4 421.6) scale(0.92 1)" font-size="9.46">Medial</text>
<text class="nl" transform="translate(465.4 429.1) scale(0.92 1)" font-size="9.46">habenula</text>
<text class="nl" transform="translate(460.9 439) scale(0.92 1)" font-size="9.46">Reticular</text>
<text class="nl" transform="translate(460.9 446.4) scale(0.92 1)" font-size="9.46">nucleus</text>
<text class="nl" transform="translate(376.5 426) scale(0.92 1)" font-size="9.46">Parastrial</text>
<text class="nl" transform="translate(334.8 435.4) scale(0.92 1)" font-size="9.46">Lateral preoptic</text>
<text class="nl" transform="translate(332.8 457.8) scale(0.92 1)" font-size="9.46">Lateral</text>
<text class="nl" transform="translate(332.8 464.7) scale(0.92 1)" font-size="9.46">hypothalamus</text>
<text class="nl" transform="translate(316.2 478.4) scale(0.92 1)" font-size="9.46">Ventral tegmental</text>
<text class="nl" transform="translate(316.2 485.8) scale(0.92 1)" font-size="9.46">nucleus</text>
<text class="nl" transform="translate(333.6 498.7) scale(0.92 1)" font-size="9.46">Ventral tegmental</text>
<text class="nl" transform="translate(333.6 505.6) scale(0.92 1)" font-size="9.46">area</text>
<text class="nl" transform="translate(395.6 508.4) scale(0.92 1)" font-size="9.46">Reticular nucleus</text>
<text class="nl" transform="translate(408.1 535.5) scale(0.92 1)" font-size="9.46">Anterodorsal nucleus</text>
<text class="nl" transform="translate(536.2 539.4) scale(0.92 1)" font-size="9.46">Septofimbrial nucleus</text>
<text class="nl" transform="translate(581.5 516.4) scale(0.92 1)" font-size="9.46">Anterior cingulate</text>
<text class="nl" transform="translate(608.8 501.6) scale(0.92 1)" font-size="9.46">Parataenial nucleus</text>
<path d="M453.2 730.5C456.92 730.05 461.28 730.47 465 733.1C468.72 735.73 472.87 740.6 475.5 746.3C478.13 752 480.35 760.73 480.8 767.3C481.25 773.87 480.4 779.57 478.2 785.7C476 791.83 471.98 798.85 467.6 804.1C463.22 809.35 456.72 812.82 451.9 817.2C447.08 821.58 441.33 826.9 438.7 830.4C436.07 833.9 435.65 835.58 436.1 838.2C436.55 840.82 439.2 842.58 441.4 846.1C443.6 849.62 448.22 855.13 449.3 859.3C450.38 863.47 449.67 868.05 447.9 871.1C446.13 874.15 443.28 876.52 438.7 877.6C434.12 878.68 425.43 878.9 420.4 877.6C415.37 876.3 410.92 874.17 408.5 869.8C406.08 865.43 405.9 858.85 405.9 851.4C405.9 843.95 407.18 833.87 408.5 825.1C409.82 816.33 411.82 806.68 413.8 798.8C415.78 790.92 417.55 785.23 420.4 777.8C423.25 770.37 427.18 761.2 430.9 754.2C434.62 747.2 438.98 739.75 442.7 735.8C446.42 731.85 449.48 730.95 453.2 730.5Z" fill="#d2d7ec"/>
<path d="M541.9 745.1C543.83 743.48 548.6 742.18 551.5 745.1C554.4 748.02 556.07 757.12 559.3 762.6C562.53 768.08 565.75 772.85 570.9 778C576.05 783.15 584.08 788.98 590.2 793.5C596.32 798.02 604.37 801.55 607.6 805.1C610.83 808.65 610.57 811.58 609.6 814.8C608.63 818.02 605.03 819.57 601.8 824.4C598.57 829.23 594.07 836.7 590.2 843.8C586.33 850.9 582.47 861.2 578.6 867C574.73 872.8 574.08 875.7 567 878.6C559.92 881.5 544.17 883.43 536.1 884.4C528.03 885.37 521.83 885.37 518.6 884.4C515.37 883.43 513.78 882.78 516.7 878.6C519.62 874.42 529.97 866.38 536.1 859.3C542.23 852.22 549.97 843.2 553.5 836.1C557.03 829 557.3 823.15 557.3 816.7C557.3 810.25 555.43 804.48 553.5 797.4C551.57 790.32 547.97 781.3 545.7 774.2C543.43 767.1 540.53 759.65 539.9 754.8C539.27 749.95 539.97 746.72 541.9 745.1Z" fill="#f8d2d4"/>
<path d="M461.6 738.9L460.5 756.3M460.5 756.3L450 768.6M460.5 756.3L435.3 781.2M450 768.6L435.3 781.2M435.3 781.2L475 771.5M475 771.5L453.2 804.1M435.3 781.2L417.7 824M453.2 804.1L437.7 813.3M453.2 804.1L417.7 824M437.7 813.3L417.7 824M417.7 824L415.6 838.2M417.7 824L435.3 851.9M417.7 824L441.4 864M415.6 838.2L414.8 855M415.6 838.2L427.2 861.4M415.6 838.2L435.3 851.9M415.6 838.2L441.4 864M414.8 855L435.3 851.9M414.8 855L427.2 861.4M414.8 855L441.4 864M427.2 861.4L435.3 851.9M427.2 861.4L441.4 864M435.3 851.9L441.4 864M437.7 813.3L415.6 838.2M417.7 824L427.2 861.4M547.7 750.9L562.4 777.3M562.4 777.3L575.5 793.5M562.4 777.3L581.7 799.7M562.4 777.3L556.6 802M562.4 777.3L584 809.7M562.4 777.3L565.5 819.8M562.4 777.3L602.6 810.9M575.5 793.5L581.7 799.7M575.5 793.5L556.6 802M575.5 793.5L584 809.7M575.5 793.5L602.6 810.9M581.7 799.7L584 809.7M581.7 799.7L602.6 810.9M581.7 799.7L556.6 802M556.6 802L584 809.7M556.6 802L565.5 819.8M556.6 802L602.6 810.9M584 809.7L602.6 810.9M584 809.7L594.5 827.5M565.5 819.8L602.6 810.9M565.5 819.8L584 809.7M565.5 819.8L565.5 839.1M575.5 793.5L565.5 819.8M602.6 810.9L594.5 827.5M602.6 810.9L565.5 839.1M594.5 827.5L565.5 839.1M602.6 810.9L568.9 862M565.5 839.1L568.9 862M565.5 839.1L544.6 873.2M568.9 862L544.6 873.2M568.9 862L521.4 879.4M544.6 873.2L521.4 879.4M521.4 879.4L594.5 827.5M581.7 799.7L594.5 827.5M575.5 793.5L594.5 827.5M556.6 802L594.5 827.5" stroke="#222" stroke-width="0.45" fill="none"/>
<circle cx="461.6" cy="738.9" r="2.2" fill="#1ee61e" stroke="#333" stroke-width="0.4"/>
<circle cx="460.5" cy="756.3" r="2.2" fill="#ffffff" stroke="#333" stroke-width="0.4"/>
<circle cx="450" cy="768.6" r="2.2" fill="#ffffff" stroke="#333" stroke-width="0.4"/>
<circle cx="475" cy="771.5" r="2.2" fill="#f00a0a" stroke="#333" stroke-width="0.4"/>
<circle cx="435.3" cy="781.2" r="2.2" fill="#0a0af0" stroke="#333" stroke-width="0.4"/>
<circle cx="453.2" cy="804.1" r="2.2" fill="#1ee61e" stroke="#333" stroke-width="0.4"/>
<circle cx="437.7" cy="813.3" r="2.2" fill="#1ee61e" stroke="#333" stroke-width="0.4"/>
<circle cx="417.7" cy="824" r="2.2" fill="#1ee61e" stroke="#333" stroke-width="0.4"/>
<circle cx="415.6" cy="838.2" r="2.2" fill="#1ee61e" stroke="#333" stroke-width="0.4"/>
<circle cx="435.3" cy="851.9" r="2.2" fill="#1ee61e" stroke="#333" stroke-width="0.4"/>
<circle cx="414.8" cy="855" r="2.2" fill="#0a0af0" stroke="#333" stroke-width="0.4"/>
<circle cx="427.2" cy="861.4" r="2.2" fill="#0a0af0" stroke="#333" stroke-width="0.4"/>
<circle cx="441.4" cy="864" r="2.2" fill="#1ee61e" stroke="#333" stroke-width="0.4"/>
<circle cx="547.7" cy="750.9" r="2.2" fill="#ffffff" stroke="#333" stroke-width="0.4"/>
<circle cx="562.4" cy="777.3" r="2.2" fill="#f00a0a" stroke="#333" stroke-width="0.4"/>
<circle cx="575.5" cy="793.5" r="2.2" fill="#f00a0a" stroke="#333" stroke-width="0.4"/>
<circle cx="581.7" cy="799.7" r="2.2" fill="#f00a0a" stroke="#333" stroke-width="0.4"/>
<circle cx="556.6" cy="802" r="2.2" fill="#f00a0a" stroke="#333" stroke-width="0.4"/>
<circle cx="584" cy="809.7" r="2.2" fill="#f00a0a" stroke="#333" stroke-width="0.4"/>
<circle cx="565.5" cy="819.8" r="2.2" fill="#f00a0a" stroke="#333" stroke-width="0.4"/>
<circle cx="602.6" cy="810.9" r="2.2" fill="#1ee61e" stroke="#333" stroke-width="0.4"/>
<circle cx="594.5" cy="827.5" r="2.2" fill="#1ee61e" stroke="#333" stroke-width="0.4"/>
<circle cx="565.5" cy="839.1" r="2.2" fill="#1ee61e" stroke="#333" stroke-width="0.4"/>
<circle cx="568.9" cy="862" r="2.2" fill="#1ee61e" stroke="#333" stroke-width="0.4"/>
<circle cx="544.6" cy="873.2" r="2.2" fill="#1ee61e" stroke="#333" stroke-width="0.4"/>
<circle cx="521.4" cy="879.4" r="2.2" fill="#1ee61e" stroke="#333" stroke-width="0.4"/>
<text class="nl" transform="translate(379.1 741.6) scale(0.92 1)" font-size="9.46">Hippocampal region</text>
<text class="nl" transform="translate(325.8 784.2) scale(0.92 1)" font-size="9.46">Posterior triangular nucleus</text>
<text class="nl" transform="translate(340.7 825.2) scale(0.92 1)" font-size="9.46">Retrohippocampus</text>
<text class="nl" transform="translate(439.3 824.9) scale(0.92 1)" font-size="9.46">Posterior parietal</text>
<text class="nl" transform="translate(436.9 832.3) scale(0.92 1)" font-size="9.46">association areas</text>
<text class="nl" transform="translate(322.6 857.7) scale(0.92 1)" font-size="9.46">Lateral dorsal nucleus</text>
<text class="nl" transform="translate(340.2 867.2) scale(0.92 1)" font-size="9.46">Ventral posteromedial</text>
<text class="nl" transform="translate(393.9 874.3) scale(0.92 1)" font-size="9.46">nucleus</text>
<text class="nl" transform="translate(552.7 752.3) scale(0.92 1)" font-size="9.46">Ventral tegmental area</text>
<text class="nl" transform="translate(606.5 814.6) scale(0.92 1)" font-size="9.46">Anterior cingulate</text>
<text class="nl" transform="translate(599.1 832.8) scale(0.92 1)" font-size="9.46">Infralimbic</text>
<text class="nl" transform="translate(509.7 840.5) scale(0.92 1)" font-size="9.46">Somatomotor</text>
<text class="nl" transform="translate(574 867.6) scale(0.92 1)" font-size="9.46">Prelimbic</text>
<text class="nl" transform="translate(549.6 880) scale(0.92 1)" font-size="9.46">Nucleus accumbens</text>
<text class="nl" transform="translate(492.7 882.3) scale(0.92 1)" font-size="9.46">Orbital</text>
<circle cx="366.7" cy="224.6" r="2.7" fill="#1ee61e" stroke="#333" stroke-width="0.45"/>
<text x="372.6" y="228" font-size="9.9">telencephalon</text>
<circle cx="366.7" cy="234.2" r="2.7" fill="#0a0af0" stroke="#333" stroke-width="0.45"/>
<text x="372.6" y="237.6" font-size="9.9">diencephalon</text>
<circle cx="366.7" cy="243.8" r="2.7" fill="#f00a0a" stroke="#333" stroke-width="0.45"/>
<text x="372.6" y="247.2" font-size="9.9">mesencephalon</text>
<circle cx="366.7" cy="253.4" r="2.7" fill="#ffffff" stroke="#333" stroke-width="0.45"/>
<text x="372.6" y="256.8" font-size="9.9">metencephalon</text>
</svg>
</body></html>
